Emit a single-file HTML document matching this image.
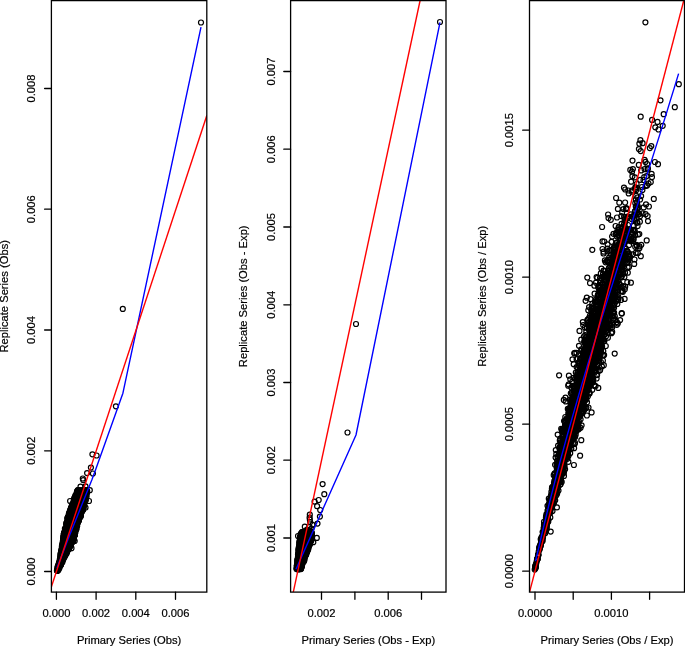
<!DOCTYPE html>
<html><head><meta charset="utf-8"><title>Replicate vs Primary Series</title>
<style>html,body{margin:0;padding:0;background:#fff}svg{display:block;will-change:transform;font-family:"Liberation Sans",Arial,Helvetica,sans-serif}</style></head><body>
<svg width="685" height="646" viewBox="0 0 685 646">
<rect width="685" height="646" fill="#fff"/>
<clipPath id="c51"><rect x="51.4" y="0" width="155.4" height="592.1"/></clipPath>
<g clip-path="url(#c51)">
<g fill="none" stroke="#000" stroke-width="1.2">
<circle cx="62.9" cy="551.7" r="2.5"/>
<circle cx="57.9" cy="566.6" r="2.5"/>
<circle cx="76.2" cy="507.3" r="2.5"/>
<circle cx="63.9" cy="533.6" r="2.5"/>
<circle cx="77.8" cy="492.9" r="2.5"/>
<circle cx="78.3" cy="494" r="2.5"/>
<circle cx="69.3" cy="517.3" r="2.5"/>
<circle cx="70.6" cy="538" r="2.5"/>
<circle cx="79.1" cy="502.4" r="2.5"/>
<circle cx="66.2" cy="548.8" r="2.5"/>
<circle cx="77.2" cy="501.1" r="2.5"/>
<circle cx="73.4" cy="534.3" r="2.5"/>
<circle cx="67.6" cy="517.7" r="2.5"/>
<circle cx="76.2" cy="515.7" r="2.5"/>
<circle cx="80.8" cy="496.2" r="2.5"/>
<circle cx="73.4" cy="506.3" r="2.5"/>
<circle cx="62.6" cy="549.4" r="2.5"/>
<circle cx="70.9" cy="536" r="2.5"/>
<circle cx="68.6" cy="545.9" r="2.5"/>
<circle cx="84.6" cy="491.6" r="2.5"/>
<circle cx="82" cy="490.3" r="2.5"/>
<circle cx="57.7" cy="569.2" r="2.5"/>
<circle cx="78.4" cy="511" r="2.5"/>
<circle cx="66.9" cy="535.6" r="2.5"/>
<circle cx="72.4" cy="504" r="2.5"/>
<circle cx="83" cy="509.2" r="2.5"/>
<circle cx="74.6" cy="511.2" r="2.5"/>
<circle cx="78.3" cy="492.7" r="2.5"/>
<circle cx="68.9" cy="527.7" r="2.5"/>
<circle cx="68.9" cy="530" r="2.5"/>
<circle cx="67" cy="527.8" r="2.5"/>
<circle cx="75.3" cy="523.1" r="2.5"/>
<circle cx="73.4" cy="531.1" r="2.5"/>
<circle cx="75.4" cy="519.1" r="2.5"/>
<circle cx="71.9" cy="510.6" r="2.5"/>
<circle cx="62.1" cy="549.4" r="2.5"/>
<circle cx="83.3" cy="504.3" r="2.5"/>
<circle cx="72.9" cy="512.4" r="2.5"/>
<circle cx="78.8" cy="491.7" r="2.5"/>
<circle cx="84.9" cy="490.8" r="2.5"/>
<circle cx="80.6" cy="498.8" r="2.5"/>
<circle cx="79.9" cy="491.3" r="2.5"/>
<circle cx="71.3" cy="511.2" r="2.5"/>
<circle cx="68.1" cy="540.2" r="2.5"/>
<circle cx="81" cy="497" r="2.5"/>
<circle cx="79.4" cy="512.4" r="2.5"/>
<circle cx="59.7" cy="562.5" r="2.5"/>
<circle cx="69.9" cy="535.9" r="2.5"/>
<circle cx="76.5" cy="493.5" r="2.5"/>
<circle cx="78.1" cy="502.6" r="2.5"/>
<circle cx="75.8" cy="518.9" r="2.5"/>
<circle cx="70.7" cy="542.2" r="2.5"/>
<circle cx="71.3" cy="511.2" r="2.5"/>
<circle cx="61.2" cy="555.7" r="2.5"/>
<circle cx="64.2" cy="552" r="2.5"/>
<circle cx="63.2" cy="546.6" r="2.5"/>
<circle cx="73" cy="508.9" r="2.5"/>
<circle cx="67" cy="534.1" r="2.5"/>
<circle cx="66.1" cy="547.1" r="2.5"/>
<circle cx="84.1" cy="499.2" r="2.5"/>
<circle cx="74.2" cy="512.5" r="2.5"/>
<circle cx="71.4" cy="531.9" r="2.5"/>
<circle cx="63" cy="549.5" r="2.5"/>
<circle cx="73.1" cy="536.2" r="2.5"/>
<circle cx="77.9" cy="512" r="2.5"/>
<circle cx="77.4" cy="505.6" r="2.5"/>
<circle cx="78.2" cy="498.4" r="2.5"/>
<circle cx="72.6" cy="512.5" r="2.5"/>
<circle cx="70.1" cy="516.8" r="2.5"/>
<circle cx="79.1" cy="503.7" r="2.5"/>
<circle cx="73.9" cy="518.2" r="2.5"/>
<circle cx="70.5" cy="521.2" r="2.5"/>
<circle cx="64.7" cy="552.4" r="2.5"/>
<circle cx="82.2" cy="499.6" r="2.5"/>
<circle cx="79.4" cy="513.5" r="2.5"/>
<circle cx="71.8" cy="505.9" r="2.5"/>
<circle cx="80.8" cy="515.4" r="2.5"/>
<circle cx="59.1" cy="562.6" r="2.5"/>
<circle cx="64.4" cy="550.3" r="2.5"/>
<circle cx="77.5" cy="513.7" r="2.5"/>
<circle cx="73" cy="511.7" r="2.5"/>
<circle cx="72.5" cy="530" r="2.5"/>
<circle cx="65.5" cy="536.8" r="2.5"/>
<circle cx="74.8" cy="515.7" r="2.5"/>
<circle cx="77.2" cy="492.5" r="2.5"/>
<circle cx="79.5" cy="506.4" r="2.5"/>
<circle cx="79" cy="512.3" r="2.5"/>
<circle cx="79.7" cy="499.2" r="2.5"/>
<circle cx="75.7" cy="520.1" r="2.5"/>
<circle cx="78.1" cy="504.4" r="2.5"/>
<circle cx="80.5" cy="497.6" r="2.5"/>
<circle cx="71.3" cy="532.7" r="2.5"/>
<circle cx="76.2" cy="502.8" r="2.5"/>
<circle cx="67.8" cy="527.5" r="2.5"/>
<circle cx="68" cy="546.3" r="2.5"/>
<circle cx="83.9" cy="495.9" r="2.5"/>
<circle cx="79.4" cy="496.1" r="2.5"/>
<circle cx="72.6" cy="507" r="2.5"/>
<circle cx="81.9" cy="499.6" r="2.5"/>
<circle cx="80.8" cy="502" r="2.5"/>
<circle cx="64.7" cy="555.7" r="2.5"/>
<circle cx="76.3" cy="526.3" r="2.5"/>
<circle cx="75.6" cy="519.3" r="2.5"/>
<circle cx="72.1" cy="523.7" r="2.5"/>
<circle cx="66.5" cy="545.9" r="2.5"/>
<circle cx="83.3" cy="502.6" r="2.5"/>
<circle cx="75.8" cy="521.4" r="2.5"/>
<circle cx="74.9" cy="523.9" r="2.5"/>
<circle cx="76.4" cy="507" r="2.5"/>
<circle cx="76.3" cy="514.2" r="2.5"/>
<circle cx="67.4" cy="548.2" r="2.5"/>
<circle cx="66.2" cy="545.5" r="2.5"/>
<circle cx="80.4" cy="495.1" r="2.5"/>
<circle cx="84.4" cy="503.1" r="2.5"/>
<circle cx="64.6" cy="545.1" r="2.5"/>
<circle cx="63.9" cy="548.8" r="2.5"/>
<circle cx="74.7" cy="531.6" r="2.5"/>
<circle cx="81.8" cy="497.3" r="2.5"/>
<circle cx="69.3" cy="529.4" r="2.5"/>
<circle cx="71.8" cy="510.4" r="2.5"/>
<circle cx="77.3" cy="494.6" r="2.5"/>
<circle cx="69" cy="529" r="2.5"/>
<circle cx="78" cy="498.6" r="2.5"/>
<circle cx="71" cy="528.7" r="2.5"/>
<circle cx="73.6" cy="503" r="2.5"/>
<circle cx="71" cy="529" r="2.5"/>
<circle cx="73" cy="521.2" r="2.5"/>
<circle cx="65.6" cy="533.1" r="2.5"/>
<circle cx="78.4" cy="497.3" r="2.5"/>
<circle cx="65.8" cy="540.4" r="2.5"/>
<circle cx="80.7" cy="505.7" r="2.5"/>
<circle cx="74.1" cy="502.8" r="2.5"/>
<circle cx="78.9" cy="507.2" r="2.5"/>
<circle cx="75.5" cy="502.6" r="2.5"/>
<circle cx="69" cy="518" r="2.5"/>
<circle cx="75.9" cy="507.5" r="2.5"/>
<circle cx="80.7" cy="491" r="2.5"/>
<circle cx="67.8" cy="536.7" r="2.5"/>
<circle cx="84.6" cy="500.6" r="2.5"/>
<circle cx="69.9" cy="537.8" r="2.5"/>
<circle cx="71.1" cy="522.6" r="2.5"/>
<circle cx="64.6" cy="532" r="2.5"/>
<circle cx="81.3" cy="497.7" r="2.5"/>
<circle cx="76.1" cy="515.9" r="2.5"/>
<circle cx="63.8" cy="534.4" r="2.5"/>
<circle cx="72.2" cy="527.2" r="2.5"/>
<circle cx="78.3" cy="508.3" r="2.5"/>
<circle cx="69.5" cy="537.3" r="2.5"/>
<circle cx="77.2" cy="492.5" r="2.5"/>
<circle cx="76.2" cy="501" r="2.5"/>
<circle cx="73.5" cy="539.4" r="2.5"/>
<circle cx="73.6" cy="533.7" r="2.5"/>
<circle cx="68.8" cy="528.4" r="2.5"/>
<circle cx="70.6" cy="530.2" r="2.5"/>
<circle cx="78.5" cy="491.3" r="2.5"/>
<circle cx="75.3" cy="515.4" r="2.5"/>
<circle cx="71" cy="530.1" r="2.5"/>
<circle cx="78.4" cy="514.9" r="2.5"/>
<circle cx="58.9" cy="567" r="2.5"/>
<circle cx="66.8" cy="551.3" r="2.5"/>
<circle cx="70" cy="534.3" r="2.5"/>
<circle cx="77.4" cy="497.1" r="2.5"/>
<circle cx="73.6" cy="535.6" r="2.5"/>
<circle cx="71" cy="509.9" r="2.5"/>
<circle cx="81.1" cy="513.1" r="2.5"/>
<circle cx="80.4" cy="497.4" r="2.5"/>
<circle cx="61.9" cy="546.2" r="2.5"/>
<circle cx="75.9" cy="502.2" r="2.5"/>
<circle cx="70.4" cy="540.7" r="2.5"/>
<circle cx="68.1" cy="518.3" r="2.5"/>
<circle cx="75.3" cy="495.6" r="2.5"/>
<circle cx="73.5" cy="539.6" r="2.5"/>
<circle cx="72.8" cy="535.1" r="2.5"/>
<circle cx="78.3" cy="492.8" r="2.5"/>
<circle cx="74.2" cy="529.2" r="2.5"/>
<circle cx="57.5" cy="569" r="2.5"/>
<circle cx="76.3" cy="494.8" r="2.5"/>
<circle cx="64.1" cy="556.3" r="2.5"/>
<circle cx="66.3" cy="546.7" r="2.5"/>
<circle cx="75.5" cy="506.8" r="2.5"/>
<circle cx="82.4" cy="500.5" r="2.5"/>
<circle cx="84.8" cy="498.5" r="2.5"/>
<circle cx="61.7" cy="552.5" r="2.5"/>
<circle cx="75.2" cy="502.8" r="2.5"/>
<circle cx="59.7" cy="566.1" r="2.5"/>
<circle cx="79.5" cy="501.4" r="2.5"/>
<circle cx="77.9" cy="504.1" r="2.5"/>
<circle cx="68.8" cy="540.8" r="2.5"/>
<circle cx="68.4" cy="536.8" r="2.5"/>
<circle cx="84.8" cy="498.3" r="2.5"/>
<circle cx="73.4" cy="503.6" r="2.5"/>
<circle cx="70.6" cy="530.1" r="2.5"/>
<circle cx="78.5" cy="519.2" r="2.5"/>
<circle cx="83" cy="509.8" r="2.5"/>
<circle cx="80" cy="507.5" r="2.5"/>
<circle cx="74.3" cy="529.4" r="2.5"/>
<circle cx="70.3" cy="535.3" r="2.5"/>
<circle cx="79.2" cy="506.5" r="2.5"/>
<circle cx="70.7" cy="537.3" r="2.5"/>
<circle cx="73.9" cy="531" r="2.5"/>
<circle cx="84.4" cy="491.4" r="2.5"/>
<circle cx="66.5" cy="545.9" r="2.5"/>
<circle cx="80.8" cy="492.4" r="2.5"/>
<circle cx="71.5" cy="514.9" r="2.5"/>
<circle cx="60.9" cy="565.1" r="2.5"/>
<circle cx="80.2" cy="493.3" r="2.5"/>
<circle cx="66.7" cy="546.1" r="2.5"/>
<circle cx="72.6" cy="536.9" r="2.5"/>
<circle cx="66.2" cy="544.2" r="2.5"/>
<circle cx="76.9" cy="521.6" r="2.5"/>
<circle cx="72.4" cy="531.3" r="2.5"/>
<circle cx="75" cy="525.6" r="2.5"/>
<circle cx="81" cy="503.8" r="2.5"/>
<circle cx="62.4" cy="549.8" r="2.5"/>
<circle cx="78.9" cy="508.6" r="2.5"/>
<circle cx="57.5" cy="568.1" r="2.5"/>
<circle cx="86.9" cy="491.5" r="2.5"/>
<circle cx="71" cy="526.6" r="2.5"/>
<circle cx="70.6" cy="522.9" r="2.5"/>
<circle cx="70.9" cy="529.5" r="2.5"/>
<circle cx="78.5" cy="501.5" r="2.5"/>
<circle cx="66.7" cy="529.1" r="2.5"/>
<circle cx="70.4" cy="524.8" r="2.5"/>
<circle cx="67.7" cy="536.1" r="2.5"/>
<circle cx="74" cy="502.8" r="2.5"/>
<circle cx="66.1" cy="539.4" r="2.5"/>
<circle cx="71.1" cy="507.8" r="2.5"/>
<circle cx="69.8" cy="544.5" r="2.5"/>
<circle cx="81.5" cy="503.1" r="2.5"/>
<circle cx="78.9" cy="511" r="2.5"/>
<circle cx="63.7" cy="551.1" r="2.5"/>
<circle cx="79" cy="498.1" r="2.5"/>
<circle cx="66.2" cy="530.1" r="2.5"/>
<circle cx="70.9" cy="517.5" r="2.5"/>
<circle cx="81.2" cy="512.9" r="2.5"/>
<circle cx="70.8" cy="521.4" r="2.5"/>
<circle cx="74.7" cy="512.5" r="2.5"/>
<circle cx="61.6" cy="556.2" r="2.5"/>
<circle cx="82.7" cy="510.1" r="2.5"/>
<circle cx="77.4" cy="495.1" r="2.5"/>
<circle cx="61.7" cy="552" r="2.5"/>
<circle cx="74.7" cy="498.2" r="2.5"/>
<circle cx="78.6" cy="490.6" r="2.5"/>
<circle cx="69.4" cy="521.3" r="2.5"/>
<circle cx="82.7" cy="494.6" r="2.5"/>
<circle cx="74.2" cy="521.2" r="2.5"/>
<circle cx="82.3" cy="500" r="2.5"/>
<circle cx="63.3" cy="553.7" r="2.5"/>
<circle cx="76.2" cy="516.3" r="2.5"/>
<circle cx="68" cy="530.8" r="2.5"/>
<circle cx="75.2" cy="520.6" r="2.5"/>
<circle cx="65.9" cy="543.8" r="2.5"/>
<circle cx="72.2" cy="510.7" r="2.5"/>
<circle cx="64.2" cy="552.3" r="2.5"/>
<circle cx="62.9" cy="544.5" r="2.5"/>
<circle cx="70.8" cy="535.9" r="2.5"/>
<circle cx="74.3" cy="510.2" r="2.5"/>
<circle cx="62.2" cy="546.3" r="2.5"/>
<circle cx="67.7" cy="518.1" r="2.5"/>
<circle cx="80.1" cy="495.6" r="2.5"/>
<circle cx="81.1" cy="507" r="2.5"/>
<circle cx="70.7" cy="517.2" r="2.5"/>
<circle cx="84.2" cy="491" r="2.5"/>
<circle cx="65.6" cy="533.4" r="2.5"/>
<circle cx="67.6" cy="524.1" r="2.5"/>
<circle cx="68.3" cy="542.5" r="2.5"/>
<circle cx="76.3" cy="497.8" r="2.5"/>
<circle cx="74.3" cy="508.6" r="2.5"/>
<circle cx="74" cy="527.9" r="2.5"/>
<circle cx="71.2" cy="519.4" r="2.5"/>
<circle cx="79.3" cy="501.1" r="2.5"/>
<circle cx="70.6" cy="522.7" r="2.5"/>
<circle cx="83.4" cy="508.6" r="2.5"/>
<circle cx="75.3" cy="515.8" r="2.5"/>
<circle cx="61.4" cy="561.2" r="2.5"/>
<circle cx="80.2" cy="497.9" r="2.5"/>
<circle cx="71.5" cy="535.7" r="2.5"/>
<circle cx="77" cy="518.1" r="2.5"/>
<circle cx="67.9" cy="546.3" r="2.5"/>
<circle cx="74.9" cy="514.7" r="2.5"/>
<circle cx="76.2" cy="518.1" r="2.5"/>
<circle cx="68.2" cy="544.5" r="2.5"/>
<circle cx="74.2" cy="527.3" r="2.5"/>
<circle cx="71.3" cy="529" r="2.5"/>
<circle cx="66.5" cy="527" r="2.5"/>
<circle cx="68.4" cy="545.4" r="2.5"/>
<circle cx="81.7" cy="509.4" r="2.5"/>
<circle cx="66.6" cy="552.1" r="2.5"/>
<circle cx="72.8" cy="518" r="2.5"/>
<circle cx="70.8" cy="525.8" r="2.5"/>
<circle cx="84.6" cy="496.3" r="2.5"/>
<circle cx="58.7" cy="566.1" r="2.5"/>
<circle cx="78.3" cy="501.1" r="2.5"/>
<circle cx="78.9" cy="518.3" r="2.5"/>
<circle cx="67" cy="523.6" r="2.5"/>
<circle cx="67.1" cy="527.6" r="2.5"/>
<circle cx="70.8" cy="541.7" r="2.5"/>
<circle cx="71.2" cy="515.5" r="2.5"/>
<circle cx="63.5" cy="536.9" r="2.5"/>
<circle cx="75.7" cy="501.5" r="2.5"/>
<circle cx="70.6" cy="545.1" r="2.5"/>
<circle cx="68.8" cy="549.4" r="2.5"/>
<circle cx="85" cy="494" r="2.5"/>
<circle cx="76.3" cy="505.4" r="2.5"/>
<circle cx="68.3" cy="517" r="2.5"/>
<circle cx="81.7" cy="510.8" r="2.5"/>
<circle cx="74.3" cy="509.4" r="2.5"/>
<circle cx="77.2" cy="506" r="2.5"/>
<circle cx="79.6" cy="508.9" r="2.5"/>
<circle cx="69.1" cy="543.7" r="2.5"/>
<circle cx="63.1" cy="548.3" r="2.5"/>
<circle cx="72.1" cy="529.6" r="2.5"/>
<circle cx="69.7" cy="525.7" r="2.5"/>
<circle cx="70.5" cy="518.8" r="2.5"/>
<circle cx="70.9" cy="534.6" r="2.5"/>
<circle cx="64.1" cy="546.5" r="2.5"/>
<circle cx="68.4" cy="532.4" r="2.5"/>
<circle cx="79.6" cy="514.7" r="2.5"/>
<circle cx="72.7" cy="523.5" r="2.5"/>
<circle cx="59.9" cy="566" r="2.5"/>
<circle cx="63.7" cy="547.4" r="2.5"/>
<circle cx="72.9" cy="536.2" r="2.5"/>
<circle cx="67.3" cy="531.4" r="2.5"/>
<circle cx="83.3" cy="499" r="2.5"/>
<circle cx="66.5" cy="539.2" r="2.5"/>
<circle cx="59.6" cy="567.7" r="2.5"/>
<circle cx="74.9" cy="506.1" r="2.5"/>
<circle cx="71.2" cy="513" r="2.5"/>
<circle cx="76.8" cy="520.2" r="2.5"/>
<circle cx="79.8" cy="501.8" r="2.5"/>
<circle cx="75.8" cy="528.7" r="2.5"/>
<circle cx="61.1" cy="551.9" r="2.5"/>
<circle cx="71.3" cy="511.2" r="2.5"/>
<circle cx="80.5" cy="506.8" r="2.5"/>
<circle cx="77.4" cy="496" r="2.5"/>
<circle cx="85.1" cy="491.1" r="2.5"/>
<circle cx="70.4" cy="525.9" r="2.5"/>
<circle cx="73.9" cy="535.8" r="2.5"/>
<circle cx="70.5" cy="509.7" r="2.5"/>
<circle cx="65.5" cy="532.3" r="2.5"/>
<circle cx="73.9" cy="525.6" r="2.5"/>
<circle cx="82.1" cy="497.6" r="2.5"/>
<circle cx="70.4" cy="521.5" r="2.5"/>
<circle cx="58.5" cy="569.7" r="2.5"/>
<circle cx="67.1" cy="524" r="2.5"/>
<circle cx="74.5" cy="509.9" r="2.5"/>
<circle cx="86" cy="495.2" r="2.5"/>
<circle cx="72.8" cy="539.8" r="2.5"/>
<circle cx="80.5" cy="514.1" r="2.5"/>
<circle cx="79" cy="505.7" r="2.5"/>
<circle cx="72.9" cy="535.1" r="2.5"/>
<circle cx="64.7" cy="554.9" r="2.5"/>
<circle cx="66" cy="551.8" r="2.5"/>
<circle cx="77.3" cy="505.5" r="2.5"/>
<circle cx="63.4" cy="551.2" r="2.5"/>
<circle cx="78.4" cy="491.7" r="2.5"/>
<circle cx="70.2" cy="511.7" r="2.5"/>
<circle cx="60.6" cy="560.8" r="2.5"/>
<circle cx="82.5" cy="510.7" r="2.5"/>
<circle cx="67.7" cy="526.5" r="2.5"/>
<circle cx="74.2" cy="530.6" r="2.5"/>
<circle cx="74.1" cy="506.8" r="2.5"/>
<circle cx="73.3" cy="530.5" r="2.5"/>
<circle cx="83.3" cy="504.9" r="2.5"/>
<circle cx="78.4" cy="510.2" r="2.5"/>
<circle cx="67.8" cy="520.4" r="2.5"/>
<circle cx="67.3" cy="523.8" r="2.5"/>
<circle cx="80.9" cy="497.8" r="2.5"/>
<circle cx="68.5" cy="533" r="2.5"/>
<circle cx="65.8" cy="533.8" r="2.5"/>
<circle cx="61.8" cy="553.9" r="2.5"/>
<circle cx="64.9" cy="546.4" r="2.5"/>
<circle cx="71.2" cy="520.5" r="2.5"/>
<circle cx="70.8" cy="529.1" r="2.5"/>
<circle cx="72.5" cy="523.8" r="2.5"/>
<circle cx="64.9" cy="543.2" r="2.5"/>
<circle cx="74.2" cy="505.7" r="2.5"/>
<circle cx="70.3" cy="546.2" r="2.5"/>
<circle cx="79" cy="519.5" r="2.5"/>
<circle cx="72" cy="508.7" r="2.5"/>
<circle cx="68.9" cy="545.2" r="2.5"/>
<circle cx="60.2" cy="560" r="2.5"/>
<circle cx="76.8" cy="504.3" r="2.5"/>
<circle cx="83" cy="498.8" r="2.5"/>
<circle cx="77.8" cy="519.2" r="2.5"/>
<circle cx="71" cy="534.9" r="2.5"/>
<circle cx="66.6" cy="538.9" r="2.5"/>
<circle cx="71.1" cy="524.7" r="2.5"/>
<circle cx="77" cy="518.6" r="2.5"/>
<circle cx="61.1" cy="557.2" r="2.5"/>
<circle cx="73.3" cy="517.5" r="2.5"/>
<circle cx="67.1" cy="534.2" r="2.5"/>
<circle cx="64" cy="533.5" r="2.5"/>
<circle cx="80.7" cy="508.5" r="2.5"/>
<circle cx="76.2" cy="515.8" r="2.5"/>
<circle cx="66.7" cy="525.5" r="2.5"/>
<circle cx="83.7" cy="507.3" r="2.5"/>
<circle cx="81.3" cy="496.9" r="2.5"/>
<circle cx="67.2" cy="549.7" r="2.5"/>
<circle cx="62" cy="546.4" r="2.5"/>
<circle cx="74.4" cy="510.5" r="2.5"/>
<circle cx="70.1" cy="536.8" r="2.5"/>
<circle cx="78.2" cy="512.8" r="2.5"/>
<circle cx="63.8" cy="550.8" r="2.5"/>
<circle cx="79.2" cy="496.5" r="2.5"/>
<circle cx="84.4" cy="495.2" r="2.5"/>
<circle cx="68.3" cy="519.8" r="2.5"/>
<circle cx="80.4" cy="496.1" r="2.5"/>
<circle cx="70.8" cy="541.2" r="2.5"/>
<circle cx="63" cy="548.1" r="2.5"/>
<circle cx="65.3" cy="540.6" r="2.5"/>
<circle cx="69.7" cy="522.5" r="2.5"/>
<circle cx="86.6" cy="496.5" r="2.5"/>
<circle cx="63.3" cy="557.7" r="2.5"/>
<circle cx="79.1" cy="512.3" r="2.5"/>
<circle cx="77.7" cy="490.7" r="2.5"/>
<circle cx="85" cy="495.5" r="2.5"/>
<circle cx="68.8" cy="534.5" r="2.5"/>
<circle cx="74.3" cy="535.8" r="2.5"/>
<circle cx="65.9" cy="529.9" r="2.5"/>
<circle cx="77.7" cy="492.5" r="2.5"/>
<circle cx="70.1" cy="546.3" r="2.5"/>
<circle cx="79.7" cy="508.9" r="2.5"/>
<circle cx="75.8" cy="524.2" r="2.5"/>
<circle cx="69.8" cy="521.6" r="2.5"/>
<circle cx="69.2" cy="512.7" r="2.5"/>
<circle cx="66.9" cy="546.3" r="2.5"/>
<circle cx="69.8" cy="517.1" r="2.5"/>
<circle cx="68.5" cy="525.8" r="2.5"/>
<circle cx="67.5" cy="532.6" r="2.5"/>
<circle cx="68.9" cy="538.9" r="2.5"/>
<circle cx="70" cy="539.4" r="2.5"/>
<circle cx="60.6" cy="565.3" r="2.5"/>
<circle cx="68.8" cy="514.1" r="2.5"/>
<circle cx="76.8" cy="507.3" r="2.5"/>
<circle cx="65.8" cy="537.4" r="2.5"/>
<circle cx="63.5" cy="546.4" r="2.5"/>
<circle cx="77.4" cy="491.9" r="2.5"/>
<circle cx="75.4" cy="523.7" r="2.5"/>
<circle cx="60.6" cy="554.2" r="2.5"/>
<circle cx="67.5" cy="519.4" r="2.5"/>
<circle cx="70.2" cy="545.4" r="2.5"/>
<circle cx="70.8" cy="512.3" r="2.5"/>
<circle cx="78.2" cy="509.7" r="2.5"/>
<circle cx="75.9" cy="525.9" r="2.5"/>
<circle cx="68" cy="528.7" r="2.5"/>
<circle cx="64.3" cy="554.3" r="2.5"/>
<circle cx="62" cy="548.8" r="2.5"/>
<circle cx="68.7" cy="526.4" r="2.5"/>
<circle cx="72.6" cy="504" r="2.5"/>
<circle cx="80.8" cy="493.6" r="2.5"/>
<circle cx="72.8" cy="537.1" r="2.5"/>
<circle cx="62.4" cy="545.1" r="2.5"/>
<circle cx="70.6" cy="542.1" r="2.5"/>
<circle cx="72.9" cy="533.7" r="2.5"/>
<circle cx="63.9" cy="557.8" r="2.5"/>
<circle cx="72.1" cy="531" r="2.5"/>
<circle cx="64.9" cy="547.4" r="2.5"/>
<circle cx="79.5" cy="504.8" r="2.5"/>
<circle cx="75.2" cy="497.1" r="2.5"/>
<circle cx="66.5" cy="522.8" r="2.5"/>
<circle cx="74.2" cy="503.8" r="2.5"/>
<circle cx="83.2" cy="497" r="2.5"/>
<circle cx="68.3" cy="535.9" r="2.5"/>
<circle cx="69.4" cy="528.3" r="2.5"/>
<circle cx="65.2" cy="550.1" r="2.5"/>
<circle cx="71.2" cy="508.4" r="2.5"/>
<circle cx="71.1" cy="532" r="2.5"/>
<circle cx="71.2" cy="532.3" r="2.5"/>
<circle cx="64.5" cy="537.4" r="2.5"/>
<circle cx="73.6" cy="536.3" r="2.5"/>
<circle cx="64.9" cy="555.7" r="2.5"/>
<circle cx="72.8" cy="505" r="2.5"/>
<circle cx="68.9" cy="541.2" r="2.5"/>
<circle cx="71.8" cy="519" r="2.5"/>
<circle cx="66.7" cy="552.5" r="2.5"/>
<circle cx="80.2" cy="514.9" r="2.5"/>
<circle cx="70" cy="531.4" r="2.5"/>
<circle cx="75.4" cy="521.8" r="2.5"/>
<circle cx="62.3" cy="545.9" r="2.5"/>
<circle cx="73" cy="533" r="2.5"/>
<circle cx="64.3" cy="535.6" r="2.5"/>
<circle cx="76" cy="526.2" r="2.5"/>
<circle cx="63" cy="540.6" r="2.5"/>
<circle cx="71.9" cy="534.3" r="2.5"/>
<circle cx="72.5" cy="513.5" r="2.5"/>
<circle cx="82.8" cy="502.4" r="2.5"/>
<circle cx="78.1" cy="490.1" r="2.5"/>
<circle cx="79.5" cy="504.9" r="2.5"/>
<circle cx="78.9" cy="520.8" r="2.5"/>
<circle cx="82.9" cy="497" r="2.5"/>
<circle cx="77" cy="491.5" r="2.5"/>
<circle cx="68.4" cy="542.1" r="2.5"/>
<circle cx="75.3" cy="499.5" r="2.5"/>
<circle cx="74.8" cy="529.9" r="2.5"/>
<circle cx="73.4" cy="537.3" r="2.5"/>
<circle cx="80.4" cy="506.7" r="2.5"/>
<circle cx="66.6" cy="547.6" r="2.5"/>
<circle cx="74.2" cy="519.5" r="2.5"/>
<circle cx="75.3" cy="512.9" r="2.5"/>
<circle cx="75.1" cy="509.4" r="2.5"/>
<circle cx="84.7" cy="491.8" r="2.5"/>
<circle cx="85.8" cy="498.9" r="2.5"/>
<circle cx="81.3" cy="509.5" r="2.5"/>
<circle cx="64.7" cy="548.7" r="2.5"/>
<circle cx="84.9" cy="496.1" r="2.5"/>
<circle cx="69.7" cy="542.4" r="2.5"/>
<circle cx="76.6" cy="505.7" r="2.5"/>
<circle cx="65.7" cy="538.8" r="2.5"/>
<circle cx="60.5" cy="563.8" r="2.5"/>
<circle cx="65.3" cy="530" r="2.5"/>
<circle cx="60.1" cy="563.5" r="2.5"/>
<circle cx="72.2" cy="536.5" r="2.5"/>
<circle cx="62.9" cy="559.3" r="2.5"/>
<circle cx="64.5" cy="555.5" r="2.5"/>
<circle cx="62.7" cy="558.4" r="2.5"/>
<circle cx="66" cy="545.7" r="2.5"/>
<circle cx="80.6" cy="497.4" r="2.5"/>
<circle cx="82.4" cy="506" r="2.5"/>
<circle cx="62.1" cy="558.2" r="2.5"/>
<circle cx="73.1" cy="529.8" r="2.5"/>
<circle cx="73.7" cy="517.9" r="2.5"/>
<circle cx="84" cy="500.3" r="2.5"/>
<circle cx="72.7" cy="505.3" r="2.5"/>
<circle cx="83.3" cy="492.2" r="2.5"/>
<circle cx="66.1" cy="547.4" r="2.5"/>
<circle cx="83.7" cy="497.3" r="2.5"/>
<circle cx="68.7" cy="526.9" r="2.5"/>
<circle cx="76" cy="501.7" r="2.5"/>
<circle cx="65.6" cy="538" r="2.5"/>
<circle cx="73" cy="523.6" r="2.5"/>
<circle cx="73.3" cy="527.1" r="2.5"/>
<circle cx="81.3" cy="492.1" r="2.5"/>
<circle cx="78.7" cy="509.2" r="2.5"/>
<circle cx="65.5" cy="551" r="2.5"/>
<circle cx="64.6" cy="538.9" r="2.5"/>
<circle cx="73.7" cy="520.6" r="2.5"/>
<circle cx="63.8" cy="539.6" r="2.5"/>
<circle cx="80.4" cy="496.9" r="2.5"/>
<circle cx="69.3" cy="513.4" r="2.5"/>
<circle cx="59.7" cy="562.1" r="2.5"/>
<circle cx="71.4" cy="531.6" r="2.5"/>
<circle cx="60.2" cy="561.5" r="2.5"/>
<circle cx="67.7" cy="529.2" r="2.5"/>
<circle cx="66.9" cy="552.1" r="2.5"/>
<circle cx="68.5" cy="538.3" r="2.5"/>
<circle cx="75.9" cy="505.4" r="2.5"/>
<circle cx="76" cy="497.1" r="2.5"/>
<circle cx="78.1" cy="497.4" r="2.5"/>
<circle cx="79.5" cy="515.2" r="2.5"/>
<circle cx="63.7" cy="538.6" r="2.5"/>
<circle cx="81.4" cy="494.6" r="2.5"/>
<circle cx="66.6" cy="522.7" r="2.5"/>
<circle cx="70.9" cy="511.9" r="2.5"/>
<circle cx="77.3" cy="499.3" r="2.5"/>
<circle cx="69.5" cy="538.9" r="2.5"/>
<circle cx="62.5" cy="558.9" r="2.5"/>
<circle cx="80.7" cy="505.1" r="2.5"/>
<circle cx="85" cy="497.1" r="2.5"/>
<circle cx="66.9" cy="524" r="2.5"/>
<circle cx="68.7" cy="518.4" r="2.5"/>
<circle cx="73.2" cy="514.9" r="2.5"/>
<circle cx="67.1" cy="536.8" r="2.5"/>
<circle cx="64.5" cy="546.6" r="2.5"/>
<circle cx="70.3" cy="522.7" r="2.5"/>
<circle cx="75.6" cy="515.4" r="2.5"/>
<circle cx="68.4" cy="518.3" r="2.5"/>
<circle cx="63.6" cy="548.5" r="2.5"/>
<circle cx="74.7" cy="518.7" r="2.5"/>
<circle cx="76.5" cy="497.4" r="2.5"/>
<circle cx="77.2" cy="494.2" r="2.5"/>
<circle cx="71" cy="528.2" r="2.5"/>
<circle cx="78.9" cy="495.4" r="2.5"/>
<circle cx="70" cy="529.2" r="2.5"/>
<circle cx="63.2" cy="546.6" r="2.5"/>
<circle cx="66.6" cy="529.8" r="2.5"/>
<circle cx="84.7" cy="498.3" r="2.5"/>
<circle cx="69.8" cy="544.2" r="2.5"/>
<circle cx="71.6" cy="516.4" r="2.5"/>
<circle cx="79.4" cy="511.5" r="2.5"/>
<circle cx="65.3" cy="536.6" r="2.5"/>
<circle cx="69.5" cy="544.5" r="2.5"/>
<circle cx="79.3" cy="503.6" r="2.5"/>
<circle cx="62.8" cy="556.5" r="2.5"/>
<circle cx="67.4" cy="521.8" r="2.5"/>
<circle cx="82.6" cy="503.2" r="2.5"/>
<circle cx="64.3" cy="555.1" r="2.5"/>
<circle cx="69.6" cy="528.2" r="2.5"/>
<circle cx="65.6" cy="536.3" r="2.5"/>
<circle cx="62.2" cy="556.9" r="2.5"/>
<circle cx="61.1" cy="561.4" r="2.5"/>
<circle cx="68.7" cy="542.6" r="2.5"/>
<circle cx="62.7" cy="553.4" r="2.5"/>
<circle cx="60.3" cy="560.7" r="2.5"/>
<circle cx="76" cy="517.6" r="2.5"/>
<circle cx="73.9" cy="535.6" r="2.5"/>
<circle cx="69.5" cy="537.7" r="2.5"/>
<circle cx="79.8" cy="493.9" r="2.5"/>
<circle cx="76.3" cy="499.1" r="2.5"/>
<circle cx="80.1" cy="510.5" r="2.5"/>
<circle cx="65.7" cy="541.2" r="2.5"/>
<circle cx="57.9" cy="566.6" r="2.5"/>
<circle cx="80.1" cy="494.8" r="2.5"/>
<circle cx="73.6" cy="525" r="2.5"/>
<circle cx="68.3" cy="538.3" r="2.5"/>
<circle cx="84.4" cy="498.5" r="2.5"/>
<circle cx="60.8" cy="559" r="2.5"/>
<circle cx="63.9" cy="551.5" r="2.5"/>
<circle cx="64.9" cy="541.9" r="2.5"/>
<circle cx="77.9" cy="492" r="2.5"/>
<circle cx="71.9" cy="512.2" r="2.5"/>
<circle cx="67.8" cy="519.8" r="2.5"/>
<circle cx="68.2" cy="524.7" r="2.5"/>
<circle cx="71.3" cy="518.8" r="2.5"/>
<circle cx="69.6" cy="530.8" r="2.5"/>
<circle cx="84.5" cy="500.1" r="2.5"/>
<circle cx="81.9" cy="497.4" r="2.5"/>
<circle cx="84.8" cy="496" r="2.5"/>
<circle cx="77.3" cy="513.4" r="2.5"/>
<circle cx="60.1" cy="563.3" r="2.5"/>
<circle cx="71" cy="535" r="2.5"/>
<circle cx="72.7" cy="533.9" r="2.5"/>
<circle cx="81.3" cy="496" r="2.5"/>
<circle cx="76" cy="509" r="2.5"/>
<circle cx="58.1" cy="568.5" r="2.5"/>
<circle cx="60.2" cy="559.8" r="2.5"/>
<circle cx="78.5" cy="494.1" r="2.5"/>
<circle cx="79.5" cy="512.8" r="2.5"/>
<circle cx="62.8" cy="559.5" r="2.5"/>
<circle cx="79.4" cy="511.6" r="2.5"/>
<circle cx="69" cy="521.5" r="2.5"/>
<circle cx="76.1" cy="524.9" r="2.5"/>
<circle cx="75.2" cy="525.1" r="2.5"/>
<circle cx="78.7" cy="496.9" r="2.5"/>
<circle cx="67.6" cy="540" r="2.5"/>
<circle cx="61.1" cy="564.3" r="2.5"/>
<circle cx="67.5" cy="539.7" r="2.5"/>
<circle cx="75.1" cy="513.9" r="2.5"/>
<circle cx="76.3" cy="499.5" r="2.5"/>
<circle cx="83.1" cy="498" r="2.5"/>
<circle cx="81.5" cy="512.4" r="2.5"/>
<circle cx="68.7" cy="522.5" r="2.5"/>
<circle cx="79.5" cy="504.6" r="2.5"/>
<circle cx="81.6" cy="510.9" r="2.5"/>
<circle cx="67.5" cy="532.7" r="2.5"/>
<circle cx="73.3" cy="538.8" r="2.5"/>
<circle cx="78.6" cy="521" r="2.5"/>
<circle cx="76" cy="501.1" r="2.5"/>
<circle cx="80.9" cy="511.6" r="2.5"/>
<circle cx="74.1" cy="502.6" r="2.5"/>
<circle cx="65.4" cy="546.7" r="2.5"/>
<circle cx="73.1" cy="513.4" r="2.5"/>
<circle cx="72.9" cy="520.7" r="2.5"/>
<circle cx="70.7" cy="537.9" r="2.5"/>
<circle cx="73.5" cy="526.3" r="2.5"/>
<circle cx="82.8" cy="501.8" r="2.5"/>
<circle cx="76.3" cy="505.5" r="2.5"/>
<circle cx="79" cy="503.8" r="2.5"/>
<circle cx="70.3" cy="510.1" r="2.5"/>
<circle cx="79.6" cy="508.3" r="2.5"/>
<circle cx="70.5" cy="537.8" r="2.5"/>
<circle cx="68.3" cy="535.2" r="2.5"/>
<circle cx="75" cy="512.3" r="2.5"/>
<circle cx="66.4" cy="543" r="2.5"/>
<circle cx="69.4" cy="537.8" r="2.5"/>
<circle cx="65.3" cy="545.4" r="2.5"/>
<circle cx="69.5" cy="539.8" r="2.5"/>
<circle cx="66.2" cy="549.7" r="2.5"/>
<circle cx="79.8" cy="508.5" r="2.5"/>
<circle cx="71.1" cy="520.2" r="2.5"/>
<circle cx="81.9" cy="495.9" r="2.5"/>
<circle cx="73.9" cy="512.9" r="2.5"/>
<circle cx="75.5" cy="505.6" r="2.5"/>
<circle cx="73.6" cy="508.9" r="2.5"/>
<circle cx="69.9" cy="524.1" r="2.5"/>
<circle cx="69.1" cy="525.6" r="2.5"/>
<circle cx="78.5" cy="500.5" r="2.5"/>
<circle cx="62.8" cy="554.2" r="2.5"/>
<circle cx="64" cy="555.2" r="2.5"/>
<circle cx="65.5" cy="551.3" r="2.5"/>
<circle cx="79.3" cy="504" r="2.5"/>
<circle cx="62.4" cy="556.9" r="2.5"/>
<circle cx="75.1" cy="501" r="2.5"/>
<circle cx="75.8" cy="495.6" r="2.5"/>
<circle cx="72.2" cy="509.4" r="2.5"/>
<circle cx="81.6" cy="504" r="2.5"/>
<circle cx="62.9" cy="554.4" r="2.5"/>
<circle cx="74.9" cy="523.2" r="2.5"/>
<circle cx="80.1" cy="491.4" r="2.5"/>
<circle cx="63.4" cy="548.5" r="2.5"/>
<circle cx="58.4" cy="569.7" r="2.5"/>
<circle cx="79.7" cy="495" r="2.5"/>
<circle cx="82" cy="502.6" r="2.5"/>
<circle cx="74.8" cy="521.5" r="2.5"/>
<circle cx="81.7" cy="507.8" r="2.5"/>
<circle cx="62.6" cy="553.7" r="2.5"/>
<circle cx="77.2" cy="504.5" r="2.5"/>
<circle cx="64.4" cy="536" r="2.5"/>
<circle cx="76" cy="507.1" r="2.5"/>
<circle cx="71.9" cy="540" r="2.5"/>
<circle cx="81.6" cy="509.9" r="2.5"/>
<circle cx="74.9" cy="498.2" r="2.5"/>
<circle cx="81.5" cy="493.3" r="2.5"/>
<circle cx="70.3" cy="543.9" r="2.5"/>
<circle cx="69.2" cy="536.8" r="2.5"/>
<circle cx="71.6" cy="535.8" r="2.5"/>
<circle cx="61.7" cy="553.8" r="2.5"/>
<circle cx="74" cy="502.8" r="2.5"/>
<circle cx="66.2" cy="546.8" r="2.5"/>
<circle cx="82.9" cy="509.4" r="2.5"/>
<circle cx="70.2" cy="523.5" r="2.5"/>
<circle cx="60.7" cy="557.5" r="2.5"/>
<circle cx="67.7" cy="529.2" r="2.5"/>
<circle cx="75.5" cy="500" r="2.5"/>
<circle cx="73.4" cy="540.6" r="2.5"/>
<circle cx="64.7" cy="531.7" r="2.5"/>
<circle cx="76.5" cy="511" r="2.5"/>
<circle cx="68.7" cy="546.7" r="2.5"/>
<circle cx="84.5" cy="499" r="2.5"/>
<circle cx="63.8" cy="541.9" r="2.5"/>
<circle cx="57.1" cy="570.5" r="2.5"/>
<circle cx="70.5" cy="524.3" r="2.5"/>
<circle cx="62.2" cy="562.3" r="2.5"/>
<circle cx="78.3" cy="511" r="2.5"/>
<circle cx="79.6" cy="495.5" r="2.5"/>
<circle cx="77.4" cy="511.8" r="2.5"/>
<circle cx="78.3" cy="507.3" r="2.5"/>
<circle cx="75" cy="527.8" r="2.5"/>
<circle cx="78.5" cy="519.5" r="2.5"/>
<circle cx="72.8" cy="532.3" r="2.5"/>
<circle cx="63.1" cy="543.2" r="2.5"/>
<circle cx="63.1" cy="540.9" r="2.5"/>
<circle cx="73.8" cy="525.9" r="2.5"/>
<circle cx="74.7" cy="510.1" r="2.5"/>
<circle cx="78.1" cy="505.9" r="2.5"/>
<circle cx="65" cy="552.8" r="2.5"/>
<circle cx="62.1" cy="547.3" r="2.5"/>
<circle cx="66.4" cy="551.8" r="2.5"/>
<circle cx="78.3" cy="495.5" r="2.5"/>
<circle cx="74.8" cy="534.3" r="2.5"/>
<circle cx="73.5" cy="504.4" r="2.5"/>
<circle cx="70.9" cy="513.4" r="2.5"/>
<circle cx="80" cy="491.6" r="2.5"/>
<circle cx="76.4" cy="515.5" r="2.5"/>
<circle cx="78.1" cy="513.6" r="2.5"/>
<circle cx="72.1" cy="538.5" r="2.5"/>
<circle cx="73.5" cy="522.2" r="2.5"/>
<circle cx="76.3" cy="519.1" r="2.5"/>
<circle cx="62.4" cy="559" r="2.5"/>
<circle cx="70.7" cy="545.6" r="2.5"/>
<circle cx="66.3" cy="532" r="2.5"/>
<circle cx="75.7" cy="520.4" r="2.5"/>
<circle cx="71.5" cy="517.4" r="2.5"/>
<circle cx="72.9" cy="536.7" r="2.5"/>
<circle cx="77" cy="507.6" r="2.5"/>
<circle cx="65.8" cy="534.6" r="2.5"/>
<circle cx="66.1" cy="553.7" r="2.5"/>
<circle cx="61.7" cy="553" r="2.5"/>
<circle cx="63.7" cy="552.4" r="2.5"/>
<circle cx="60.8" cy="556.8" r="2.5"/>
<circle cx="80.9" cy="515.2" r="2.5"/>
<circle cx="83.6" cy="496.4" r="2.5"/>
<circle cx="73.3" cy="533.6" r="2.5"/>
<circle cx="63.3" cy="558.8" r="2.5"/>
<circle cx="68.3" cy="517.7" r="2.5"/>
<circle cx="67.2" cy="545.2" r="2.5"/>
<circle cx="68.1" cy="539.3" r="2.5"/>
<circle cx="68.4" cy="546.3" r="2.5"/>
<circle cx="74.1" cy="513.3" r="2.5"/>
<circle cx="79.8" cy="509.1" r="2.5"/>
<circle cx="81.7" cy="493.7" r="2.5"/>
<circle cx="63.2" cy="555.5" r="2.5"/>
<circle cx="67.3" cy="549.1" r="2.5"/>
<circle cx="75.1" cy="529.4" r="2.5"/>
<circle cx="76.5" cy="528.9" r="2.5"/>
<circle cx="66.9" cy="542.6" r="2.5"/>
<circle cx="86.1" cy="492.5" r="2.5"/>
<circle cx="60.4" cy="562" r="2.5"/>
<circle cx="71.8" cy="524.3" r="2.5"/>
<circle cx="68.2" cy="521.6" r="2.5"/>
<circle cx="78.4" cy="499.3" r="2.5"/>
<circle cx="68.4" cy="520.7" r="2.5"/>
<circle cx="70.1" cy="540.5" r="2.5"/>
<circle cx="83.4" cy="490.4" r="2.5"/>
<circle cx="70.4" cy="539.1" r="2.5"/>
<circle cx="70.5" cy="514" r="2.5"/>
<circle cx="74.2" cy="523.8" r="2.5"/>
<circle cx="65.1" cy="547.1" r="2.5"/>
<circle cx="64.9" cy="528.7" r="2.5"/>
<circle cx="63.1" cy="540" r="2.5"/>
<circle cx="70.3" cy="513" r="2.5"/>
<circle cx="69.3" cy="543.5" r="2.5"/>
<circle cx="74" cy="501.2" r="2.5"/>
<circle cx="72" cy="508.4" r="2.5"/>
<circle cx="81.4" cy="490.9" r="2.5"/>
<circle cx="65.1" cy="551.7" r="2.5"/>
<circle cx="71.1" cy="508.4" r="2.5"/>
<circle cx="81" cy="508.3" r="2.5"/>
<circle cx="79.3" cy="518.8" r="2.5"/>
<circle cx="80.4" cy="494.7" r="2.5"/>
<circle cx="67.2" cy="549.3" r="2.5"/>
<circle cx="63.8" cy="537.1" r="2.5"/>
<circle cx="69.4" cy="514.2" r="2.5"/>
<circle cx="73" cy="518.8" r="2.5"/>
<circle cx="63.9" cy="536.1" r="2.5"/>
<circle cx="68.6" cy="533.8" r="2.5"/>
<circle cx="70.2" cy="528.7" r="2.5"/>
<circle cx="70.1" cy="541.5" r="2.5"/>
<circle cx="58" cy="567.7" r="2.5"/>
<circle cx="72.4" cy="537.4" r="2.5"/>
<circle cx="76.8" cy="500.1" r="2.5"/>
<circle cx="74" cy="518.9" r="2.5"/>
<circle cx="62.6" cy="551.5" r="2.5"/>
<circle cx="73.2" cy="510.5" r="2.5"/>
<circle cx="82.4" cy="505.8" r="2.5"/>
<circle cx="78.8" cy="515.6" r="2.5"/>
<circle cx="71.8" cy="524.5" r="2.5"/>
<circle cx="64.6" cy="532" r="2.5"/>
<circle cx="72.1" cy="512.6" r="2.5"/>
<circle cx="78.2" cy="509.8" r="2.5"/>
<circle cx="71.1" cy="535.9" r="2.5"/>
<circle cx="72.6" cy="516.8" r="2.5"/>
<circle cx="83.2" cy="502.4" r="2.5"/>
<circle cx="60.8" cy="562.4" r="2.5"/>
<circle cx="82.1" cy="490.9" r="2.5"/>
<circle cx="64.3" cy="540" r="2.5"/>
<circle cx="76.2" cy="529.3" r="2.5"/>
<circle cx="70.9" cy="522.3" r="2.5"/>
<circle cx="77.9" cy="492.5" r="2.5"/>
<circle cx="76.8" cy="506" r="2.5"/>
<circle cx="81.7" cy="506.1" r="2.5"/>
<circle cx="84.9" cy="496.8" r="2.5"/>
<circle cx="65.3" cy="548.1" r="2.5"/>
<circle cx="74.8" cy="510.2" r="2.5"/>
<circle cx="74.7" cy="535.6" r="2.5"/>
<circle cx="62.9" cy="550.4" r="2.5"/>
<circle cx="81.5" cy="509.6" r="2.5"/>
<circle cx="65.4" cy="554.7" r="2.5"/>
<circle cx="68.5" cy="539.8" r="2.5"/>
<circle cx="73.1" cy="536.5" r="2.5"/>
<circle cx="65.9" cy="528.1" r="2.5"/>
<circle cx="77.8" cy="520.2" r="2.5"/>
<circle cx="79.1" cy="510" r="2.5"/>
<circle cx="70.5" cy="522.5" r="2.5"/>
<circle cx="66.4" cy="542.5" r="2.5"/>
<circle cx="70.7" cy="538.3" r="2.5"/>
<circle cx="65" cy="537" r="2.5"/>
<circle cx="68.6" cy="525.1" r="2.5"/>
<circle cx="67.5" cy="547.2" r="2.5"/>
<circle cx="70.4" cy="537.8" r="2.5"/>
<circle cx="66.5" cy="545" r="2.5"/>
<circle cx="74.5" cy="514.4" r="2.5"/>
<circle cx="78.9" cy="498.5" r="2.5"/>
<circle cx="73.5" cy="522.9" r="2.5"/>
<circle cx="74.8" cy="508.5" r="2.5"/>
<circle cx="82.4" cy="492.1" r="2.5"/>
<circle cx="65.1" cy="535.6" r="2.5"/>
<circle cx="62.9" cy="541.3" r="2.5"/>
<circle cx="79" cy="497.1" r="2.5"/>
<circle cx="71.7" cy="540.8" r="2.5"/>
<circle cx="75.4" cy="507" r="2.5"/>
<circle cx="86.3" cy="491.9" r="2.5"/>
<circle cx="62.3" cy="543.7" r="2.5"/>
<circle cx="68.3" cy="541.1" r="2.5"/>
<circle cx="75.4" cy="523.2" r="2.5"/>
<circle cx="81.9" cy="507.2" r="2.5"/>
<circle cx="68.3" cy="521.7" r="2.5"/>
<circle cx="63.4" cy="549.8" r="2.5"/>
<circle cx="76.8" cy="512.7" r="2.5"/>
<circle cx="69" cy="522.5" r="2.5"/>
<circle cx="80" cy="511.8" r="2.5"/>
<circle cx="67" cy="526.6" r="2.5"/>
<circle cx="65.5" cy="531.9" r="2.5"/>
<circle cx="69.7" cy="520.8" r="2.5"/>
<circle cx="58.5" cy="564.4" r="2.5"/>
<circle cx="68.9" cy="525.7" r="2.5"/>
<circle cx="70.9" cy="510.2" r="2.5"/>
<circle cx="81.9" cy="492.9" r="2.5"/>
<circle cx="61.1" cy="562.6" r="2.5"/>
<circle cx="85.8" cy="492.7" r="2.5"/>
<circle cx="62.6" cy="556.1" r="2.5"/>
<circle cx="77.2" cy="520.8" r="2.5"/>
<circle cx="71.1" cy="517.5" r="2.5"/>
<circle cx="79.5" cy="512.8" r="2.5"/>
<circle cx="64.6" cy="534.3" r="2.5"/>
<circle cx="75.9" cy="530.1" r="2.5"/>
<circle cx="80.6" cy="501.4" r="2.5"/>
<circle cx="79.9" cy="496.3" r="2.5"/>
<circle cx="82" cy="496" r="2.5"/>
<circle cx="78.9" cy="503.8" r="2.5"/>
<circle cx="68" cy="535.5" r="2.5"/>
<circle cx="79.5" cy="506" r="2.5"/>
<circle cx="76.1" cy="528.1" r="2.5"/>
<circle cx="82.4" cy="493" r="2.5"/>
<circle cx="72" cy="531.9" r="2.5"/>
<circle cx="66.1" cy="544.3" r="2.5"/>
<circle cx="74" cy="527" r="2.5"/>
<circle cx="71.2" cy="508.7" r="2.5"/>
<circle cx="77.4" cy="494" r="2.5"/>
<circle cx="69.9" cy="543.5" r="2.5"/>
<circle cx="69.7" cy="537.7" r="2.5"/>
<circle cx="75.9" cy="504.6" r="2.5"/>
<circle cx="69.9" cy="522.3" r="2.5"/>
<circle cx="65.2" cy="538.9" r="2.5"/>
<circle cx="71.3" cy="524.5" r="2.5"/>
<circle cx="71.8" cy="535.3" r="2.5"/>
<circle cx="66.5" cy="539.7" r="2.5"/>
<circle cx="63" cy="558.1" r="2.5"/>
<circle cx="71" cy="517.5" r="2.5"/>
<circle cx="79.1" cy="514.6" r="2.5"/>
<circle cx="66.2" cy="545.9" r="2.5"/>
<circle cx="82.8" cy="503.6" r="2.5"/>
<circle cx="64.6" cy="540.6" r="2.5"/>
<circle cx="76.1" cy="520.1" r="2.5"/>
<circle cx="72.3" cy="512.7" r="2.5"/>
<circle cx="77" cy="504.4" r="2.5"/>
<circle cx="69.4" cy="522" r="2.5"/>
<circle cx="83.9" cy="505.4" r="2.5"/>
<circle cx="84.7" cy="493.9" r="2.5"/>
<circle cx="74.9" cy="535" r="2.5"/>
<circle cx="64.6" cy="541.5" r="2.5"/>
<circle cx="67.6" cy="528.3" r="2.5"/>
<circle cx="80.4" cy="517" r="2.5"/>
<circle cx="73" cy="539.5" r="2.5"/>
<circle cx="66.2" cy="528.8" r="2.5"/>
<circle cx="82.1" cy="505.1" r="2.5"/>
<circle cx="80.7" cy="498.8" r="2.5"/>
<circle cx="74.3" cy="498.9" r="2.5"/>
<circle cx="69.8" cy="532.4" r="2.5"/>
<circle cx="65.7" cy="539.9" r="2.5"/>
<circle cx="62.3" cy="557.1" r="2.5"/>
<circle cx="83.3" cy="506.8" r="2.5"/>
<circle cx="67.4" cy="544" r="2.5"/>
<circle cx="61.5" cy="549" r="2.5"/>
<circle cx="76.4" cy="516.7" r="2.5"/>
<circle cx="73.7" cy="519.2" r="2.5"/>
<circle cx="73" cy="535.1" r="2.5"/>
<circle cx="71.2" cy="529.8" r="2.5"/>
<circle cx="73.1" cy="533" r="2.5"/>
<circle cx="62.7" cy="546.5" r="2.5"/>
<circle cx="74.3" cy="499.7" r="2.5"/>
<circle cx="68.3" cy="532.1" r="2.5"/>
<circle cx="76.3" cy="522" r="2.5"/>
<circle cx="83.1" cy="498.4" r="2.5"/>
<circle cx="73" cy="504.4" r="2.5"/>
<circle cx="78.4" cy="500.8" r="2.5"/>
<circle cx="62.5" cy="559.1" r="2.5"/>
<circle cx="74.2" cy="520.4" r="2.5"/>
<circle cx="71.3" cy="534.5" r="2.5"/>
<circle cx="74.2" cy="518.8" r="2.5"/>
<circle cx="71.3" cy="539.4" r="2.5"/>
<circle cx="84" cy="493.2" r="2.5"/>
<circle cx="76.6" cy="498.8" r="2.5"/>
<circle cx="77.1" cy="492.9" r="2.5"/>
<circle cx="75.1" cy="515.1" r="2.5"/>
<circle cx="63.3" cy="536.5" r="2.5"/>
<circle cx="76.7" cy="503.6" r="2.5"/>
<circle cx="70.1" cy="513.7" r="2.5"/>
<circle cx="85.4" cy="493" r="2.5"/>
<circle cx="67.2" cy="532.9" r="2.5"/>
<circle cx="59.8" cy="565.1" r="2.5"/>
<circle cx="66.9" cy="549.5" r="2.5"/>
<circle cx="71.5" cy="534.5" r="2.5"/>
<circle cx="71.1" cy="509.7" r="2.5"/>
<circle cx="65.7" cy="549.5" r="2.5"/>
<circle cx="59.7" cy="559.9" r="2.5"/>
<circle cx="65.1" cy="554.8" r="2.5"/>
<circle cx="57.9" cy="570.6" r="2.5"/>
<circle cx="66.8" cy="529.1" r="2.5"/>
<circle cx="80.1" cy="501" r="2.5"/>
<circle cx="73.7" cy="535.4" r="2.5"/>
<circle cx="77.1" cy="503.2" r="2.5"/>
<circle cx="65.3" cy="555" r="2.5"/>
<circle cx="60.8" cy="557.8" r="2.5"/>
<circle cx="65.5" cy="533" r="2.5"/>
<circle cx="80.4" cy="500.7" r="2.5"/>
<circle cx="81.7" cy="508.4" r="2.5"/>
<circle cx="68.2" cy="526.2" r="2.5"/>
<circle cx="74.7" cy="516.8" r="2.5"/>
<circle cx="70.8" cy="524.9" r="2.5"/>
<circle cx="77.8" cy="522.8" r="2.5"/>
<circle cx="76.6" cy="520.5" r="2.5"/>
<circle cx="76.4" cy="508.9" r="2.5"/>
<circle cx="84.3" cy="491.1" r="2.5"/>
<circle cx="69.5" cy="546.8" r="2.5"/>
<circle cx="72.7" cy="525" r="2.5"/>
<circle cx="82.8" cy="504.6" r="2.5"/>
<circle cx="68.5" cy="531.8" r="2.5"/>
<circle cx="71.7" cy="519.3" r="2.5"/>
<circle cx="60.5" cy="560.1" r="2.5"/>
<circle cx="65.7" cy="550.6" r="2.5"/>
<circle cx="67.1" cy="534.5" r="2.5"/>
<circle cx="63.3" cy="559.4" r="2.5"/>
<circle cx="67.8" cy="534" r="2.5"/>
<circle cx="72.7" cy="530.9" r="2.5"/>
<circle cx="75" cy="528.4" r="2.5"/>
<circle cx="85.6" cy="490.6" r="2.5"/>
<circle cx="58.9" cy="564" r="2.5"/>
<circle cx="80.4" cy="511.5" r="2.5"/>
<circle cx="82.2" cy="509.3" r="2.5"/>
<circle cx="82.4" cy="496.7" r="2.5"/>
<circle cx="77.1" cy="520.8" r="2.5"/>
<circle cx="69.4" cy="530.8" r="2.5"/>
<circle cx="74.7" cy="503.2" r="2.5"/>
<circle cx="70.8" cy="541.7" r="2.5"/>
<circle cx="83.5" cy="490.3" r="2.5"/>
<circle cx="80.7" cy="500.3" r="2.5"/>
<circle cx="69.4" cy="546.2" r="2.5"/>
<circle cx="79.3" cy="497.7" r="2.5"/>
<circle cx="74.5" cy="504.7" r="2.5"/>
<circle cx="73.7" cy="513.9" r="2.5"/>
<circle cx="76.7" cy="499.8" r="2.5"/>
<circle cx="80.8" cy="512.2" r="2.5"/>
<circle cx="64.8" cy="541.4" r="2.5"/>
<circle cx="80.2" cy="508.4" r="2.5"/>
<circle cx="69.2" cy="546.9" r="2.5"/>
<circle cx="63.4" cy="552.3" r="2.5"/>
<circle cx="68.2" cy="540" r="2.5"/>
<circle cx="71.6" cy="507.1" r="2.5"/>
<circle cx="64.6" cy="542.8" r="2.5"/>
<circle cx="82.9" cy="491.4" r="2.5"/>
<circle cx="73.3" cy="521.1" r="2.5"/>
<circle cx="74.9" cy="533.4" r="2.5"/>
<circle cx="74" cy="506.5" r="2.5"/>
<circle cx="77.4" cy="501.7" r="2.5"/>
<circle cx="70.7" cy="531.3" r="2.5"/>
<circle cx="77.1" cy="516.9" r="2.5"/>
<circle cx="81.3" cy="500.3" r="2.5"/>
<circle cx="63.6" cy="541.9" r="2.5"/>
<circle cx="75.9" cy="508.6" r="2.5"/>
<circle cx="75.4" cy="503.2" r="2.5"/>
<circle cx="66.5" cy="553.8" r="2.5"/>
<circle cx="75.9" cy="499.8" r="2.5"/>
<circle cx="70.5" cy="541.8" r="2.5"/>
<circle cx="57.7" cy="566.9" r="2.5"/>
<circle cx="71.5" cy="517" r="2.5"/>
<circle cx="82.2" cy="501.4" r="2.5"/>
<circle cx="83.3" cy="498" r="2.5"/>
<circle cx="63" cy="548.6" r="2.5"/>
<circle cx="64.2" cy="533.2" r="2.5"/>
<circle cx="75.8" cy="524.3" r="2.5"/>
<circle cx="67.7" cy="538.5" r="2.5"/>
<circle cx="66.7" cy="545.9" r="2.5"/>
<circle cx="67.6" cy="518.1" r="2.5"/>
<circle cx="78.9" cy="494.7" r="2.5"/>
<circle cx="78.1" cy="500.2" r="2.5"/>
<circle cx="63.3" cy="543.8" r="2.5"/>
<circle cx="62.1" cy="559.9" r="2.5"/>
<circle cx="77.6" cy="522.5" r="2.5"/>
<circle cx="66.1" cy="524.3" r="2.5"/>
<circle cx="69.1" cy="540.8" r="2.5"/>
<circle cx="74.4" cy="500" r="2.5"/>
<circle cx="69.2" cy="521.5" r="2.5"/>
<circle cx="85.9" cy="493" r="2.5"/>
<circle cx="73.2" cy="533.2" r="2.5"/>
<circle cx="76.1" cy="500.6" r="2.5"/>
<circle cx="60.5" cy="555" r="2.5"/>
<circle cx="85.8" cy="500.3" r="2.5"/>
<circle cx="69.7" cy="544.9" r="2.5"/>
<circle cx="60.4" cy="560.4" r="2.5"/>
<circle cx="60.7" cy="553.3" r="2.5"/>
<circle cx="68.6" cy="549.1" r="2.5"/>
<circle cx="84.7" cy="496.7" r="2.5"/>
<circle cx="77.9" cy="506.2" r="2.5"/>
<circle cx="67.5" cy="541.2" r="2.5"/>
<circle cx="67.1" cy="545.8" r="2.5"/>
<circle cx="65" cy="550" r="2.5"/>
<circle cx="64.1" cy="551.6" r="2.5"/>
<circle cx="67.6" cy="547" r="2.5"/>
<circle cx="70.7" cy="523.8" r="2.5"/>
<circle cx="67.9" cy="528.6" r="2.5"/>
<circle cx="70.4" cy="520.7" r="2.5"/>
<circle cx="83" cy="491.8" r="2.5"/>
<circle cx="82.9" cy="508.2" r="2.5"/>
<circle cx="81.9" cy="499.4" r="2.5"/>
<circle cx="79" cy="494.4" r="2.5"/>
<circle cx="72.2" cy="513.1" r="2.5"/>
<circle cx="67.2" cy="549.9" r="2.5"/>
<circle cx="69.4" cy="524" r="2.5"/>
<circle cx="77.1" cy="504.1" r="2.5"/>
<circle cx="65.2" cy="537.1" r="2.5"/>
<circle cx="77.3" cy="504" r="2.5"/>
<circle cx="86.1" cy="494.7" r="2.5"/>
<circle cx="70.8" cy="539.6" r="2.5"/>
<circle cx="68" cy="528.8" r="2.5"/>
<circle cx="61.1" cy="550.9" r="2.5"/>
<circle cx="63.7" cy="546.5" r="2.5"/>
<circle cx="73.8" cy="515.2" r="2.5"/>
<circle cx="63.1" cy="556.7" r="2.5"/>
<circle cx="72.8" cy="520.3" r="2.5"/>
<circle cx="75.9" cy="519.2" r="2.5"/>
<circle cx="76.1" cy="495" r="2.5"/>
<circle cx="84.5" cy="497.8" r="2.5"/>
<circle cx="78.8" cy="495.8" r="2.5"/>
<circle cx="63.8" cy="541" r="2.5"/>
<circle cx="76.4" cy="510" r="2.5"/>
<circle cx="68.4" cy="523.4" r="2.5"/>
<circle cx="58.6" cy="568.5" r="2.5"/>
<circle cx="62.6" cy="557.9" r="2.5"/>
<circle cx="77.2" cy="499.6" r="2.5"/>
<circle cx="63.9" cy="539.1" r="2.5"/>
<circle cx="73.9" cy="526.2" r="2.5"/>
<circle cx="81.8" cy="509.2" r="2.5"/>
<circle cx="80.7" cy="508.4" r="2.5"/>
<circle cx="86.4" cy="490.1" r="2.5"/>
<circle cx="68.3" cy="532.1" r="2.5"/>
<circle cx="71.9" cy="525.3" r="2.5"/>
<circle cx="72.9" cy="524.1" r="2.5"/>
<circle cx="58.1" cy="565.9" r="2.5"/>
<circle cx="82.1" cy="502.8" r="2.5"/>
<circle cx="68.2" cy="516.7" r="2.5"/>
<circle cx="79.8" cy="507.3" r="2.5"/>
<circle cx="79.9" cy="508.6" r="2.5"/>
<circle cx="79" cy="496" r="2.5"/>
<circle cx="76.6" cy="499.6" r="2.5"/>
<circle cx="64" cy="550.9" r="2.5"/>
<circle cx="73.9" cy="538.7" r="2.5"/>
<circle cx="73.2" cy="512.9" r="2.5"/>
<circle cx="75.2" cy="511.7" r="2.5"/>
<circle cx="83.3" cy="491.2" r="2.5"/>
<circle cx="78.9" cy="502.6" r="2.5"/>
<circle cx="78.2" cy="516" r="2.5"/>
<circle cx="77" cy="491.8" r="2.5"/>
<circle cx="66.5" cy="529.4" r="2.5"/>
<circle cx="64.2" cy="543.9" r="2.5"/>
<circle cx="63.7" cy="557" r="2.5"/>
<circle cx="63.8" cy="548.9" r="2.5"/>
<circle cx="60.4" cy="556.6" r="2.5"/>
<circle cx="80.4" cy="500.8" r="2.5"/>
<circle cx="61" cy="561.1" r="2.5"/>
<circle cx="74.7" cy="510" r="2.5"/>
<circle cx="70.7" cy="542.5" r="2.5"/>
<circle cx="72.2" cy="522.7" r="2.5"/>
<circle cx="76.3" cy="527.1" r="2.5"/>
<circle cx="73.4" cy="531.4" r="2.5"/>
<circle cx="71.5" cy="517.9" r="2.5"/>
<circle cx="63.4" cy="549.5" r="2.5"/>
<circle cx="74.7" cy="523.8" r="2.5"/>
<circle cx="76.9" cy="500.5" r="2.5"/>
<circle cx="80.2" cy="509.7" r="2.5"/>
<circle cx="66.5" cy="546.7" r="2.5"/>
<circle cx="82.4" cy="507.4" r="2.5"/>
<circle cx="87" cy="493.2" r="2.5"/>
<circle cx="72.3" cy="526.6" r="2.5"/>
<circle cx="62.6" cy="551.1" r="2.5"/>
<circle cx="78.2" cy="510.4" r="2.5"/>
<circle cx="73.9" cy="514.3" r="2.5"/>
<circle cx="78.3" cy="504.2" r="2.5"/>
<circle cx="75" cy="524.9" r="2.5"/>
<circle cx="78.7" cy="495.8" r="2.5"/>
<circle cx="68.1" cy="546.9" r="2.5"/>
<circle cx="68.9" cy="522.9" r="2.5"/>
<circle cx="84.1" cy="496.3" r="2.5"/>
<circle cx="80" cy="514.3" r="2.5"/>
<circle cx="59.1" cy="562.5" r="2.5"/>
<circle cx="74.6" cy="518.5" r="2.5"/>
<circle cx="63.5" cy="555.2" r="2.5"/>
<circle cx="83.1" cy="504.1" r="2.5"/>
<circle cx="73.9" cy="525" r="2.5"/>
<circle cx="68" cy="521.9" r="2.5"/>
<circle cx="68.7" cy="540.9" r="2.5"/>
<circle cx="70.7" cy="517.1" r="2.5"/>
<circle cx="80.7" cy="505.6" r="2.5"/>
<circle cx="66.8" cy="533" r="2.5"/>
<circle cx="70.5" cy="531.6" r="2.5"/>
<circle cx="78" cy="494" r="2.5"/>
<circle cx="79.3" cy="491.5" r="2.5"/>
<circle cx="82.3" cy="502.2" r="2.5"/>
<circle cx="59.1" cy="566.1" r="2.5"/>
<circle cx="61.3" cy="563" r="2.5"/>
<circle cx="77.7" cy="490.3" r="2.5"/>
<circle cx="68" cy="518.1" r="2.5"/>
<circle cx="75" cy="506.3" r="2.5"/>
<circle cx="84.4" cy="503.7" r="2.5"/>
<circle cx="84.3" cy="493" r="2.5"/>
<circle cx="73.6" cy="509.4" r="2.5"/>
<circle cx="70.1" cy="544.9" r="2.5"/>
<circle cx="60.9" cy="557.2" r="2.5"/>
<circle cx="72.5" cy="542.1" r="2.5"/>
<circle cx="68.4" cy="541.2" r="2.5"/>
<circle cx="78.5" cy="497.4" r="2.5"/>
<circle cx="78.9" cy="500.1" r="2.5"/>
<circle cx="65.4" cy="533.2" r="2.5"/>
<circle cx="67.8" cy="533" r="2.5"/>
<circle cx="60.8" cy="556.1" r="2.5"/>
<circle cx="84" cy="501.1" r="2.5"/>
<circle cx="77.5" cy="515.5" r="2.5"/>
<circle cx="77.7" cy="517.6" r="2.5"/>
<circle cx="84.4" cy="490" r="2.5"/>
<circle cx="77.8" cy="522.8" r="2.5"/>
<circle cx="79.6" cy="500.8" r="2.5"/>
<circle cx="69.1" cy="540.9" r="2.5"/>
<circle cx="71.6" cy="539.9" r="2.5"/>
<circle cx="63.8" cy="539.2" r="2.5"/>
<circle cx="76.2" cy="526.5" r="2.5"/>
<circle cx="65.7" cy="528.4" r="2.5"/>
<circle cx="73" cy="530.1" r="2.5"/>
<circle cx="66.2" cy="535.6" r="2.5"/>
<circle cx="64.5" cy="552.9" r="2.5"/>
<circle cx="64.3" cy="543.5" r="2.5"/>
<circle cx="67.2" cy="535.5" r="2.5"/>
<circle cx="63.9" cy="534.2" r="2.5"/>
<circle cx="80.5" cy="501.2" r="2.5"/>
<circle cx="63.9" cy="547.8" r="2.5"/>
<circle cx="69.1" cy="524.7" r="2.5"/>
<circle cx="76.3" cy="500.9" r="2.5"/>
<circle cx="72.5" cy="539.5" r="2.5"/>
<circle cx="63.7" cy="547.1" r="2.5"/>
<circle cx="68.3" cy="543.8" r="2.5"/>
<circle cx="83.6" cy="501.6" r="2.5"/>
<circle cx="63.6" cy="539" r="2.5"/>
<circle cx="76" cy="517.7" r="2.5"/>
<circle cx="67.4" cy="528.4" r="2.5"/>
<circle cx="71.4" cy="534" r="2.5"/>
<circle cx="79.4" cy="501.7" r="2.5"/>
<circle cx="84" cy="495.3" r="2.5"/>
<circle cx="73.9" cy="502.1" r="2.5"/>
<circle cx="72.8" cy="541.7" r="2.5"/>
<circle cx="66.8" cy="528.2" r="2.5"/>
<circle cx="74" cy="536.7" r="2.5"/>
<circle cx="69" cy="519" r="2.5"/>
<circle cx="71.9" cy="523.1" r="2.5"/>
<circle cx="60.3" cy="559.1" r="2.5"/>
<circle cx="81.7" cy="495.7" r="2.5"/>
<circle cx="77.8" cy="512" r="2.5"/>
<circle cx="75.5" cy="498.8" r="2.5"/>
<circle cx="74.9" cy="534.8" r="2.5"/>
<circle cx="80.2" cy="503.3" r="2.5"/>
<circle cx="63.1" cy="546.1" r="2.5"/>
<circle cx="60.7" cy="561.2" r="2.5"/>
<circle cx="61.1" cy="555" r="2.5"/>
<circle cx="77.9" cy="502" r="2.5"/>
<circle cx="79.9" cy="498.4" r="2.5"/>
<circle cx="80.1" cy="508.9" r="2.5"/>
<circle cx="61.7" cy="551.8" r="2.5"/>
<circle cx="68.8" cy="532.9" r="2.5"/>
<circle cx="82.2" cy="509.4" r="2.5"/>
<circle cx="71.7" cy="535" r="2.5"/>
<circle cx="68.7" cy="544.7" r="2.5"/>
<circle cx="85.2" cy="491.6" r="2.5"/>
<circle cx="65.4" cy="536.9" r="2.5"/>
<circle cx="67.9" cy="518.4" r="2.5"/>
<circle cx="72.6" cy="511.4" r="2.5"/>
<circle cx="64.6" cy="546.8" r="2.5"/>
<circle cx="62.1" cy="558.1" r="2.5"/>
<circle cx="82.7" cy="494.8" r="2.5"/>
<circle cx="71.7" cy="507.1" r="2.5"/>
<circle cx="71" cy="514.3" r="2.5"/>
<circle cx="66" cy="551.5" r="2.5"/>
<circle cx="83.1" cy="502.1" r="2.5"/>
<circle cx="62.1" cy="560.7" r="2.5"/>
<circle cx="70.7" cy="525.6" r="2.5"/>
<circle cx="58.9" cy="564.2" r="2.5"/>
<circle cx="79" cy="494.2" r="2.5"/>
<circle cx="85" cy="498" r="2.5"/>
<circle cx="74.1" cy="505" r="2.5"/>
<circle cx="76" cy="512.7" r="2.5"/>
<circle cx="67" cy="544.2" r="2.5"/>
<circle cx="70.6" cy="530" r="2.5"/>
<circle cx="67" cy="533.6" r="2.5"/>
<circle cx="78.5" cy="519.3" r="2.5"/>
<circle cx="62.9" cy="550.9" r="2.5"/>
<circle cx="66.8" cy="547" r="2.5"/>
<circle cx="73.2" cy="514.1" r="2.5"/>
<circle cx="81.5" cy="509.8" r="2.5"/>
<circle cx="75.4" cy="532.5" r="2.5"/>
<circle cx="65.1" cy="530.1" r="2.5"/>
<circle cx="78.4" cy="506" r="2.5"/>
<circle cx="72.4" cy="535.2" r="2.5"/>
<circle cx="72.8" cy="535.4" r="2.5"/>
<circle cx="83.3" cy="501.7" r="2.5"/>
<circle cx="83.4" cy="498.6" r="2.5"/>
<circle cx="67.8" cy="522" r="2.5"/>
<circle cx="63.5" cy="545" r="2.5"/>
<circle cx="74.4" cy="497.8" r="2.5"/>
<circle cx="72.2" cy="520.5" r="2.5"/>
<circle cx="63.1" cy="539.4" r="2.5"/>
<circle cx="69.7" cy="536.8" r="2.5"/>
<circle cx="70.2" cy="516.2" r="2.5"/>
<circle cx="76.4" cy="507" r="2.5"/>
<circle cx="71.3" cy="526.5" r="2.5"/>
<circle cx="72.8" cy="513.1" r="2.5"/>
<circle cx="70.4" cy="524.8" r="2.5"/>
<circle cx="79.4" cy="512.4" r="2.5"/>
<circle cx="80.7" cy="516.3" r="2.5"/>
<circle cx="83.2" cy="505.8" r="2.5"/>
<circle cx="69.2" cy="545.8" r="2.5"/>
<circle cx="81.6" cy="495.5" r="2.5"/>
<circle cx="75.4" cy="504.5" r="2.5"/>
<circle cx="83.4" cy="498.2" r="2.5"/>
<circle cx="74" cy="509.4" r="2.5"/>
<circle cx="77.6" cy="497.5" r="2.5"/>
<circle cx="74" cy="503.3" r="2.5"/>
<circle cx="60.3" cy="558.2" r="2.5"/>
<circle cx="73.6" cy="500.9" r="2.5"/>
<circle cx="76.7" cy="505.8" r="2.5"/>
<circle cx="72.3" cy="530.5" r="2.5"/>
<circle cx="76.2" cy="500.6" r="2.5"/>
<circle cx="67.5" cy="545.8" r="2.5"/>
<circle cx="75.8" cy="505.4" r="2.5"/>
<circle cx="66.8" cy="539.6" r="2.5"/>
<circle cx="70.7" cy="509.1" r="2.5"/>
<circle cx="71.7" cy="530.3" r="2.5"/>
<circle cx="69.3" cy="535.8" r="2.5"/>
<circle cx="57.3" cy="570.9" r="2.5"/>
<circle cx="70.2" cy="527.1" r="2.5"/>
<circle cx="67.4" cy="533.6" r="2.5"/>
<circle cx="57.9" cy="568.7" r="2.5"/>
<circle cx="56.9" cy="570.5" r="2.5"/>
<circle cx="67.7" cy="542.2" r="2.5"/>
<circle cx="68.5" cy="545.5" r="2.5"/>
<circle cx="83.3" cy="504.4" r="2.5"/>
<circle cx="68.2" cy="543" r="2.5"/>
<circle cx="67.9" cy="542.2" r="2.5"/>
<circle cx="69.9" cy="538.9" r="2.5"/>
<circle cx="78.9" cy="509.6" r="2.5"/>
<circle cx="68.4" cy="525.8" r="2.5"/>
<circle cx="69.7" cy="532.7" r="2.5"/>
<circle cx="76.1" cy="501" r="2.5"/>
<circle cx="70.7" cy="532.4" r="2.5"/>
<circle cx="66.2" cy="539.9" r="2.5"/>
<circle cx="82" cy="498.6" r="2.5"/>
<circle cx="74.7" cy="515.5" r="2.5"/>
<circle cx="67.7" cy="535.7" r="2.5"/>
<circle cx="75.8" cy="522.9" r="2.5"/>
<circle cx="78.6" cy="499.9" r="2.5"/>
<circle cx="75.1" cy="503.3" r="2.5"/>
<circle cx="73.8" cy="537.7" r="2.5"/>
<circle cx="68.8" cy="522.5" r="2.5"/>
<circle cx="73.1" cy="541" r="2.5"/>
<circle cx="77.5" cy="514.5" r="2.5"/>
<circle cx="81.5" cy="498.1" r="2.5"/>
<circle cx="64.2" cy="537.2" r="2.5"/>
<circle cx="81.6" cy="502.6" r="2.5"/>
<circle cx="77.6" cy="494.1" r="2.5"/>
<circle cx="68.9" cy="516.4" r="2.5"/>
<circle cx="70.1" cy="538.6" r="2.5"/>
<circle cx="81" cy="499.1" r="2.5"/>
<circle cx="73.1" cy="534.3" r="2.5"/>
<circle cx="73.1" cy="518.6" r="2.5"/>
<circle cx="79.1" cy="508.7" r="2.5"/>
<circle cx="83" cy="492" r="2.5"/>
<circle cx="67.1" cy="526.6" r="2.5"/>
<circle cx="70.1" cy="525.5" r="2.5"/>
<circle cx="60.3" cy="560.1" r="2.5"/>
<circle cx="75.4" cy="506.1" r="2.5"/>
<circle cx="82.8" cy="499.4" r="2.5"/>
<circle cx="72.3" cy="530" r="2.5"/>
<circle cx="70" cy="511.4" r="2.5"/>
<circle cx="76.2" cy="507.6" r="2.5"/>
<circle cx="71" cy="509" r="2.5"/>
<circle cx="68.1" cy="535.5" r="2.5"/>
<circle cx="75.5" cy="504.1" r="2.5"/>
<circle cx="73.4" cy="531" r="2.5"/>
<circle cx="81.4" cy="504.1" r="2.5"/>
<circle cx="73.9" cy="514.3" r="2.5"/>
<circle cx="64.1" cy="543.2" r="2.5"/>
<circle cx="64" cy="548.9" r="2.5"/>
<circle cx="81.6" cy="501.9" r="2.5"/>
<circle cx="62.8" cy="555" r="2.5"/>
<circle cx="69.3" cy="547.2" r="2.5"/>
<circle cx="72.5" cy="541.3" r="2.5"/>
<circle cx="74.2" cy="526.1" r="2.5"/>
<circle cx="66.5" cy="547.1" r="2.5"/>
<circle cx="72.6" cy="518" r="2.5"/>
<circle cx="75.6" cy="512.2" r="2.5"/>
<circle cx="83" cy="501.4" r="2.5"/>
<circle cx="74.8" cy="500.9" r="2.5"/>
<circle cx="81.7" cy="510.6" r="2.5"/>
<circle cx="70" cy="541.8" r="2.5"/>
<circle cx="62.4" cy="561.9" r="2.5"/>
<circle cx="74.4" cy="525.6" r="2.5"/>
<circle cx="63.9" cy="550" r="2.5"/>
<circle cx="77.3" cy="503" r="2.5"/>
<circle cx="73.3" cy="523.2" r="2.5"/>
<circle cx="65.7" cy="549.8" r="2.5"/>
<circle cx="78.3" cy="497.8" r="2.5"/>
<circle cx="87.2" cy="491.1" r="2.5"/>
<circle cx="81.2" cy="499" r="2.5"/>
<circle cx="78.4" cy="519.9" r="2.5"/>
<circle cx="69.6" cy="532.3" r="2.5"/>
<circle cx="79.5" cy="508.8" r="2.5"/>
<circle cx="77.2" cy="526.1" r="2.5"/>
<circle cx="81.4" cy="507.9" r="2.5"/>
<circle cx="60.8" cy="564.5" r="2.5"/>
<circle cx="70.9" cy="535.8" r="2.5"/>
<circle cx="80" cy="490.2" r="2.5"/>
<circle cx="61.6" cy="551.4" r="2.5"/>
<circle cx="81.8" cy="503.6" r="2.5"/>
<circle cx="64.6" cy="557" r="2.5"/>
<circle cx="71.1" cy="536.5" r="2.5"/>
<circle cx="68.8" cy="515.5" r="2.5"/>
<circle cx="76.4" cy="506.2" r="2.5"/>
<circle cx="68.4" cy="549" r="2.5"/>
<circle cx="81" cy="508.9" r="2.5"/>
<circle cx="79.9" cy="491.1" r="2.5"/>
<circle cx="83.7" cy="504.7" r="2.5"/>
<circle cx="67.8" cy="539" r="2.5"/>
<circle cx="79.3" cy="497.3" r="2.5"/>
<circle cx="63" cy="552.5" r="2.5"/>
<circle cx="201" cy="22.5" r="2.5"/>
<circle cx="122.8" cy="308.9" r="2.5"/>
<circle cx="115.9" cy="406.3" r="2.5"/>
<circle cx="92.4" cy="454.3" r="2.5"/>
<circle cx="96.6" cy="455.5" r="2.5"/>
<circle cx="90.9" cy="467.6" r="2.5"/>
<circle cx="87.1" cy="473.1" r="2.5"/>
<circle cx="92.9" cy="473.5" r="2.5"/>
<circle cx="82.8" cy="478.5" r="2.5"/>
<circle cx="83.2" cy="480.1" r="2.5"/>
<circle cx="80.5" cy="486.7" r="2.5"/>
<circle cx="85.5" cy="486.3" r="2.5"/>
<circle cx="89.8" cy="490.2" r="2.5"/>
<circle cx="70.1" cy="501" r="2.5"/>
<circle cx="89" cy="501" r="2.5"/>
<circle cx="85.5" cy="507.6" r="2.5"/>
<circle cx="74.7" cy="541" r="2.5"/>
<circle cx="71.5" cy="548.2" r="2.5"/>
</g>
<polyline fill="none" stroke="#00f" stroke-width="1.4" stroke-linejoin="round" points="57,568 68.5,538 91.8,480 95.5,469.9 122.9,393.2 201,27.2"/>
<line stroke="#f00" stroke-width="1.4" x1="51.4" y1="586.7" x2="206.9" y2="115.2"/>
</g>
<g fill="none" stroke="#000" stroke-width="1.3" stroke-linecap="round">
<rect x="51.4" y="0.6" width="155.4" height="591.5"/>
<line x1="56.4" y1="592.1" x2="56.4" y2="599.3"/>
<line x1="96.1" y1="592.1" x2="96.1" y2="599.3"/>
<line x1="135.8" y1="592.1" x2="135.8" y2="599.3"/>
<line x1="175.5" y1="592.1" x2="175.5" y2="599.3"/>
<line x1="44.6" y1="571.5" x2="51.4" y2="571.5"/>
<line x1="44.6" y1="450.8" x2="51.4" y2="450.8"/>
<line x1="44.6" y1="330" x2="51.4" y2="330"/>
<line x1="44.6" y1="209.2" x2="51.4" y2="209.2"/>
<line x1="44.6" y1="88.5" x2="51.4" y2="88.5"/>
</g>
<g font-size="11.2" text-anchor="middle" fill="#000" stroke="#000" stroke-width="0.2">
<text x="56.4" y="617.1">0.000</text>
<text x="96.1" y="617.1">0.002</text>
<text x="135.8" y="617.1">0.004</text>
<text x="175.5" y="617.1">0.006</text>
<text transform="translate(35.4,571.5) rotate(-90)">0.000</text>
<text transform="translate(35.4,450.8) rotate(-90)">0.002</text>
<text transform="translate(35.4,330) rotate(-90)">0.004</text>
<text transform="translate(35.4,209.2) rotate(-90)">0.006</text>
<text transform="translate(35.4,88.5) rotate(-90)">0.008</text>
<text x="129.1" y="643.6">Primary Series (Obs)</text>
<text transform="translate(8.4,296.3) rotate(-90)">Replicate Series (Obs)</text>
</g>
<clipPath id="c290"><rect x="290.6" y="0" width="155.4" height="592.1"/></clipPath>
<g clip-path="url(#c290)">
<g fill="none" stroke="#000" stroke-width="1.2">
<circle cx="301.7" cy="550.7" r="2.5"/>
<circle cx="308.1" cy="548.5" r="2.5"/>
<circle cx="298.6" cy="567.3" r="2.5"/>
<circle cx="306.2" cy="554.2" r="2.5"/>
<circle cx="302.4" cy="548.7" r="2.5"/>
<circle cx="297.3" cy="564.7" r="2.5"/>
<circle cx="298.7" cy="569" r="2.5"/>
<circle cx="301.3" cy="568" r="2.5"/>
<circle cx="299.5" cy="551.2" r="2.5"/>
<circle cx="303.4" cy="531.5" r="2.5"/>
<circle cx="303.1" cy="547.9" r="2.5"/>
<circle cx="306.6" cy="552.7" r="2.5"/>
<circle cx="304.7" cy="557.8" r="2.5"/>
<circle cx="311.2" cy="534.2" r="2.5"/>
<circle cx="301.4" cy="567.2" r="2.5"/>
<circle cx="306.5" cy="536.4" r="2.5"/>
<circle cx="311" cy="534.1" r="2.5"/>
<circle cx="308.8" cy="541.9" r="2.5"/>
<circle cx="299.2" cy="562.7" r="2.5"/>
<circle cx="309.4" cy="540.3" r="2.5"/>
<circle cx="308.8" cy="534.3" r="2.5"/>
<circle cx="302.5" cy="548" r="2.5"/>
<circle cx="305.3" cy="538.2" r="2.5"/>
<circle cx="305" cy="541.3" r="2.5"/>
<circle cx="305" cy="539" r="2.5"/>
<circle cx="305" cy="550.1" r="2.5"/>
<circle cx="306.4" cy="535.2" r="2.5"/>
<circle cx="301" cy="560.6" r="2.5"/>
<circle cx="307.3" cy="538.4" r="2.5"/>
<circle cx="299.2" cy="563" r="2.5"/>
<circle cx="306.3" cy="530.8" r="2.5"/>
<circle cx="310.2" cy="542.1" r="2.5"/>
<circle cx="306.3" cy="545.9" r="2.5"/>
<circle cx="297.6" cy="559.3" r="2.5"/>
<circle cx="308.3" cy="545.8" r="2.5"/>
<circle cx="305.1" cy="546.6" r="2.5"/>
<circle cx="301.2" cy="567.2" r="2.5"/>
<circle cx="305.2" cy="546.3" r="2.5"/>
<circle cx="298.6" cy="552.6" r="2.5"/>
<circle cx="300.5" cy="566.9" r="2.5"/>
<circle cx="302" cy="558.2" r="2.5"/>
<circle cx="301.9" cy="559.2" r="2.5"/>
<circle cx="300.8" cy="541" r="2.5"/>
<circle cx="301.6" cy="547.8" r="2.5"/>
<circle cx="300.2" cy="538" r="2.5"/>
<circle cx="307.1" cy="539.2" r="2.5"/>
<circle cx="306.1" cy="555.1" r="2.5"/>
<circle cx="300.7" cy="567.3" r="2.5"/>
<circle cx="296.8" cy="565.6" r="2.5"/>
<circle cx="298.6" cy="563.3" r="2.5"/>
<circle cx="299.1" cy="546" r="2.5"/>
<circle cx="306.9" cy="543.1" r="2.5"/>
<circle cx="297.1" cy="568.9" r="2.5"/>
<circle cx="308.7" cy="544.1" r="2.5"/>
<circle cx="306.5" cy="533.2" r="2.5"/>
<circle cx="301.9" cy="561.9" r="2.5"/>
<circle cx="303" cy="550.9" r="2.5"/>
<circle cx="308.3" cy="537.1" r="2.5"/>
<circle cx="304.9" cy="539.3" r="2.5"/>
<circle cx="304.6" cy="553.9" r="2.5"/>
<circle cx="301.4" cy="555.3" r="2.5"/>
<circle cx="300.3" cy="554" r="2.5"/>
<circle cx="306.8" cy="534.1" r="2.5"/>
<circle cx="305.4" cy="544.6" r="2.5"/>
<circle cx="305" cy="544.9" r="2.5"/>
<circle cx="298" cy="554.7" r="2.5"/>
<circle cx="300" cy="539.7" r="2.5"/>
<circle cx="308.5" cy="538.4" r="2.5"/>
<circle cx="311.4" cy="537" r="2.5"/>
<circle cx="302.1" cy="554.7" r="2.5"/>
<circle cx="299.6" cy="560.8" r="2.5"/>
<circle cx="302" cy="553" r="2.5"/>
<circle cx="301.3" cy="534.7" r="2.5"/>
<circle cx="300.9" cy="564" r="2.5"/>
<circle cx="304.8" cy="533.1" r="2.5"/>
<circle cx="301.5" cy="540.2" r="2.5"/>
<circle cx="304.9" cy="534.5" r="2.5"/>
<circle cx="310.4" cy="540.1" r="2.5"/>
<circle cx="304.4" cy="536.8" r="2.5"/>
<circle cx="308.2" cy="549.5" r="2.5"/>
<circle cx="301" cy="547.3" r="2.5"/>
<circle cx="311.2" cy="540.1" r="2.5"/>
<circle cx="305.2" cy="532" r="2.5"/>
<circle cx="301.6" cy="555.3" r="2.5"/>
<circle cx="303.8" cy="555.7" r="2.5"/>
<circle cx="300.7" cy="539.2" r="2.5"/>
<circle cx="305.2" cy="545.9" r="2.5"/>
<circle cx="301" cy="556.5" r="2.5"/>
<circle cx="305.5" cy="540" r="2.5"/>
<circle cx="307.4" cy="548.6" r="2.5"/>
<circle cx="297.5" cy="560.5" r="2.5"/>
<circle cx="300.6" cy="550.8" r="2.5"/>
<circle cx="300.9" cy="565.4" r="2.5"/>
<circle cx="310.1" cy="535.1" r="2.5"/>
<circle cx="304.1" cy="535.5" r="2.5"/>
<circle cx="308.9" cy="543.2" r="2.5"/>
<circle cx="300.9" cy="567.3" r="2.5"/>
<circle cx="300.3" cy="543.1" r="2.5"/>
<circle cx="300.9" cy="563.6" r="2.5"/>
<circle cx="305.7" cy="548.6" r="2.5"/>
<circle cx="302.6" cy="533.5" r="2.5"/>
<circle cx="300.6" cy="535.5" r="2.5"/>
<circle cx="298.5" cy="565.7" r="2.5"/>
<circle cx="301.5" cy="536.6" r="2.5"/>
<circle cx="306.6" cy="533" r="2.5"/>
<circle cx="309.2" cy="535.6" r="2.5"/>
<circle cx="305" cy="541.6" r="2.5"/>
<circle cx="296.8" cy="568.5" r="2.5"/>
<circle cx="301.8" cy="538.9" r="2.5"/>
<circle cx="300.5" cy="566.9" r="2.5"/>
<circle cx="302.4" cy="539.4" r="2.5"/>
<circle cx="297.5" cy="566.3" r="2.5"/>
<circle cx="303.3" cy="539.6" r="2.5"/>
<circle cx="304.6" cy="549.2" r="2.5"/>
<circle cx="298.5" cy="553.5" r="2.5"/>
<circle cx="302.6" cy="558.2" r="2.5"/>
<circle cx="308.9" cy="543.2" r="2.5"/>
<circle cx="306.9" cy="531.2" r="2.5"/>
<circle cx="301.1" cy="549" r="2.5"/>
<circle cx="304.8" cy="534.8" r="2.5"/>
<circle cx="306.1" cy="545.2" r="2.5"/>
<circle cx="309.8" cy="544.5" r="2.5"/>
<circle cx="298.8" cy="561.7" r="2.5"/>
<circle cx="310" cy="530.7" r="2.5"/>
<circle cx="301.7" cy="564.9" r="2.5"/>
<circle cx="310.3" cy="538" r="2.5"/>
<circle cx="307.7" cy="540.4" r="2.5"/>
<circle cx="298.6" cy="551.7" r="2.5"/>
<circle cx="299.2" cy="554.1" r="2.5"/>
<circle cx="304.3" cy="545.3" r="2.5"/>
<circle cx="302.4" cy="555.2" r="2.5"/>
<circle cx="306" cy="547.9" r="2.5"/>
<circle cx="308.3" cy="533" r="2.5"/>
<circle cx="302.6" cy="561.5" r="2.5"/>
<circle cx="305.6" cy="542.8" r="2.5"/>
<circle cx="307.9" cy="538.3" r="2.5"/>
<circle cx="309.7" cy="538" r="2.5"/>
<circle cx="302.5" cy="532" r="2.5"/>
<circle cx="306.3" cy="543.7" r="2.5"/>
<circle cx="303.5" cy="551.5" r="2.5"/>
<circle cx="310.4" cy="541.1" r="2.5"/>
<circle cx="306.8" cy="531.3" r="2.5"/>
<circle cx="307.8" cy="533.9" r="2.5"/>
<circle cx="306.6" cy="533.1" r="2.5"/>
<circle cx="298.5" cy="556.8" r="2.5"/>
<circle cx="305.5" cy="548.6" r="2.5"/>
<circle cx="300.6" cy="537.3" r="2.5"/>
<circle cx="300.2" cy="563.1" r="2.5"/>
<circle cx="310.9" cy="539.4" r="2.5"/>
<circle cx="304" cy="534.8" r="2.5"/>
<circle cx="306.5" cy="549.5" r="2.5"/>
<circle cx="301.2" cy="559.7" r="2.5"/>
<circle cx="309.4" cy="532.5" r="2.5"/>
<circle cx="306.1" cy="543.6" r="2.5"/>
<circle cx="309.4" cy="543.4" r="2.5"/>
<circle cx="307.3" cy="547.2" r="2.5"/>
<circle cx="308.3" cy="534.5" r="2.5"/>
<circle cx="300.4" cy="553" r="2.5"/>
<circle cx="299" cy="554.5" r="2.5"/>
<circle cx="303.7" cy="558.5" r="2.5"/>
<circle cx="301" cy="552.3" r="2.5"/>
<circle cx="297.9" cy="569.2" r="2.5"/>
<circle cx="306.3" cy="552.9" r="2.5"/>
<circle cx="304" cy="540.6" r="2.5"/>
<circle cx="307.7" cy="545.3" r="2.5"/>
<circle cx="307.2" cy="550.1" r="2.5"/>
<circle cx="302.5" cy="559" r="2.5"/>
<circle cx="303" cy="541.6" r="2.5"/>
<circle cx="303.5" cy="547.1" r="2.5"/>
<circle cx="303.4" cy="544.2" r="2.5"/>
<circle cx="301.4" cy="557.3" r="2.5"/>
<circle cx="302.7" cy="532.9" r="2.5"/>
<circle cx="303.6" cy="539.4" r="2.5"/>
<circle cx="305.2" cy="554.7" r="2.5"/>
<circle cx="303.9" cy="539.8" r="2.5"/>
<circle cx="301.3" cy="537.9" r="2.5"/>
<circle cx="298.1" cy="557.4" r="2.5"/>
<circle cx="298.7" cy="567.2" r="2.5"/>
<circle cx="301.6" cy="537.8" r="2.5"/>
<circle cx="301.8" cy="566.4" r="2.5"/>
<circle cx="298.1" cy="561.5" r="2.5"/>
<circle cx="307" cy="542.9" r="2.5"/>
<circle cx="307.8" cy="535" r="2.5"/>
<circle cx="305.8" cy="550.1" r="2.5"/>
<circle cx="308.5" cy="544.8" r="2.5"/>
<circle cx="303.6" cy="561.6" r="2.5"/>
<circle cx="303.4" cy="554.6" r="2.5"/>
<circle cx="298.6" cy="568.6" r="2.5"/>
<circle cx="306.6" cy="542.4" r="2.5"/>
<circle cx="299.5" cy="546" r="2.5"/>
<circle cx="303" cy="560.5" r="2.5"/>
<circle cx="304.5" cy="557" r="2.5"/>
<circle cx="306" cy="537.6" r="2.5"/>
<circle cx="304.4" cy="537" r="2.5"/>
<circle cx="304.9" cy="533.1" r="2.5"/>
<circle cx="305.3" cy="549" r="2.5"/>
<circle cx="304.7" cy="544.8" r="2.5"/>
<circle cx="297.5" cy="561.6" r="2.5"/>
<circle cx="305.1" cy="538.5" r="2.5"/>
<circle cx="301.6" cy="559.5" r="2.5"/>
<circle cx="299.5" cy="545" r="2.5"/>
<circle cx="301.8" cy="555.9" r="2.5"/>
<circle cx="305.7" cy="537.4" r="2.5"/>
<circle cx="306.4" cy="549" r="2.5"/>
<circle cx="306" cy="551.7" r="2.5"/>
<circle cx="300.6" cy="554.6" r="2.5"/>
<circle cx="306.1" cy="542.3" r="2.5"/>
<circle cx="305.7" cy="533.4" r="2.5"/>
<circle cx="311" cy="537.9" r="2.5"/>
<circle cx="303.5" cy="555.9" r="2.5"/>
<circle cx="300.7" cy="536.5" r="2.5"/>
<circle cx="304.6" cy="557.5" r="2.5"/>
<circle cx="297.2" cy="564.9" r="2.5"/>
<circle cx="297.7" cy="560.1" r="2.5"/>
<circle cx="303.2" cy="532.9" r="2.5"/>
<circle cx="304.7" cy="532.6" r="2.5"/>
<circle cx="306.7" cy="549.4" r="2.5"/>
<circle cx="308.5" cy="540.7" r="2.5"/>
<circle cx="310" cy="538.7" r="2.5"/>
<circle cx="304.1" cy="532.5" r="2.5"/>
<circle cx="300.1" cy="561.9" r="2.5"/>
<circle cx="298.6" cy="562.2" r="2.5"/>
<circle cx="302.2" cy="540.5" r="2.5"/>
<circle cx="309.5" cy="531.7" r="2.5"/>
<circle cx="307.1" cy="540.7" r="2.5"/>
<circle cx="302.2" cy="535.5" r="2.5"/>
<circle cx="306.8" cy="532.4" r="2.5"/>
<circle cx="299.4" cy="560.8" r="2.5"/>
<circle cx="303.2" cy="542.8" r="2.5"/>
<circle cx="298.5" cy="557.6" r="2.5"/>
<circle cx="305.2" cy="546.9" r="2.5"/>
<circle cx="307.5" cy="532.8" r="2.5"/>
<circle cx="301.4" cy="541.1" r="2.5"/>
<circle cx="308.5" cy="544.9" r="2.5"/>
<circle cx="298.6" cy="548.8" r="2.5"/>
<circle cx="302" cy="562.2" r="2.5"/>
<circle cx="302.9" cy="538.1" r="2.5"/>
<circle cx="310" cy="539.5" r="2.5"/>
<circle cx="302" cy="549.5" r="2.5"/>
<circle cx="303.8" cy="541.5" r="2.5"/>
<circle cx="306.7" cy="546.4" r="2.5"/>
<circle cx="308.4" cy="534.4" r="2.5"/>
<circle cx="303.1" cy="549.3" r="2.5"/>
<circle cx="302.7" cy="540.6" r="2.5"/>
<circle cx="311.3" cy="535.7" r="2.5"/>
<circle cx="304" cy="541.1" r="2.5"/>
<circle cx="300.8" cy="537.3" r="2.5"/>
<circle cx="307.1" cy="535.7" r="2.5"/>
<circle cx="301.7" cy="537.9" r="2.5"/>
<circle cx="309.9" cy="537.7" r="2.5"/>
<circle cx="307.5" cy="547" r="2.5"/>
<circle cx="297.7" cy="561.7" r="2.5"/>
<circle cx="304.4" cy="549.7" r="2.5"/>
<circle cx="301.5" cy="540.9" r="2.5"/>
<circle cx="306.8" cy="537.3" r="2.5"/>
<circle cx="302" cy="555.9" r="2.5"/>
<circle cx="300.3" cy="560.5" r="2.5"/>
<circle cx="310.4" cy="536.6" r="2.5"/>
<circle cx="302.1" cy="554.1" r="2.5"/>
<circle cx="303.6" cy="536.1" r="2.5"/>
<circle cx="310.8" cy="535.8" r="2.5"/>
<circle cx="300.6" cy="558.5" r="2.5"/>
<circle cx="300.2" cy="537.7" r="2.5"/>
<circle cx="300.7" cy="553.1" r="2.5"/>
<circle cx="301.7" cy="544" r="2.5"/>
<circle cx="306.2" cy="542.7" r="2.5"/>
<circle cx="300.6" cy="540.3" r="2.5"/>
<circle cx="306.4" cy="545.6" r="2.5"/>
<circle cx="303.9" cy="532.4" r="2.5"/>
<circle cx="306.8" cy="550.8" r="2.5"/>
<circle cx="305.8" cy="536.3" r="2.5"/>
<circle cx="308.2" cy="548.8" r="2.5"/>
<circle cx="306.1" cy="540.7" r="2.5"/>
<circle cx="298.3" cy="556.7" r="2.5"/>
<circle cx="298.5" cy="560" r="2.5"/>
<circle cx="300.7" cy="561.8" r="2.5"/>
<circle cx="302.3" cy="555.8" r="2.5"/>
<circle cx="297.2" cy="562.6" r="2.5"/>
<circle cx="302" cy="561.2" r="2.5"/>
<circle cx="309.7" cy="537.7" r="2.5"/>
<circle cx="303.5" cy="542.3" r="2.5"/>
<circle cx="303.5" cy="537.9" r="2.5"/>
<circle cx="298" cy="556.7" r="2.5"/>
<circle cx="308.5" cy="540.9" r="2.5"/>
<circle cx="302.9" cy="560.3" r="2.5"/>
<circle cx="311.6" cy="534.8" r="2.5"/>
<circle cx="300.7" cy="565.2" r="2.5"/>
<circle cx="309.1" cy="539.4" r="2.5"/>
<circle cx="302.9" cy="537.1" r="2.5"/>
<circle cx="298.8" cy="550.6" r="2.5"/>
<circle cx="304.5" cy="553.7" r="2.5"/>
<circle cx="301" cy="567.7" r="2.5"/>
<circle cx="300.7" cy="549.1" r="2.5"/>
<circle cx="305.6" cy="533.5" r="2.5"/>
<circle cx="304.5" cy="559.9" r="2.5"/>
<circle cx="300" cy="557.1" r="2.5"/>
<circle cx="307.6" cy="541.8" r="2.5"/>
<circle cx="311.1" cy="541.1" r="2.5"/>
<circle cx="300.9" cy="539.1" r="2.5"/>
<circle cx="301.5" cy="563.5" r="2.5"/>
<circle cx="301.9" cy="564.8" r="2.5"/>
<circle cx="304" cy="533.4" r="2.5"/>
<circle cx="299.6" cy="558.4" r="2.5"/>
<circle cx="300.6" cy="562.4" r="2.5"/>
<circle cx="302" cy="534.1" r="2.5"/>
<circle cx="298.8" cy="555.2" r="2.5"/>
<circle cx="305.7" cy="542.4" r="2.5"/>
<circle cx="299.8" cy="551.1" r="2.5"/>
<circle cx="301.7" cy="541.1" r="2.5"/>
<circle cx="307.5" cy="542.5" r="2.5"/>
<circle cx="309.3" cy="535.7" r="2.5"/>
<circle cx="297.4" cy="567" r="2.5"/>
<circle cx="303.1" cy="558.9" r="2.5"/>
<circle cx="298.8" cy="555.6" r="2.5"/>
<circle cx="304.2" cy="536.7" r="2.5"/>
<circle cx="302.8" cy="541.5" r="2.5"/>
<circle cx="302" cy="563.4" r="2.5"/>
<circle cx="303.8" cy="555" r="2.5"/>
<circle cx="307.7" cy="548.4" r="2.5"/>
<circle cx="305.6" cy="544.1" r="2.5"/>
<circle cx="301.1" cy="538.5" r="2.5"/>
<circle cx="305.1" cy="555.7" r="2.5"/>
<circle cx="304.5" cy="552" r="2.5"/>
<circle cx="304.4" cy="544.9" r="2.5"/>
<circle cx="299.2" cy="553.2" r="2.5"/>
<circle cx="302.9" cy="549.6" r="2.5"/>
<circle cx="305.7" cy="539.7" r="2.5"/>
<circle cx="300.5" cy="558.8" r="2.5"/>
<circle cx="302.2" cy="538" r="2.5"/>
<circle cx="310" cy="536.8" r="2.5"/>
<circle cx="307.3" cy="550.6" r="2.5"/>
<circle cx="303.8" cy="558.5" r="2.5"/>
<circle cx="303.4" cy="551.5" r="2.5"/>
<circle cx="304.3" cy="555.5" r="2.5"/>
<circle cx="300.5" cy="552.9" r="2.5"/>
<circle cx="302.2" cy="546.3" r="2.5"/>
<circle cx="299" cy="553.2" r="2.5"/>
<circle cx="307.8" cy="538.9" r="2.5"/>
<circle cx="298.4" cy="556.3" r="2.5"/>
<circle cx="306.2" cy="548.8" r="2.5"/>
<circle cx="301.1" cy="552.3" r="2.5"/>
<circle cx="308.1" cy="531.4" r="2.5"/>
<circle cx="305.5" cy="541.8" r="2.5"/>
<circle cx="311.7" cy="539.5" r="2.5"/>
<circle cx="299.9" cy="537.7" r="2.5"/>
<circle cx="303" cy="560.2" r="2.5"/>
<circle cx="308.3" cy="535.6" r="2.5"/>
<circle cx="301.6" cy="536.9" r="2.5"/>
<circle cx="300.3" cy="565.7" r="2.5"/>
<circle cx="300.6" cy="538.8" r="2.5"/>
<circle cx="296.7" cy="566.6" r="2.5"/>
<circle cx="299.7" cy="550.9" r="2.5"/>
<circle cx="304.2" cy="547.3" r="2.5"/>
<circle cx="306" cy="531.4" r="2.5"/>
<circle cx="306.4" cy="544.3" r="2.5"/>
<circle cx="311.1" cy="537.2" r="2.5"/>
<circle cx="308.7" cy="530.7" r="2.5"/>
<circle cx="304.2" cy="540.6" r="2.5"/>
<circle cx="300.8" cy="533.7" r="2.5"/>
<circle cx="305.6" cy="544" r="2.5"/>
<circle cx="298.1" cy="560.7" r="2.5"/>
<circle cx="302.1" cy="562.1" r="2.5"/>
<circle cx="303.4" cy="533.1" r="2.5"/>
<circle cx="310.8" cy="538.9" r="2.5"/>
<circle cx="302.2" cy="541.9" r="2.5"/>
<circle cx="301.1" cy="552.1" r="2.5"/>
<circle cx="302.1" cy="553.8" r="2.5"/>
<circle cx="304.8" cy="539.7" r="2.5"/>
<circle cx="309.3" cy="538.1" r="2.5"/>
<circle cx="308.7" cy="547" r="2.5"/>
<circle cx="309.1" cy="539" r="2.5"/>
<circle cx="307.2" cy="538.2" r="2.5"/>
<circle cx="308" cy="536.3" r="2.5"/>
<circle cx="303.4" cy="533.3" r="2.5"/>
<circle cx="306.7" cy="543" r="2.5"/>
<circle cx="306.5" cy="545.8" r="2.5"/>
<circle cx="303.2" cy="560.2" r="2.5"/>
<circle cx="302.4" cy="540.7" r="2.5"/>
<circle cx="302.6" cy="544.6" r="2.5"/>
<circle cx="302.8" cy="539.6" r="2.5"/>
<circle cx="307" cy="545.9" r="2.5"/>
<circle cx="301.1" cy="563.8" r="2.5"/>
<circle cx="299.3" cy="564.1" r="2.5"/>
<circle cx="298.2" cy="567.9" r="2.5"/>
<circle cx="311.5" cy="537.6" r="2.5"/>
<circle cx="308.3" cy="546.6" r="2.5"/>
<circle cx="299.6" cy="561.8" r="2.5"/>
<circle cx="306.1" cy="553.6" r="2.5"/>
<circle cx="308.4" cy="540.2" r="2.5"/>
<circle cx="304.2" cy="534.4" r="2.5"/>
<circle cx="299.3" cy="564.6" r="2.5"/>
<circle cx="299.2" cy="554.1" r="2.5"/>
<circle cx="301.7" cy="555.6" r="2.5"/>
<circle cx="301" cy="549" r="2.5"/>
<circle cx="305" cy="547.3" r="2.5"/>
<circle cx="299.5" cy="546.5" r="2.5"/>
<circle cx="310.1" cy="541.9" r="2.5"/>
<circle cx="307.8" cy="547.1" r="2.5"/>
<circle cx="308.9" cy="533.3" r="2.5"/>
<circle cx="306.5" cy="540.6" r="2.5"/>
<circle cx="300.9" cy="547.8" r="2.5"/>
<circle cx="298.5" cy="549.5" r="2.5"/>
<circle cx="304.4" cy="551.2" r="2.5"/>
<circle cx="299.7" cy="542.4" r="2.5"/>
<circle cx="306.5" cy="535" r="2.5"/>
<circle cx="301.8" cy="542.8" r="2.5"/>
<circle cx="311" cy="532.5" r="2.5"/>
<circle cx="305.6" cy="553.7" r="2.5"/>
<circle cx="299.2" cy="556.2" r="2.5"/>
<circle cx="308.8" cy="535.3" r="2.5"/>
<circle cx="303.3" cy="539.2" r="2.5"/>
<circle cx="302.2" cy="547.5" r="2.5"/>
<circle cx="309.1" cy="543.8" r="2.5"/>
<circle cx="302.1" cy="561.2" r="2.5"/>
<circle cx="300.6" cy="562.9" r="2.5"/>
<circle cx="309.1" cy="543.7" r="2.5"/>
<circle cx="308.3" cy="535" r="2.5"/>
<circle cx="308.4" cy="535.3" r="2.5"/>
<circle cx="308.5" cy="540" r="2.5"/>
<circle cx="302.5" cy="555.4" r="2.5"/>
<circle cx="308.9" cy="533.6" r="2.5"/>
<circle cx="307.3" cy="551.7" r="2.5"/>
<circle cx="302.1" cy="547.2" r="2.5"/>
<circle cx="300" cy="563.6" r="2.5"/>
<circle cx="301.3" cy="543.3" r="2.5"/>
<circle cx="300.7" cy="546.2" r="2.5"/>
<circle cx="297.6" cy="559.2" r="2.5"/>
<circle cx="303.8" cy="550.1" r="2.5"/>
<circle cx="305.7" cy="535.7" r="2.5"/>
<circle cx="300.9" cy="558.9" r="2.5"/>
<circle cx="301.1" cy="561" r="2.5"/>
<circle cx="304.3" cy="537.6" r="2.5"/>
<circle cx="308.8" cy="533.9" r="2.5"/>
<circle cx="312.1" cy="537.9" r="2.5"/>
<circle cx="304.3" cy="549.2" r="2.5"/>
<circle cx="302.8" cy="557.6" r="2.5"/>
<circle cx="296.7" cy="568.5" r="2.5"/>
<circle cx="300.7" cy="544.6" r="2.5"/>
<circle cx="302.4" cy="539.3" r="2.5"/>
<circle cx="301.8" cy="559.8" r="2.5"/>
<circle cx="306.4" cy="548.1" r="2.5"/>
<circle cx="298.4" cy="557.6" r="2.5"/>
<circle cx="303.5" cy="557.4" r="2.5"/>
<circle cx="302.1" cy="532.8" r="2.5"/>
<circle cx="311.3" cy="539.2" r="2.5"/>
<circle cx="309.3" cy="543.9" r="2.5"/>
<circle cx="300.8" cy="538" r="2.5"/>
<circle cx="299.2" cy="566.9" r="2.5"/>
<circle cx="309.8" cy="536.8" r="2.5"/>
<circle cx="299.3" cy="541.7" r="2.5"/>
<circle cx="301.2" cy="556.4" r="2.5"/>
<circle cx="300.7" cy="540" r="2.5"/>
<circle cx="301.4" cy="555.4" r="2.5"/>
<circle cx="302.3" cy="549.9" r="2.5"/>
<circle cx="306.6" cy="541.5" r="2.5"/>
<circle cx="302.9" cy="552.8" r="2.5"/>
<circle cx="299.5" cy="556.4" r="2.5"/>
<circle cx="301.8" cy="557.8" r="2.5"/>
<circle cx="299.4" cy="550" r="2.5"/>
<circle cx="304.4" cy="550.4" r="2.5"/>
<circle cx="312" cy="532.9" r="2.5"/>
<circle cx="308.6" cy="538" r="2.5"/>
<circle cx="306.8" cy="541" r="2.5"/>
<circle cx="311.1" cy="538.3" r="2.5"/>
<circle cx="303.9" cy="554" r="2.5"/>
<circle cx="302.3" cy="548.2" r="2.5"/>
<circle cx="305.7" cy="543.3" r="2.5"/>
<circle cx="303.7" cy="560.6" r="2.5"/>
<circle cx="300.9" cy="559.4" r="2.5"/>
<circle cx="307.7" cy="532.4" r="2.5"/>
<circle cx="305" cy="535.1" r="2.5"/>
<circle cx="298.4" cy="567.5" r="2.5"/>
<circle cx="301.4" cy="565.9" r="2.5"/>
<circle cx="309.1" cy="532.1" r="2.5"/>
<circle cx="301.6" cy="535.3" r="2.5"/>
<circle cx="303.2" cy="544.7" r="2.5"/>
<circle cx="308.6" cy="544.8" r="2.5"/>
<circle cx="297" cy="567" r="2.5"/>
<circle cx="305.3" cy="552.6" r="2.5"/>
<circle cx="303.3" cy="556.8" r="2.5"/>
<circle cx="309.3" cy="530.7" r="2.5"/>
<circle cx="299.4" cy="561.7" r="2.5"/>
<circle cx="308.6" cy="532.7" r="2.5"/>
<circle cx="308.4" cy="537.5" r="2.5"/>
<circle cx="311.5" cy="535.4" r="2.5"/>
<circle cx="304.2" cy="533.8" r="2.5"/>
<circle cx="303.2" cy="550.6" r="2.5"/>
<circle cx="305.1" cy="548.2" r="2.5"/>
<circle cx="297.5" cy="568.7" r="2.5"/>
<circle cx="303.2" cy="538.9" r="2.5"/>
<circle cx="304.6" cy="555.2" r="2.5"/>
<circle cx="306.6" cy="535.6" r="2.5"/>
<circle cx="299.1" cy="560.9" r="2.5"/>
<circle cx="302.7" cy="539.4" r="2.5"/>
<circle cx="305.2" cy="551.6" r="2.5"/>
<circle cx="298.7" cy="567.4" r="2.5"/>
<circle cx="302.7" cy="535.2" r="2.5"/>
<circle cx="309.2" cy="544.6" r="2.5"/>
<circle cx="300.5" cy="552.1" r="2.5"/>
<circle cx="301.8" cy="562.4" r="2.5"/>
<circle cx="303.3" cy="551.3" r="2.5"/>
<circle cx="301.3" cy="550.2" r="2.5"/>
<circle cx="304" cy="557.5" r="2.5"/>
<circle cx="300.5" cy="565.7" r="2.5"/>
<circle cx="298.3" cy="560.4" r="2.5"/>
<circle cx="299" cy="560.7" r="2.5"/>
<circle cx="302.8" cy="541" r="2.5"/>
<circle cx="301.7" cy="538" r="2.5"/>
<circle cx="303.3" cy="560.7" r="2.5"/>
<circle cx="303.7" cy="556" r="2.5"/>
<circle cx="307" cy="532.5" r="2.5"/>
<circle cx="297.1" cy="568.3" r="2.5"/>
<circle cx="307.5" cy="546.4" r="2.5"/>
<circle cx="302.5" cy="560.9" r="2.5"/>
<circle cx="304.6" cy="555.4" r="2.5"/>
<circle cx="306.4" cy="542" r="2.5"/>
<circle cx="311.7" cy="536.6" r="2.5"/>
<circle cx="300.5" cy="554.3" r="2.5"/>
<circle cx="305.5" cy="544.5" r="2.5"/>
<circle cx="306.1" cy="546.7" r="2.5"/>
<circle cx="298.8" cy="562.5" r="2.5"/>
<circle cx="304.8" cy="534.1" r="2.5"/>
<circle cx="298.5" cy="563.2" r="2.5"/>
<circle cx="306.8" cy="543.3" r="2.5"/>
<circle cx="303.1" cy="541.8" r="2.5"/>
<circle cx="311.8" cy="536.9" r="2.5"/>
<circle cx="308.6" cy="534.5" r="2.5"/>
<circle cx="307.1" cy="533.2" r="2.5"/>
<circle cx="299.2" cy="569.1" r="2.5"/>
<circle cx="302" cy="558.7" r="2.5"/>
<circle cx="300.8" cy="558.9" r="2.5"/>
<circle cx="305.3" cy="555.3" r="2.5"/>
<circle cx="298.3" cy="568" r="2.5"/>
<circle cx="300.5" cy="566.5" r="2.5"/>
<circle cx="302" cy="532.2" r="2.5"/>
<circle cx="302.1" cy="555.2" r="2.5"/>
<circle cx="301" cy="568.5" r="2.5"/>
<circle cx="301.4" cy="562.8" r="2.5"/>
<circle cx="301.3" cy="545.4" r="2.5"/>
<circle cx="306.4" cy="540.7" r="2.5"/>
<circle cx="299.7" cy="566.2" r="2.5"/>
<circle cx="309.7" cy="540.5" r="2.5"/>
<circle cx="300.3" cy="559.7" r="2.5"/>
<circle cx="302.5" cy="532.3" r="2.5"/>
<circle cx="298.5" cy="569.2" r="2.5"/>
<circle cx="301.3" cy="537.8" r="2.5"/>
<circle cx="302" cy="542" r="2.5"/>
<circle cx="307.9" cy="549.4" r="2.5"/>
<circle cx="306.6" cy="536.9" r="2.5"/>
<circle cx="300.8" cy="560.4" r="2.5"/>
<circle cx="300" cy="549.5" r="2.5"/>
<circle cx="303.4" cy="549.7" r="2.5"/>
<circle cx="307.8" cy="534.6" r="2.5"/>
<circle cx="309.5" cy="532.4" r="2.5"/>
<circle cx="300.1" cy="557.3" r="2.5"/>
<circle cx="301.1" cy="544.7" r="2.5"/>
<circle cx="300.6" cy="556.8" r="2.5"/>
<circle cx="300.8" cy="568.5" r="2.5"/>
<circle cx="303.9" cy="556.9" r="2.5"/>
<circle cx="305" cy="545.7" r="2.5"/>
<circle cx="305.8" cy="536.6" r="2.5"/>
<circle cx="302.8" cy="549" r="2.5"/>
<circle cx="310.1" cy="538.3" r="2.5"/>
<circle cx="301" cy="559" r="2.5"/>
<circle cx="307" cy="542.7" r="2.5"/>
<circle cx="304.7" cy="553.5" r="2.5"/>
<circle cx="298.7" cy="559.6" r="2.5"/>
<circle cx="304.6" cy="555.2" r="2.5"/>
<circle cx="307.6" cy="531.3" r="2.5"/>
<circle cx="301.6" cy="545" r="2.5"/>
<circle cx="302" cy="557.2" r="2.5"/>
<circle cx="301.7" cy="536.8" r="2.5"/>
<circle cx="309.7" cy="537.7" r="2.5"/>
<circle cx="307.3" cy="538.4" r="2.5"/>
<circle cx="299.2" cy="549.1" r="2.5"/>
<circle cx="301.3" cy="538.9" r="2.5"/>
<circle cx="306.8" cy="542.4" r="2.5"/>
<circle cx="298.1" cy="562.6" r="2.5"/>
<circle cx="303.9" cy="534.5" r="2.5"/>
<circle cx="302.8" cy="544.2" r="2.5"/>
<circle cx="305.1" cy="549.6" r="2.5"/>
<circle cx="304.4" cy="540.6" r="2.5"/>
<circle cx="301.1" cy="566.4" r="2.5"/>
<circle cx="310.2" cy="538.5" r="2.5"/>
<circle cx="302.8" cy="533" r="2.5"/>
<circle cx="297.9" cy="563.4" r="2.5"/>
<circle cx="303.5" cy="533" r="2.5"/>
<circle cx="306.3" cy="543.7" r="2.5"/>
<circle cx="306.4" cy="535.7" r="2.5"/>
<circle cx="304.2" cy="554.9" r="2.5"/>
<circle cx="309" cy="534.8" r="2.5"/>
<circle cx="302.9" cy="562" r="2.5"/>
<circle cx="298.2" cy="567.1" r="2.5"/>
<circle cx="298.6" cy="550.6" r="2.5"/>
<circle cx="304.5" cy="552.1" r="2.5"/>
<circle cx="301.7" cy="553.6" r="2.5"/>
<circle cx="301.4" cy="553.5" r="2.5"/>
<circle cx="303.6" cy="560.8" r="2.5"/>
<circle cx="307.9" cy="535.2" r="2.5"/>
<circle cx="310.9" cy="536.7" r="2.5"/>
<circle cx="302" cy="540" r="2.5"/>
<circle cx="303" cy="554.1" r="2.5"/>
<circle cx="306.3" cy="532.6" r="2.5"/>
<circle cx="305.3" cy="533.6" r="2.5"/>
<circle cx="309.2" cy="535" r="2.5"/>
<circle cx="303" cy="540" r="2.5"/>
<circle cx="303.7" cy="561.8" r="2.5"/>
<circle cx="306.6" cy="543.9" r="2.5"/>
<circle cx="304.2" cy="540.8" r="2.5"/>
<circle cx="305.7" cy="548.1" r="2.5"/>
<circle cx="303.1" cy="536.5" r="2.5"/>
<circle cx="300.9" cy="565.7" r="2.5"/>
<circle cx="300" cy="558.6" r="2.5"/>
<circle cx="304.2" cy="543.8" r="2.5"/>
<circle cx="303.9" cy="558.9" r="2.5"/>
<circle cx="310.2" cy="541.6" r="2.5"/>
<circle cx="309.5" cy="531.8" r="2.5"/>
<circle cx="305.8" cy="533.4" r="2.5"/>
<circle cx="309.4" cy="545.3" r="2.5"/>
<circle cx="302.5" cy="562.1" r="2.5"/>
<circle cx="310.6" cy="532" r="2.5"/>
<circle cx="303.8" cy="549.7" r="2.5"/>
<circle cx="300.5" cy="542.6" r="2.5"/>
<circle cx="302.2" cy="535.7" r="2.5"/>
<circle cx="309.8" cy="543.1" r="2.5"/>
<circle cx="303.2" cy="541.2" r="2.5"/>
<circle cx="309.1" cy="532.3" r="2.5"/>
<circle cx="297.9" cy="564.1" r="2.5"/>
<circle cx="307" cy="530.8" r="2.5"/>
<circle cx="299.6" cy="553.6" r="2.5"/>
<circle cx="309.9" cy="542.1" r="2.5"/>
<circle cx="300.1" cy="546.7" r="2.5"/>
<circle cx="301.3" cy="537.2" r="2.5"/>
<circle cx="310" cy="535.4" r="2.5"/>
<circle cx="298.5" cy="563.3" r="2.5"/>
<circle cx="307.2" cy="541" r="2.5"/>
<circle cx="308.3" cy="540.1" r="2.5"/>
<circle cx="306.6" cy="531.1" r="2.5"/>
<circle cx="298.3" cy="553.8" r="2.5"/>
<circle cx="307.8" cy="537.6" r="2.5"/>
<circle cx="299.4" cy="547.7" r="2.5"/>
<circle cx="303" cy="555.5" r="2.5"/>
<circle cx="304.9" cy="538.6" r="2.5"/>
<circle cx="307.2" cy="545.3" r="2.5"/>
<circle cx="302.2" cy="558" r="2.5"/>
<circle cx="298.8" cy="561.9" r="2.5"/>
<circle cx="300.2" cy="552.4" r="2.5"/>
<circle cx="305.6" cy="549.6" r="2.5"/>
<circle cx="299.5" cy="543.7" r="2.5"/>
<circle cx="300.2" cy="567.6" r="2.5"/>
<circle cx="299.5" cy="543.5" r="2.5"/>
<circle cx="299.7" cy="565.2" r="2.5"/>
<circle cx="302.9" cy="560.7" r="2.5"/>
<circle cx="301" cy="556.4" r="2.5"/>
<circle cx="300.4" cy="540.5" r="2.5"/>
<circle cx="309.8" cy="537.1" r="2.5"/>
<circle cx="301.9" cy="535.2" r="2.5"/>
<circle cx="306.2" cy="543.3" r="2.5"/>
<circle cx="308.1" cy="532.8" r="2.5"/>
<circle cx="302.9" cy="540.7" r="2.5"/>
<circle cx="303.8" cy="552.6" r="2.5"/>
<circle cx="306.5" cy="534.3" r="2.5"/>
<circle cx="305.5" cy="552.1" r="2.5"/>
<circle cx="299.7" cy="550.7" r="2.5"/>
<circle cx="297.1" cy="565.3" r="2.5"/>
<circle cx="297.2" cy="567.5" r="2.5"/>
<circle cx="301" cy="560.2" r="2.5"/>
<circle cx="299.1" cy="551.4" r="2.5"/>
<circle cx="308.3" cy="543.1" r="2.5"/>
<circle cx="311" cy="533.9" r="2.5"/>
<circle cx="301.8" cy="545" r="2.5"/>
<circle cx="308.8" cy="538.9" r="2.5"/>
<circle cx="299.8" cy="558.6" r="2.5"/>
<circle cx="298.8" cy="547.3" r="2.5"/>
<circle cx="308.7" cy="534.8" r="2.5"/>
<circle cx="300.1" cy="559.6" r="2.5"/>
<circle cx="309.4" cy="541.2" r="2.5"/>
<circle cx="304.5" cy="531.8" r="2.5"/>
<circle cx="303" cy="542.8" r="2.5"/>
<circle cx="301" cy="565.9" r="2.5"/>
<circle cx="304" cy="559.7" r="2.5"/>
<circle cx="297.6" cy="568" r="2.5"/>
<circle cx="300" cy="551.2" r="2.5"/>
<circle cx="305.7" cy="539.4" r="2.5"/>
<circle cx="299.4" cy="565.1" r="2.5"/>
<circle cx="300.6" cy="538.7" r="2.5"/>
<circle cx="302.1" cy="565.3" r="2.5"/>
<circle cx="298.1" cy="558.9" r="2.5"/>
<circle cx="308.7" cy="534.5" r="2.5"/>
<circle cx="300.3" cy="537.8" r="2.5"/>
<circle cx="299.6" cy="557.4" r="2.5"/>
<circle cx="300.1" cy="560.7" r="2.5"/>
<circle cx="306.7" cy="546.8" r="2.5"/>
<circle cx="301.3" cy="534.1" r="2.5"/>
<circle cx="303.3" cy="534.4" r="2.5"/>
<circle cx="310" cy="534.9" r="2.5"/>
<circle cx="301.8" cy="558.3" r="2.5"/>
<circle cx="300.4" cy="554" r="2.5"/>
<circle cx="306.5" cy="536" r="2.5"/>
<circle cx="300.3" cy="536.7" r="2.5"/>
<circle cx="300.2" cy="544.2" r="2.5"/>
<circle cx="298.6" cy="568" r="2.5"/>
<circle cx="300.1" cy="536.8" r="2.5"/>
<circle cx="298.1" cy="567.9" r="2.5"/>
<circle cx="307" cy="534.1" r="2.5"/>
<circle cx="301" cy="540.8" r="2.5"/>
<circle cx="303.7" cy="537" r="2.5"/>
<circle cx="309.9" cy="530.8" r="2.5"/>
<circle cx="300.2" cy="563.2" r="2.5"/>
<circle cx="301.8" cy="543.8" r="2.5"/>
<circle cx="300.9" cy="551" r="2.5"/>
<circle cx="309.5" cy="534.6" r="2.5"/>
<circle cx="302.1" cy="550.3" r="2.5"/>
<circle cx="300.1" cy="542.8" r="2.5"/>
<circle cx="302.3" cy="533.2" r="2.5"/>
<circle cx="307.1" cy="550.5" r="2.5"/>
<circle cx="301.2" cy="558.9" r="2.5"/>
<circle cx="303" cy="548.7" r="2.5"/>
<circle cx="310.2" cy="543.2" r="2.5"/>
<circle cx="305.5" cy="551.7" r="2.5"/>
<circle cx="308.5" cy="536.2" r="2.5"/>
<circle cx="304" cy="539" r="2.5"/>
<circle cx="299.9" cy="557.2" r="2.5"/>
<circle cx="308.5" cy="543.8" r="2.5"/>
<circle cx="308.5" cy="546.3" r="2.5"/>
<circle cx="303.8" cy="557.3" r="2.5"/>
<circle cx="309.3" cy="533.1" r="2.5"/>
<circle cx="304.7" cy="544.2" r="2.5"/>
<circle cx="299.6" cy="558.3" r="2.5"/>
<circle cx="307.4" cy="541.7" r="2.5"/>
<circle cx="300.7" cy="563.9" r="2.5"/>
<circle cx="303.2" cy="547.7" r="2.5"/>
<circle cx="304.8" cy="549.3" r="2.5"/>
<circle cx="299.3" cy="548" r="2.5"/>
<circle cx="304.4" cy="555.3" r="2.5"/>
<circle cx="301.8" cy="564.4" r="2.5"/>
<circle cx="308.4" cy="531.9" r="2.5"/>
<circle cx="303.5" cy="536.1" r="2.5"/>
<circle cx="299.7" cy="563.9" r="2.5"/>
<circle cx="308.1" cy="535.2" r="2.5"/>
<circle cx="306.8" cy="547.5" r="2.5"/>
<circle cx="307.5" cy="540.8" r="2.5"/>
<circle cx="301.1" cy="545.7" r="2.5"/>
<circle cx="302.4" cy="563.4" r="2.5"/>
<circle cx="301.8" cy="558.1" r="2.5"/>
<circle cx="304" cy="533.6" r="2.5"/>
<circle cx="301.5" cy="534.8" r="2.5"/>
<circle cx="300.5" cy="541.5" r="2.5"/>
<circle cx="304.4" cy="534" r="2.5"/>
<circle cx="308.3" cy="532.4" r="2.5"/>
<circle cx="296.5" cy="569.1" r="2.5"/>
<circle cx="297.4" cy="569.1" r="2.5"/>
<circle cx="298.3" cy="569.1" r="2.5"/>
<circle cx="299.2" cy="569.1" r="2.5"/>
<circle cx="300.1" cy="569.1" r="2.5"/>
<circle cx="301" cy="569.1" r="2.5"/>
<circle cx="309.8" cy="514.7" r="2.5"/>
<circle cx="309.6" cy="517.5" r="2.5"/>
<circle cx="309.8" cy="519.5" r="2.5"/>
<circle cx="310.2" cy="522" r="2.5"/>
<circle cx="312.5" cy="524.8" r="2.5"/>
<circle cx="304.8" cy="526.7" r="2.5"/>
<circle cx="309.4" cy="527" r="2.5"/>
<circle cx="307" cy="529.5" r="2.5"/>
<circle cx="311.5" cy="528.5" r="2.5"/>
<circle cx="440" cy="22" r="2.5"/>
<circle cx="356" cy="324" r="2.5"/>
<circle cx="347.5" cy="432.5" r="2.5"/>
<circle cx="322.6" cy="484.1" r="2.5"/>
<circle cx="324.3" cy="494.2" r="2.5"/>
<circle cx="318.7" cy="500" r="2.5"/>
<circle cx="314.6" cy="501.6" r="2.5"/>
<circle cx="317.1" cy="506.2" r="2.5"/>
<circle cx="320.2" cy="510" r="2.5"/>
<circle cx="319.9" cy="516.6" r="2.5"/>
<circle cx="317.5" cy="523.6" r="2.5"/>
<circle cx="298" cy="536" r="2.5"/>
<circle cx="316.8" cy="537.9" r="2.5"/>
<circle cx="313.3" cy="542.2" r="2.5"/>
</g>
<polyline fill="none" stroke="#00f" stroke-width="1.4" stroke-linejoin="round" points="296,569.3 356,435 440,22.4"/>
<line stroke="#f00" stroke-width="1.4" x1="293.3" y1="592.1" x2="420.2" y2="0"/>
</g>
<g fill="none" stroke="#000" stroke-width="1.3" stroke-linecap="round">
<rect x="290.6" y="0.6" width="155.4" height="591.5"/>
<line x1="321.5" y1="592.1" x2="321.5" y2="599.3"/>
<line x1="354.9" y1="592.1" x2="354.9" y2="599.3"/>
<line x1="388.2" y1="592.1" x2="388.2" y2="599.3"/>
<line x1="421.5" y1="592.1" x2="421.5" y2="599.3"/>
<line x1="283.8" y1="538" x2="290.6" y2="538"/>
<line x1="283.8" y1="460.2" x2="290.6" y2="460.2"/>
<line x1="283.8" y1="382.5" x2="290.6" y2="382.5"/>
<line x1="283.8" y1="304.8" x2="290.6" y2="304.8"/>
<line x1="283.8" y1="227" x2="290.6" y2="227"/>
<line x1="283.8" y1="149.2" x2="290.6" y2="149.2"/>
<line x1="283.8" y1="71.5" x2="290.6" y2="71.5"/>
</g>
<g font-size="11.2" text-anchor="middle" fill="#000" stroke="#000" stroke-width="0.2">
<text x="321.5" y="617.1">0.002</text>
<text x="388.2" y="617.1">0.006</text>
<text transform="translate(274.8,538) rotate(-90)">0.001</text>
<text transform="translate(274.8,460.2) rotate(-90)">0.002</text>
<text transform="translate(274.8,382.5) rotate(-90)">0.003</text>
<text transform="translate(274.8,304.8) rotate(-90)">0.004</text>
<text transform="translate(274.8,227) rotate(-90)">0.005</text>
<text transform="translate(274.8,149.2) rotate(-90)">0.006</text>
<text transform="translate(274.8,71.5) rotate(-90)">0.007</text>
<text x="368.3" y="643.6">Primary Series (Obs - Exp)</text>
<text transform="translate(246.9,296.3) rotate(-90)">Replicate Series (Obs - Exp)</text>
</g>
<clipPath id="c529"><rect x="529.5" y="0" width="155" height="592.1"/></clipPath>
<g clip-path="url(#c529)">
<g fill="none" stroke="#000" stroke-width="1.2">
<circle cx="625.2" cy="222.1" r="2.5"/>
<circle cx="578.1" cy="395.7" r="2.5"/>
<circle cx="575.9" cy="412.6" r="2.5"/>
<circle cx="577.6" cy="372" r="2.5"/>
<circle cx="585.7" cy="398.5" r="2.5"/>
<circle cx="570.8" cy="417" r="2.5"/>
<circle cx="591.2" cy="344.4" r="2.5"/>
<circle cx="591.5" cy="335.4" r="2.5"/>
<circle cx="560.8" cy="462.1" r="2.5"/>
<circle cx="569.5" cy="446.8" r="2.5"/>
<circle cx="574.8" cy="411.8" r="2.5"/>
<circle cx="606.1" cy="312.5" r="2.5"/>
<circle cx="617.8" cy="323.4" r="2.5"/>
<circle cx="559" cy="482.6" r="2.5"/>
<circle cx="562.1" cy="466.7" r="2.5"/>
<circle cx="594.3" cy="308.5" r="2.5"/>
<circle cx="631.3" cy="237" r="2.5"/>
<circle cx="590.9" cy="373.9" r="2.5"/>
<circle cx="570.4" cy="429.6" r="2.5"/>
<circle cx="600.1" cy="277.9" r="2.5"/>
<circle cx="578" cy="397.7" r="2.5"/>
<circle cx="597.6" cy="309.4" r="2.5"/>
<circle cx="633.7" cy="239.2" r="2.5"/>
<circle cx="604.3" cy="317.6" r="2.5"/>
<circle cx="589.7" cy="365" r="2.5"/>
<circle cx="598" cy="308.8" r="2.5"/>
<circle cx="568.7" cy="426.1" r="2.5"/>
<circle cx="586.2" cy="386.5" r="2.5"/>
<circle cx="576.4" cy="420.2" r="2.5"/>
<circle cx="588.7" cy="388.7" r="2.5"/>
<circle cx="576.2" cy="412.8" r="2.5"/>
<circle cx="582" cy="387.1" r="2.5"/>
<circle cx="580.3" cy="403.7" r="2.5"/>
<circle cx="583.1" cy="363.7" r="2.5"/>
<circle cx="586.7" cy="365.9" r="2.5"/>
<circle cx="589.9" cy="346" r="2.5"/>
<circle cx="627.5" cy="251.7" r="2.5"/>
<circle cx="549.2" cy="503.2" r="2.5"/>
<circle cx="612.1" cy="260.8" r="2.5"/>
<circle cx="580.5" cy="391.5" r="2.5"/>
<circle cx="559.1" cy="476.3" r="2.5"/>
<circle cx="581.5" cy="386" r="2.5"/>
<circle cx="590.2" cy="363.4" r="2.5"/>
<circle cx="609.5" cy="280.3" r="2.5"/>
<circle cx="558.7" cy="461.8" r="2.5"/>
<circle cx="591.7" cy="352.7" r="2.5"/>
<circle cx="596.4" cy="361.2" r="2.5"/>
<circle cx="548.1" cy="514.9" r="2.5"/>
<circle cx="559" cy="472.4" r="2.5"/>
<circle cx="602.1" cy="320.1" r="2.5"/>
<circle cx="605.9" cy="312" r="2.5"/>
<circle cx="612.8" cy="278.5" r="2.5"/>
<circle cx="588.9" cy="325.8" r="2.5"/>
<circle cx="601.9" cy="337.6" r="2.5"/>
<circle cx="599.2" cy="360.8" r="2.5"/>
<circle cx="608.8" cy="268.2" r="2.5"/>
<circle cx="564.9" cy="443.2" r="2.5"/>
<circle cx="584.7" cy="383.4" r="2.5"/>
<circle cx="593.5" cy="338.4" r="2.5"/>
<circle cx="547.5" cy="505.8" r="2.5"/>
<circle cx="634.5" cy="259.5" r="2.5"/>
<circle cx="564.9" cy="438.9" r="2.5"/>
<circle cx="591.9" cy="377.4" r="2.5"/>
<circle cx="635.3" cy="187.4" r="2.5"/>
<circle cx="565.5" cy="442" r="2.5"/>
<circle cx="568.7" cy="416.4" r="2.5"/>
<circle cx="623.3" cy="238.1" r="2.5"/>
<circle cx="562.1" cy="463.4" r="2.5"/>
<circle cx="582.4" cy="408.1" r="2.5"/>
<circle cx="599.2" cy="327.3" r="2.5"/>
<circle cx="596.5" cy="332.5" r="2.5"/>
<circle cx="601.1" cy="320.7" r="2.5"/>
<circle cx="590.4" cy="339.7" r="2.5"/>
<circle cx="624.6" cy="256.6" r="2.5"/>
<circle cx="619.7" cy="284.7" r="2.5"/>
<circle cx="601" cy="320.5" r="2.5"/>
<circle cx="572.1" cy="429.5" r="2.5"/>
<circle cx="570.4" cy="432.1" r="2.5"/>
<circle cx="543.1" cy="534" r="2.5"/>
<circle cx="614.1" cy="312.7" r="2.5"/>
<circle cx="544.4" cy="526.7" r="2.5"/>
<circle cx="613.3" cy="296.3" r="2.5"/>
<circle cx="639.1" cy="213.9" r="2.5"/>
<circle cx="559.2" cy="461.8" r="2.5"/>
<circle cx="573.5" cy="429.6" r="2.5"/>
<circle cx="568.8" cy="411.9" r="2.5"/>
<circle cx="613" cy="300.5" r="2.5"/>
<circle cx="561.3" cy="444.9" r="2.5"/>
<circle cx="589.7" cy="382.4" r="2.5"/>
<circle cx="575" cy="415.9" r="2.5"/>
<circle cx="571.8" cy="392.7" r="2.5"/>
<circle cx="606.9" cy="261.2" r="2.5"/>
<circle cx="561.5" cy="453.5" r="2.5"/>
<circle cx="584.2" cy="365.2" r="2.5"/>
<circle cx="588.6" cy="348.1" r="2.5"/>
<circle cx="603.2" cy="298.1" r="2.5"/>
<circle cx="557.4" cy="479.1" r="2.5"/>
<circle cx="603.8" cy="276.2" r="2.5"/>
<circle cx="594.3" cy="334.2" r="2.5"/>
<circle cx="606.6" cy="296.7" r="2.5"/>
<circle cx="603.8" cy="365.2" r="2.5"/>
<circle cx="549.5" cy="511" r="2.5"/>
<circle cx="567.8" cy="426.5" r="2.5"/>
<circle cx="607.8" cy="301.6" r="2.5"/>
<circle cx="595.1" cy="368.1" r="2.5"/>
<circle cx="590.3" cy="375.4" r="2.5"/>
<circle cx="626.8" cy="218.5" r="2.5"/>
<circle cx="648.5" cy="183.5" r="2.5"/>
<circle cx="577.1" cy="374.4" r="2.5"/>
<circle cx="635.8" cy="206.5" r="2.5"/>
<circle cx="542.1" cy="541.3" r="2.5"/>
<circle cx="540.2" cy="546" r="2.5"/>
<circle cx="618.5" cy="297.4" r="2.5"/>
<circle cx="579.8" cy="393.6" r="2.5"/>
<circle cx="600.7" cy="321.9" r="2.5"/>
<circle cx="591.7" cy="327.2" r="2.5"/>
<circle cx="584.2" cy="378.9" r="2.5"/>
<circle cx="604" cy="313.1" r="2.5"/>
<circle cx="592" cy="358.4" r="2.5"/>
<circle cx="550.1" cy="501.9" r="2.5"/>
<circle cx="591.3" cy="352.6" r="2.5"/>
<circle cx="590.1" cy="355.5" r="2.5"/>
<circle cx="635.2" cy="215" r="2.5"/>
<circle cx="559.6" cy="467.5" r="2.5"/>
<circle cx="584.4" cy="369.8" r="2.5"/>
<circle cx="588.5" cy="407.5" r="2.5"/>
<circle cx="591.6" cy="382.6" r="2.5"/>
<circle cx="617.6" cy="229.8" r="2.5"/>
<circle cx="603" cy="339" r="2.5"/>
<circle cx="572.1" cy="410.9" r="2.5"/>
<circle cx="590.8" cy="358.2" r="2.5"/>
<circle cx="605.1" cy="306" r="2.5"/>
<circle cx="563.1" cy="456" r="2.5"/>
<circle cx="579.8" cy="393.8" r="2.5"/>
<circle cx="620.9" cy="239.8" r="2.5"/>
<circle cx="611" cy="298.3" r="2.5"/>
<circle cx="592" cy="375.1" r="2.5"/>
<circle cx="582" cy="412" r="2.5"/>
<circle cx="568.8" cy="384.4" r="2.5"/>
<circle cx="553.7" cy="503.5" r="2.5"/>
<circle cx="606.1" cy="290.9" r="2.5"/>
<circle cx="584.2" cy="342.2" r="2.5"/>
<circle cx="588.9" cy="359.5" r="2.5"/>
<circle cx="561.7" cy="481.9" r="2.5"/>
<circle cx="575.4" cy="432.2" r="2.5"/>
<circle cx="608" cy="327.4" r="2.5"/>
<circle cx="588.2" cy="349.3" r="2.5"/>
<circle cx="582.2" cy="413.6" r="2.5"/>
<circle cx="610.5" cy="328.2" r="2.5"/>
<circle cx="622" cy="291.2" r="2.5"/>
<circle cx="575.2" cy="428.8" r="2.5"/>
<circle cx="573" cy="416.5" r="2.5"/>
<circle cx="564" cy="445.4" r="2.5"/>
<circle cx="558.1" cy="469.8" r="2.5"/>
<circle cx="605.9" cy="303.4" r="2.5"/>
<circle cx="599.1" cy="327.8" r="2.5"/>
<circle cx="593.2" cy="342.4" r="2.5"/>
<circle cx="558" cy="471.2" r="2.5"/>
<circle cx="557.2" cy="460.5" r="2.5"/>
<circle cx="582.5" cy="377" r="2.5"/>
<circle cx="573.1" cy="406.5" r="2.5"/>
<circle cx="592.9" cy="361" r="2.5"/>
<circle cx="574.8" cy="430.9" r="2.5"/>
<circle cx="605" cy="315.5" r="2.5"/>
<circle cx="636.7" cy="217.9" r="2.5"/>
<circle cx="627" cy="239.4" r="2.5"/>
<circle cx="625.3" cy="234" r="2.5"/>
<circle cx="582.5" cy="365.2" r="2.5"/>
<circle cx="602.5" cy="292.7" r="2.5"/>
<circle cx="577.5" cy="403.4" r="2.5"/>
<circle cx="598.8" cy="292.8" r="2.5"/>
<circle cx="581.8" cy="403.5" r="2.5"/>
<circle cx="574.3" cy="413" r="2.5"/>
<circle cx="571.9" cy="426.2" r="2.5"/>
<circle cx="601.1" cy="311.7" r="2.5"/>
<circle cx="588.1" cy="347.8" r="2.5"/>
<circle cx="588.3" cy="355.4" r="2.5"/>
<circle cx="561.8" cy="468.5" r="2.5"/>
<circle cx="593.4" cy="359.2" r="2.5"/>
<circle cx="553.2" cy="494.1" r="2.5"/>
<circle cx="618.4" cy="245.4" r="2.5"/>
<circle cx="583.8" cy="382.5" r="2.5"/>
<circle cx="584.1" cy="354.7" r="2.5"/>
<circle cx="582.5" cy="380.2" r="2.5"/>
<circle cx="548.5" cy="506.3" r="2.5"/>
<circle cx="553.7" cy="488.2" r="2.5"/>
<circle cx="590.4" cy="373.7" r="2.5"/>
<circle cx="623.9" cy="244" r="2.5"/>
<circle cx="557.7" cy="466.4" r="2.5"/>
<circle cx="567.1" cy="431.4" r="2.5"/>
<circle cx="585.9" cy="375.3" r="2.5"/>
<circle cx="546.6" cy="515.1" r="2.5"/>
<circle cx="547.9" cy="516" r="2.5"/>
<circle cx="583.2" cy="406.4" r="2.5"/>
<circle cx="586.3" cy="375.1" r="2.5"/>
<circle cx="582.2" cy="404.6" r="2.5"/>
<circle cx="623.3" cy="240.5" r="2.5"/>
<circle cx="589.9" cy="385.3" r="2.5"/>
<circle cx="595.3" cy="340.6" r="2.5"/>
<circle cx="624.8" cy="235" r="2.5"/>
<circle cx="637.6" cy="226" r="2.5"/>
<circle cx="549.5" cy="506.8" r="2.5"/>
<circle cx="576" cy="403.4" r="2.5"/>
<circle cx="610.4" cy="272.2" r="2.5"/>
<circle cx="555.1" cy="488.8" r="2.5"/>
<circle cx="564" cy="450.1" r="2.5"/>
<circle cx="560.8" cy="481.9" r="2.5"/>
<circle cx="552.4" cy="487.4" r="2.5"/>
<circle cx="561.7" cy="468" r="2.5"/>
<circle cx="585.4" cy="356.2" r="2.5"/>
<circle cx="617.1" cy="263.1" r="2.5"/>
<circle cx="633" cy="241" r="2.5"/>
<circle cx="583" cy="370.3" r="2.5"/>
<circle cx="540.7" cy="539.3" r="2.5"/>
<circle cx="587.8" cy="376.1" r="2.5"/>
<circle cx="584.3" cy="400.2" r="2.5"/>
<circle cx="594.3" cy="341.2" r="2.5"/>
<circle cx="580" cy="382.2" r="2.5"/>
<circle cx="545.2" cy="524.4" r="2.5"/>
<circle cx="597.8" cy="336" r="2.5"/>
<circle cx="539.8" cy="547.6" r="2.5"/>
<circle cx="563.5" cy="430.1" r="2.5"/>
<circle cx="589.3" cy="344.7" r="2.5"/>
<circle cx="593.8" cy="341.4" r="2.5"/>
<circle cx="623" cy="237.3" r="2.5"/>
<circle cx="595.3" cy="342.3" r="2.5"/>
<circle cx="607.7" cy="312.5" r="2.5"/>
<circle cx="586.4" cy="399.2" r="2.5"/>
<circle cx="592.7" cy="316.9" r="2.5"/>
<circle cx="562.6" cy="465.2" r="2.5"/>
<circle cx="600.4" cy="315.3" r="2.5"/>
<circle cx="598.1" cy="325.4" r="2.5"/>
<circle cx="558.7" cy="455" r="2.5"/>
<circle cx="573.9" cy="428.1" r="2.5"/>
<circle cx="571.3" cy="387.5" r="2.5"/>
<circle cx="569.3" cy="427.2" r="2.5"/>
<circle cx="627.3" cy="282.2" r="2.5"/>
<circle cx="587.8" cy="356.3" r="2.5"/>
<circle cx="624.1" cy="259.2" r="2.5"/>
<circle cx="607.8" cy="271.1" r="2.5"/>
<circle cx="582.6" cy="366.1" r="2.5"/>
<circle cx="584.4" cy="387.7" r="2.5"/>
<circle cx="566.4" cy="452" r="2.5"/>
<circle cx="566" cy="439.9" r="2.5"/>
<circle cx="564.5" cy="439.6" r="2.5"/>
<circle cx="591.3" cy="341.6" r="2.5"/>
<circle cx="565.5" cy="446.6" r="2.5"/>
<circle cx="583" cy="364.6" r="2.5"/>
<circle cx="597.4" cy="354.9" r="2.5"/>
<circle cx="572" cy="413.6" r="2.5"/>
<circle cx="579.7" cy="387.2" r="2.5"/>
<circle cx="614.1" cy="248" r="2.5"/>
<circle cx="613.5" cy="233.8" r="2.5"/>
<circle cx="569.7" cy="438" r="2.5"/>
<circle cx="578.2" cy="387.9" r="2.5"/>
<circle cx="579.2" cy="403" r="2.5"/>
<circle cx="579.6" cy="394.8" r="2.5"/>
<circle cx="646.7" cy="240.4" r="2.5"/>
<circle cx="608.1" cy="312.8" r="2.5"/>
<circle cx="634.2" cy="263.9" r="2.5"/>
<circle cx="610.8" cy="219.8" r="2.5"/>
<circle cx="576.7" cy="408.8" r="2.5"/>
<circle cx="585.5" cy="387.2" r="2.5"/>
<circle cx="581.4" cy="367.8" r="2.5"/>
<circle cx="613.7" cy="283.8" r="2.5"/>
<circle cx="580.8" cy="379" r="2.5"/>
<circle cx="612.5" cy="316.2" r="2.5"/>
<circle cx="612.4" cy="271.7" r="2.5"/>
<circle cx="612.9" cy="272.1" r="2.5"/>
<circle cx="611.5" cy="333.2" r="2.5"/>
<circle cx="567.3" cy="438.5" r="2.5"/>
<circle cx="549.2" cy="503.8" r="2.5"/>
<circle cx="616.4" cy="275.6" r="2.5"/>
<circle cx="591.8" cy="332.4" r="2.5"/>
<circle cx="560.4" cy="451.2" r="2.5"/>
<circle cx="575.8" cy="414.3" r="2.5"/>
<circle cx="578.4" cy="409.5" r="2.5"/>
<circle cx="546.5" cy="514.1" r="2.5"/>
<circle cx="598.2" cy="349.8" r="2.5"/>
<circle cx="562.3" cy="438.4" r="2.5"/>
<circle cx="578.3" cy="396.4" r="2.5"/>
<circle cx="611.8" cy="308.2" r="2.5"/>
<circle cx="586.9" cy="379.4" r="2.5"/>
<circle cx="590.4" cy="325" r="2.5"/>
<circle cx="593.3" cy="335.3" r="2.5"/>
<circle cx="581.5" cy="368.6" r="2.5"/>
<circle cx="576.6" cy="367.1" r="2.5"/>
<circle cx="637.3" cy="212.6" r="2.5"/>
<circle cx="594.2" cy="385.8" r="2.5"/>
<circle cx="616.7" cy="232.5" r="2.5"/>
<circle cx="559.8" cy="449.2" r="2.5"/>
<circle cx="599.3" cy="309.1" r="2.5"/>
<circle cx="592.7" cy="356.7" r="2.5"/>
<circle cx="571.7" cy="433.5" r="2.5"/>
<circle cx="618.8" cy="235.3" r="2.5"/>
<circle cx="562.9" cy="469.8" r="2.5"/>
<circle cx="561.9" cy="453.4" r="2.5"/>
<circle cx="591.2" cy="360.2" r="2.5"/>
<circle cx="601.9" cy="366.4" r="2.5"/>
<circle cx="595.6" cy="347.5" r="2.5"/>
<circle cx="581.4" cy="392.9" r="2.5"/>
<circle cx="553.3" cy="499.1" r="2.5"/>
<circle cx="605.7" cy="297.4" r="2.5"/>
<circle cx="565.7" cy="448.4" r="2.5"/>
<circle cx="586.2" cy="352.2" r="2.5"/>
<circle cx="591.9" cy="322.3" r="2.5"/>
<circle cx="603.6" cy="270.5" r="2.5"/>
<circle cx="584.2" cy="389.9" r="2.5"/>
<circle cx="572.8" cy="397.3" r="2.5"/>
<circle cx="582.7" cy="391.2" r="2.5"/>
<circle cx="546.8" cy="528.9" r="2.5"/>
<circle cx="571.8" cy="435.6" r="2.5"/>
<circle cx="561.5" cy="456.9" r="2.5"/>
<circle cx="560.9" cy="469.3" r="2.5"/>
<circle cx="598.9" cy="357" r="2.5"/>
<circle cx="576" cy="397.8" r="2.5"/>
<circle cx="635.2" cy="235.2" r="2.5"/>
<circle cx="607.6" cy="244.3" r="2.5"/>
<circle cx="543" cy="531.8" r="2.5"/>
<circle cx="595.3" cy="360.8" r="2.5"/>
<circle cx="559.5" cy="456.6" r="2.5"/>
<circle cx="609.5" cy="323.9" r="2.5"/>
<circle cx="587.3" cy="357.8" r="2.5"/>
<circle cx="611.3" cy="291.9" r="2.5"/>
<circle cx="593" cy="344.8" r="2.5"/>
<circle cx="596.9" cy="306.4" r="2.5"/>
<circle cx="583.2" cy="396.7" r="2.5"/>
<circle cx="559" cy="472.3" r="2.5"/>
<circle cx="569.7" cy="444.2" r="2.5"/>
<circle cx="568.6" cy="413.1" r="2.5"/>
<circle cx="555.6" cy="457.6" r="2.5"/>
<circle cx="624.9" cy="232" r="2.5"/>
<circle cx="582" cy="385.6" r="2.5"/>
<circle cx="615.1" cy="260.8" r="2.5"/>
<circle cx="581.1" cy="400.1" r="2.5"/>
<circle cx="628.6" cy="230.2" r="2.5"/>
<circle cx="554.5" cy="473.6" r="2.5"/>
<circle cx="590.6" cy="320.2" r="2.5"/>
<circle cx="554.3" cy="484.7" r="2.5"/>
<circle cx="595.9" cy="333.6" r="2.5"/>
<circle cx="622.1" cy="236" r="2.5"/>
<circle cx="549.6" cy="510.6" r="2.5"/>
<circle cx="558.1" cy="445.6" r="2.5"/>
<circle cx="597.1" cy="350.4" r="2.5"/>
<circle cx="580.8" cy="387.1" r="2.5"/>
<circle cx="555.4" cy="488" r="2.5"/>
<circle cx="625" cy="272.7" r="2.5"/>
<circle cx="590.2" cy="366.8" r="2.5"/>
<circle cx="612" cy="261" r="2.5"/>
<circle cx="591" cy="344.1" r="2.5"/>
<circle cx="563.1" cy="469.6" r="2.5"/>
<circle cx="575.6" cy="412.3" r="2.5"/>
<circle cx="625.5" cy="253.4" r="2.5"/>
<circle cx="554.6" cy="489.4" r="2.5"/>
<circle cx="583.5" cy="411" r="2.5"/>
<circle cx="620.1" cy="320.1" r="2.5"/>
<circle cx="608.3" cy="284.7" r="2.5"/>
<circle cx="605.6" cy="300.7" r="2.5"/>
<circle cx="552.2" cy="497" r="2.5"/>
<circle cx="628.7" cy="193.4" r="2.5"/>
<circle cx="594.3" cy="385.3" r="2.5"/>
<circle cx="596.6" cy="370.2" r="2.5"/>
<circle cx="578.5" cy="371.5" r="2.5"/>
<circle cx="576.7" cy="391.1" r="2.5"/>
<circle cx="567.1" cy="453.7" r="2.5"/>
<circle cx="579.6" cy="399.2" r="2.5"/>
<circle cx="628.5" cy="258.5" r="2.5"/>
<circle cx="554.1" cy="487.4" r="2.5"/>
<circle cx="610.2" cy="325.7" r="2.5"/>
<circle cx="585.2" cy="342.5" r="2.5"/>
<circle cx="607" cy="309.2" r="2.5"/>
<circle cx="624" cy="224" r="2.5"/>
<circle cx="569.7" cy="433.1" r="2.5"/>
<circle cx="595.2" cy="356.2" r="2.5"/>
<circle cx="596" cy="328.4" r="2.5"/>
<circle cx="613.3" cy="266.3" r="2.5"/>
<circle cx="607.1" cy="283.8" r="2.5"/>
<circle cx="572.9" cy="443.2" r="2.5"/>
<circle cx="551.9" cy="488.7" r="2.5"/>
<circle cx="578.8" cy="394.5" r="2.5"/>
<circle cx="551.1" cy="508.8" r="2.5"/>
<circle cx="603.6" cy="276.7" r="2.5"/>
<circle cx="570.6" cy="404.9" r="2.5"/>
<circle cx="579.7" cy="401.6" r="2.5"/>
<circle cx="559.8" cy="447.2" r="2.5"/>
<circle cx="602.5" cy="241.4" r="2.5"/>
<circle cx="593.8" cy="346.7" r="2.5"/>
<circle cx="575.2" cy="406.4" r="2.5"/>
<circle cx="606.7" cy="319.1" r="2.5"/>
<circle cx="579.8" cy="378.6" r="2.5"/>
<circle cx="606.2" cy="320.7" r="2.5"/>
<circle cx="613.6" cy="258.8" r="2.5"/>
<circle cx="574.9" cy="393.9" r="2.5"/>
<circle cx="606.3" cy="327.6" r="2.5"/>
<circle cx="606.1" cy="330.5" r="2.5"/>
<circle cx="606" cy="274.6" r="2.5"/>
<circle cx="597.6" cy="320.6" r="2.5"/>
<circle cx="587.3" cy="368.5" r="2.5"/>
<circle cx="573.3" cy="426.1" r="2.5"/>
<circle cx="592.6" cy="346.2" r="2.5"/>
<circle cx="561" cy="460.5" r="2.5"/>
<circle cx="612.6" cy="315.5" r="2.5"/>
<circle cx="589.7" cy="366.2" r="2.5"/>
<circle cx="589.8" cy="324.5" r="2.5"/>
<circle cx="569.8" cy="415.6" r="2.5"/>
<circle cx="565.6" cy="439.6" r="2.5"/>
<circle cx="568.4" cy="449.2" r="2.5"/>
<circle cx="621.6" cy="276.9" r="2.5"/>
<circle cx="576.6" cy="390" r="2.5"/>
<circle cx="587.5" cy="390.9" r="2.5"/>
<circle cx="546.6" cy="523.9" r="2.5"/>
<circle cx="590.1" cy="376.2" r="2.5"/>
<circle cx="624.5" cy="255.1" r="2.5"/>
<circle cx="576.6" cy="391.9" r="2.5"/>
<circle cx="581.3" cy="369.5" r="2.5"/>
<circle cx="556.4" cy="493.1" r="2.5"/>
<circle cx="559.2" cy="464.7" r="2.5"/>
<circle cx="604.9" cy="319.7" r="2.5"/>
<circle cx="586.3" cy="389.1" r="2.5"/>
<circle cx="595.6" cy="334.7" r="2.5"/>
<circle cx="625.7" cy="262.9" r="2.5"/>
<circle cx="609.6" cy="314.7" r="2.5"/>
<circle cx="545.2" cy="533.2" r="2.5"/>
<circle cx="564.7" cy="455.2" r="2.5"/>
<circle cx="560.4" cy="468.1" r="2.5"/>
<circle cx="565.9" cy="448.9" r="2.5"/>
<circle cx="539.4" cy="548.6" r="2.5"/>
<circle cx="540.6" cy="546.2" r="2.5"/>
<circle cx="566.6" cy="434.7" r="2.5"/>
<circle cx="572.9" cy="422.3" r="2.5"/>
<circle cx="603" cy="327.3" r="2.5"/>
<circle cx="579.8" cy="399" r="2.5"/>
<circle cx="610.4" cy="250.1" r="2.5"/>
<circle cx="546.1" cy="527" r="2.5"/>
<circle cx="555.2" cy="489.9" r="2.5"/>
<circle cx="587.8" cy="350" r="2.5"/>
<circle cx="580.1" cy="394.6" r="2.5"/>
<circle cx="568.5" cy="455.7" r="2.5"/>
<circle cx="603.8" cy="305.8" r="2.5"/>
<circle cx="611.6" cy="278.6" r="2.5"/>
<circle cx="624" cy="259.7" r="2.5"/>
<circle cx="581.3" cy="405.4" r="2.5"/>
<circle cx="585.8" cy="372.1" r="2.5"/>
<circle cx="584.1" cy="352" r="2.5"/>
<circle cx="585.7" cy="366.6" r="2.5"/>
<circle cx="602.8" cy="284.5" r="2.5"/>
<circle cx="581.6" cy="413.3" r="2.5"/>
<circle cx="599.2" cy="339.9" r="2.5"/>
<circle cx="537" cy="559.9" r="2.5"/>
<circle cx="589.1" cy="307.1" r="2.5"/>
<circle cx="620.7" cy="231.7" r="2.5"/>
<circle cx="592.5" cy="373.7" r="2.5"/>
<circle cx="615.1" cy="283" r="2.5"/>
<circle cx="548.3" cy="513.2" r="2.5"/>
<circle cx="563.8" cy="399.9" r="2.5"/>
<circle cx="551.1" cy="502.9" r="2.5"/>
<circle cx="590.2" cy="344.3" r="2.5"/>
<circle cx="605.9" cy="326.9" r="2.5"/>
<circle cx="554.6" cy="488.3" r="2.5"/>
<circle cx="568.1" cy="443.6" r="2.5"/>
<circle cx="577.3" cy="421.3" r="2.5"/>
<circle cx="638.8" cy="164.9" r="2.5"/>
<circle cx="578.2" cy="377.7" r="2.5"/>
<circle cx="584.7" cy="361.2" r="2.5"/>
<circle cx="598.1" cy="340.7" r="2.5"/>
<circle cx="605.8" cy="346" r="2.5"/>
<circle cx="584.8" cy="391.8" r="2.5"/>
<circle cx="554.6" cy="484.9" r="2.5"/>
<circle cx="578.7" cy="429.3" r="2.5"/>
<circle cx="622.7" cy="232.1" r="2.5"/>
<circle cx="595.5" cy="349.6" r="2.5"/>
<circle cx="576.9" cy="403.1" r="2.5"/>
<circle cx="557.6" cy="486.8" r="2.5"/>
<circle cx="581.4" cy="376.2" r="2.5"/>
<circle cx="587.7" cy="368.7" r="2.5"/>
<circle cx="574.9" cy="427.1" r="2.5"/>
<circle cx="607.2" cy="295.4" r="2.5"/>
<circle cx="573.4" cy="421.6" r="2.5"/>
<circle cx="584.1" cy="385.8" r="2.5"/>
<circle cx="595.8" cy="299.5" r="2.5"/>
<circle cx="593.7" cy="352.3" r="2.5"/>
<circle cx="605.2" cy="275.7" r="2.5"/>
<circle cx="578.8" cy="390.9" r="2.5"/>
<circle cx="574" cy="408.3" r="2.5"/>
<circle cx="595.2" cy="331.5" r="2.5"/>
<circle cx="596.2" cy="353.1" r="2.5"/>
<circle cx="610.1" cy="270.3" r="2.5"/>
<circle cx="601" cy="336.7" r="2.5"/>
<circle cx="585.4" cy="373.6" r="2.5"/>
<circle cx="594" cy="333" r="2.5"/>
<circle cx="598.4" cy="315.5" r="2.5"/>
<circle cx="560.9" cy="466.9" r="2.5"/>
<circle cx="584.3" cy="383.5" r="2.5"/>
<circle cx="574.8" cy="399.8" r="2.5"/>
<circle cx="616.9" cy="269" r="2.5"/>
<circle cx="573.7" cy="412.6" r="2.5"/>
<circle cx="611.7" cy="280.6" r="2.5"/>
<circle cx="557" cy="479.1" r="2.5"/>
<circle cx="584.1" cy="376" r="2.5"/>
<circle cx="604.5" cy="280.3" r="2.5"/>
<circle cx="589" cy="393.5" r="2.5"/>
<circle cx="621.5" cy="273" r="2.5"/>
<circle cx="540.6" cy="544.1" r="2.5"/>
<circle cx="584.2" cy="369" r="2.5"/>
<circle cx="587.6" cy="357.5" r="2.5"/>
<circle cx="590.4" cy="382" r="2.5"/>
<circle cx="550.1" cy="499.9" r="2.5"/>
<circle cx="609.1" cy="314.5" r="2.5"/>
<circle cx="605.6" cy="290.4" r="2.5"/>
<circle cx="590.7" cy="346.4" r="2.5"/>
<circle cx="600.5" cy="287.1" r="2.5"/>
<circle cx="583.6" cy="392.9" r="2.5"/>
<circle cx="564.6" cy="466" r="2.5"/>
<circle cx="577.1" cy="415.3" r="2.5"/>
<circle cx="573" cy="410.8" r="2.5"/>
<circle cx="587.4" cy="320.2" r="2.5"/>
<circle cx="577.5" cy="397.8" r="2.5"/>
<circle cx="599.4" cy="335.9" r="2.5"/>
<circle cx="589" cy="329.9" r="2.5"/>
<circle cx="622.7" cy="250" r="2.5"/>
<circle cx="541.3" cy="540.6" r="2.5"/>
<circle cx="571" cy="405.4" r="2.5"/>
<circle cx="593.4" cy="312.2" r="2.5"/>
<circle cx="612.7" cy="312" r="2.5"/>
<circle cx="572.1" cy="418.4" r="2.5"/>
<circle cx="573.2" cy="393.1" r="2.5"/>
<circle cx="581.1" cy="378.4" r="2.5"/>
<circle cx="576.6" cy="359.2" r="2.5"/>
<circle cx="566.8" cy="418.3" r="2.5"/>
<circle cx="565" cy="425" r="2.5"/>
<circle cx="561.9" cy="465.4" r="2.5"/>
<circle cx="582.8" cy="402.4" r="2.5"/>
<circle cx="613.4" cy="251.8" r="2.5"/>
<circle cx="568.6" cy="450.7" r="2.5"/>
<circle cx="602.5" cy="287.7" r="2.5"/>
<circle cx="646" cy="204.4" r="2.5"/>
<circle cx="595.7" cy="352.2" r="2.5"/>
<circle cx="647.9" cy="168.4" r="2.5"/>
<circle cx="581.6" cy="381.2" r="2.5"/>
<circle cx="602.1" cy="227" r="2.5"/>
<circle cx="585.7" cy="372.9" r="2.5"/>
<circle cx="557.6" cy="472.1" r="2.5"/>
<circle cx="595.9" cy="339.1" r="2.5"/>
<circle cx="638.4" cy="207.8" r="2.5"/>
<circle cx="574.5" cy="418.6" r="2.5"/>
<circle cx="596.3" cy="327.4" r="2.5"/>
<circle cx="565.9" cy="453.1" r="2.5"/>
<circle cx="566.4" cy="443.5" r="2.5"/>
<circle cx="592.7" cy="329.2" r="2.5"/>
<circle cx="585.9" cy="383.6" r="2.5"/>
<circle cx="596.9" cy="319.7" r="2.5"/>
<circle cx="611.1" cy="259.3" r="2.5"/>
<circle cx="562.8" cy="468.1" r="2.5"/>
<circle cx="570.1" cy="426.1" r="2.5"/>
<circle cx="588.7" cy="363.6" r="2.5"/>
<circle cx="630.3" cy="169.9" r="2.5"/>
<circle cx="581.3" cy="394.8" r="2.5"/>
<circle cx="585.7" cy="408.2" r="2.5"/>
<circle cx="600.3" cy="329.6" r="2.5"/>
<circle cx="642" cy="187" r="2.5"/>
<circle cx="570.1" cy="416" r="2.5"/>
<circle cx="584.1" cy="392.3" r="2.5"/>
<circle cx="578.9" cy="362.5" r="2.5"/>
<circle cx="596.8" cy="301.5" r="2.5"/>
<circle cx="640.2" cy="179.8" r="2.5"/>
<circle cx="564" cy="471.9" r="2.5"/>
<circle cx="551.1" cy="507.2" r="2.5"/>
<circle cx="587.9" cy="351.9" r="2.5"/>
<circle cx="587.8" cy="319.5" r="2.5"/>
<circle cx="538.3" cy="555.1" r="2.5"/>
<circle cx="565.3" cy="417" r="2.5"/>
<circle cx="596" cy="282.7" r="2.5"/>
<circle cx="574.7" cy="409.3" r="2.5"/>
<circle cx="597.9" cy="323" r="2.5"/>
<circle cx="581.3" cy="349.3" r="2.5"/>
<circle cx="596.3" cy="308.5" r="2.5"/>
<circle cx="598.7" cy="326.9" r="2.5"/>
<circle cx="590.5" cy="341.5" r="2.5"/>
<circle cx="619.1" cy="257.4" r="2.5"/>
<circle cx="577.9" cy="411.3" r="2.5"/>
<circle cx="599.3" cy="352.8" r="2.5"/>
<circle cx="629" cy="266.9" r="2.5"/>
<circle cx="578.4" cy="410.8" r="2.5"/>
<circle cx="579.6" cy="394.5" r="2.5"/>
<circle cx="570" cy="427" r="2.5"/>
<circle cx="575" cy="442.8" r="2.5"/>
<circle cx="636.1" cy="190.2" r="2.5"/>
<circle cx="597.9" cy="322.4" r="2.5"/>
<circle cx="625.1" cy="202.5" r="2.5"/>
<circle cx="618.1" cy="300" r="2.5"/>
<circle cx="593.4" cy="355.8" r="2.5"/>
<circle cx="577.6" cy="386.3" r="2.5"/>
<circle cx="581.2" cy="339.7" r="2.5"/>
<circle cx="582.4" cy="366" r="2.5"/>
<circle cx="607.2" cy="284.5" r="2.5"/>
<circle cx="568.1" cy="436.6" r="2.5"/>
<circle cx="585.1" cy="347.9" r="2.5"/>
<circle cx="596.1" cy="322.8" r="2.5"/>
<circle cx="585.6" cy="381.9" r="2.5"/>
<circle cx="590.2" cy="382.1" r="2.5"/>
<circle cx="606.9" cy="315.4" r="2.5"/>
<circle cx="605.1" cy="314.6" r="2.5"/>
<circle cx="598.6" cy="371.1" r="2.5"/>
<circle cx="588" cy="363.5" r="2.5"/>
<circle cx="579.3" cy="409.8" r="2.5"/>
<circle cx="591.8" cy="315" r="2.5"/>
<circle cx="579.7" cy="372.7" r="2.5"/>
<circle cx="552" cy="496.1" r="2.5"/>
<circle cx="577.2" cy="389.3" r="2.5"/>
<circle cx="591.3" cy="310.6" r="2.5"/>
<circle cx="589.8" cy="339.1" r="2.5"/>
<circle cx="566.9" cy="438.9" r="2.5"/>
<circle cx="595.6" cy="301" r="2.5"/>
<circle cx="608.9" cy="312.2" r="2.5"/>
<circle cx="600.7" cy="312.1" r="2.5"/>
<circle cx="631.5" cy="234.2" r="2.5"/>
<circle cx="579.3" cy="392.6" r="2.5"/>
<circle cx="598.4" cy="313.2" r="2.5"/>
<circle cx="580.9" cy="386.6" r="2.5"/>
<circle cx="610.7" cy="280.9" r="2.5"/>
<circle cx="610.1" cy="266.3" r="2.5"/>
<circle cx="602.2" cy="323.7" r="2.5"/>
<circle cx="603.3" cy="302.1" r="2.5"/>
<circle cx="575.7" cy="434.7" r="2.5"/>
<circle cx="613.1" cy="312.8" r="2.5"/>
<circle cx="558.8" cy="467.3" r="2.5"/>
<circle cx="650.8" cy="182.1" r="2.5"/>
<circle cx="617.5" cy="268.3" r="2.5"/>
<circle cx="552.5" cy="497.1" r="2.5"/>
<circle cx="630" cy="256.7" r="2.5"/>
<circle cx="562.8" cy="440.6" r="2.5"/>
<circle cx="598.4" cy="321.8" r="2.5"/>
<circle cx="557.6" cy="478.9" r="2.5"/>
<circle cx="593.5" cy="362.5" r="2.5"/>
<circle cx="568.9" cy="423.8" r="2.5"/>
<circle cx="601.2" cy="318" r="2.5"/>
<circle cx="580" cy="397.6" r="2.5"/>
<circle cx="616.9" cy="242.7" r="2.5"/>
<circle cx="572.3" cy="434" r="2.5"/>
<circle cx="625.6" cy="260.5" r="2.5"/>
<circle cx="583.1" cy="371" r="2.5"/>
<circle cx="607.2" cy="325.3" r="2.5"/>
<circle cx="549.7" cy="505.5" r="2.5"/>
<circle cx="547.3" cy="519.2" r="2.5"/>
<circle cx="615.7" cy="280.4" r="2.5"/>
<circle cx="558.5" cy="474.7" r="2.5"/>
<circle cx="583.7" cy="399.1" r="2.5"/>
<circle cx="574.3" cy="397.5" r="2.5"/>
<circle cx="565.6" cy="447.1" r="2.5"/>
<circle cx="586.7" cy="353.1" r="2.5"/>
<circle cx="558.5" cy="490.6" r="2.5"/>
<circle cx="563.6" cy="471.8" r="2.5"/>
<circle cx="606.6" cy="291.9" r="2.5"/>
<circle cx="569.5" cy="439.1" r="2.5"/>
<circle cx="610.9" cy="307.4" r="2.5"/>
<circle cx="600" cy="314.2" r="2.5"/>
<circle cx="604.3" cy="241.5" r="2.5"/>
<circle cx="592.3" cy="332" r="2.5"/>
<circle cx="544.9" cy="527" r="2.5"/>
<circle cx="567.8" cy="426.2" r="2.5"/>
<circle cx="574.5" cy="406" r="2.5"/>
<circle cx="614" cy="266.3" r="2.5"/>
<circle cx="591.4" cy="341.6" r="2.5"/>
<circle cx="577.7" cy="412.6" r="2.5"/>
<circle cx="602.2" cy="334" r="2.5"/>
<circle cx="572.4" cy="401.6" r="2.5"/>
<circle cx="590.7" cy="324.4" r="2.5"/>
<circle cx="594.3" cy="358.2" r="2.5"/>
<circle cx="617" cy="276.7" r="2.5"/>
<circle cx="601.1" cy="342.7" r="2.5"/>
<circle cx="605.2" cy="286.4" r="2.5"/>
<circle cx="590.1" cy="372.2" r="2.5"/>
<circle cx="609.8" cy="310.6" r="2.5"/>
<circle cx="583.5" cy="384.2" r="2.5"/>
<circle cx="602.1" cy="316.4" r="2.5"/>
<circle cx="597" cy="352.2" r="2.5"/>
<circle cx="572.2" cy="381.8" r="2.5"/>
<circle cx="578.2" cy="407" r="2.5"/>
<circle cx="581.2" cy="394.6" r="2.5"/>
<circle cx="602.7" cy="330.9" r="2.5"/>
<circle cx="535.5" cy="566.7" r="2.5"/>
<circle cx="615.4" cy="265.5" r="2.5"/>
<circle cx="578.7" cy="387.5" r="2.5"/>
<circle cx="574.7" cy="399.4" r="2.5"/>
<circle cx="610.9" cy="308.2" r="2.5"/>
<circle cx="583.9" cy="351.2" r="2.5"/>
<circle cx="581.1" cy="375" r="2.5"/>
<circle cx="585.1" cy="364.1" r="2.5"/>
<circle cx="613.4" cy="290.6" r="2.5"/>
<circle cx="632" cy="171.7" r="2.5"/>
<circle cx="591.6" cy="339.1" r="2.5"/>
<circle cx="540.2" cy="546.9" r="2.5"/>
<circle cx="578.7" cy="407" r="2.5"/>
<circle cx="594.9" cy="335.5" r="2.5"/>
<circle cx="572.9" cy="436.5" r="2.5"/>
<circle cx="575.8" cy="403" r="2.5"/>
<circle cx="601.7" cy="323.6" r="2.5"/>
<circle cx="598.3" cy="343.7" r="2.5"/>
<circle cx="554.4" cy="484.2" r="2.5"/>
<circle cx="610.9" cy="290.5" r="2.5"/>
<circle cx="555.7" cy="483.5" r="2.5"/>
<circle cx="577.7" cy="394" r="2.5"/>
<circle cx="615.8" cy="258.3" r="2.5"/>
<circle cx="558.3" cy="483.7" r="2.5"/>
<circle cx="571.8" cy="400.6" r="2.5"/>
<circle cx="626.3" cy="228.9" r="2.5"/>
<circle cx="589.6" cy="393.5" r="2.5"/>
<circle cx="557.5" cy="460.7" r="2.5"/>
<circle cx="573.9" cy="420.9" r="2.5"/>
<circle cx="620.9" cy="300" r="2.5"/>
<circle cx="550.9" cy="505.1" r="2.5"/>
<circle cx="581.6" cy="425.3" r="2.5"/>
<circle cx="552.8" cy="495.7" r="2.5"/>
<circle cx="561.4" cy="470.1" r="2.5"/>
<circle cx="615.8" cy="261.5" r="2.5"/>
<circle cx="580.4" cy="378.5" r="2.5"/>
<circle cx="579.7" cy="408.8" r="2.5"/>
<circle cx="599.2" cy="335" r="2.5"/>
<circle cx="564.4" cy="432.3" r="2.5"/>
<circle cx="559.4" cy="474.1" r="2.5"/>
<circle cx="620.1" cy="273.5" r="2.5"/>
<circle cx="614.8" cy="296.4" r="2.5"/>
<circle cx="570.1" cy="443.6" r="2.5"/>
<circle cx="608.4" cy="311.2" r="2.5"/>
<circle cx="635.2" cy="246.8" r="2.5"/>
<circle cx="590.5" cy="329.4" r="2.5"/>
<circle cx="592" cy="328.6" r="2.5"/>
<circle cx="558.4" cy="477.4" r="2.5"/>
<circle cx="587.8" cy="382.8" r="2.5"/>
<circle cx="544.7" cy="531.2" r="2.5"/>
<circle cx="607.3" cy="276.2" r="2.5"/>
<circle cx="583.7" cy="386.2" r="2.5"/>
<circle cx="625.2" cy="258.2" r="2.5"/>
<circle cx="567.5" cy="437.6" r="2.5"/>
<circle cx="609.3" cy="296.5" r="2.5"/>
<circle cx="550.7" cy="507.2" r="2.5"/>
<circle cx="576" cy="406.2" r="2.5"/>
<circle cx="612.4" cy="324.7" r="2.5"/>
<circle cx="594.3" cy="341" r="2.5"/>
<circle cx="581.4" cy="376.5" r="2.5"/>
<circle cx="550.3" cy="512.6" r="2.5"/>
<circle cx="613.2" cy="258" r="2.5"/>
<circle cx="610.6" cy="314.8" r="2.5"/>
<circle cx="608.5" cy="273.7" r="2.5"/>
<circle cx="619.7" cy="274.8" r="2.5"/>
<circle cx="576.9" cy="403.7" r="2.5"/>
<circle cx="593" cy="337.8" r="2.5"/>
<circle cx="560.4" cy="443.4" r="2.5"/>
<circle cx="583.9" cy="336.5" r="2.5"/>
<circle cx="576.8" cy="419.6" r="2.5"/>
<circle cx="648" cy="221.1" r="2.5"/>
<circle cx="582.6" cy="356.5" r="2.5"/>
<circle cx="560.2" cy="460.9" r="2.5"/>
<circle cx="575.4" cy="423.5" r="2.5"/>
<circle cx="553.5" cy="492.6" r="2.5"/>
<circle cx="535.2" cy="567.7" r="2.5"/>
<circle cx="562.9" cy="434.2" r="2.5"/>
<circle cx="561.1" cy="469" r="2.5"/>
<circle cx="584.7" cy="358.7" r="2.5"/>
<circle cx="570.1" cy="442.8" r="2.5"/>
<circle cx="590.3" cy="352.2" r="2.5"/>
<circle cx="634.4" cy="218.8" r="2.5"/>
<circle cx="559.2" cy="473.1" r="2.5"/>
<circle cx="556" cy="476.1" r="2.5"/>
<circle cx="621.6" cy="286.8" r="2.5"/>
<circle cx="644.6" cy="169.2" r="2.5"/>
<circle cx="567.9" cy="447" r="2.5"/>
<circle cx="550.3" cy="517.4" r="2.5"/>
<circle cx="581.4" cy="396.7" r="2.5"/>
<circle cx="571.3" cy="406.6" r="2.5"/>
<circle cx="588.3" cy="310.3" r="2.5"/>
<circle cx="557.5" cy="463.3" r="2.5"/>
<circle cx="582.5" cy="394.3" r="2.5"/>
<circle cx="572.7" cy="398.5" r="2.5"/>
<circle cx="549.2" cy="507.9" r="2.5"/>
<circle cx="549.4" cy="507.3" r="2.5"/>
<circle cx="600.9" cy="333.1" r="2.5"/>
<circle cx="598.9" cy="324.5" r="2.5"/>
<circle cx="567" cy="440.4" r="2.5"/>
<circle cx="617.1" cy="236.5" r="2.5"/>
<circle cx="602.9" cy="290.9" r="2.5"/>
<circle cx="586.3" cy="331.6" r="2.5"/>
<circle cx="596.9" cy="318.9" r="2.5"/>
<circle cx="601" cy="341.4" r="2.5"/>
<circle cx="598.6" cy="309.2" r="2.5"/>
<circle cx="603.1" cy="296.9" r="2.5"/>
<circle cx="579.2" cy="365.7" r="2.5"/>
<circle cx="539.8" cy="549.3" r="2.5"/>
<circle cx="576.7" cy="385.8" r="2.5"/>
<circle cx="567" cy="444" r="2.5"/>
<circle cx="561.4" cy="474.8" r="2.5"/>
<circle cx="593.7" cy="320.1" r="2.5"/>
<circle cx="546.5" cy="526.3" r="2.5"/>
<circle cx="605.6" cy="299.9" r="2.5"/>
<circle cx="566.5" cy="427.4" r="2.5"/>
<circle cx="560.2" cy="478.4" r="2.5"/>
<circle cx="559.5" cy="447.5" r="2.5"/>
<circle cx="647.6" cy="169.4" r="2.5"/>
<circle cx="619.4" cy="244.2" r="2.5"/>
<circle cx="577.6" cy="396.6" r="2.5"/>
<circle cx="611.8" cy="279.4" r="2.5"/>
<circle cx="617" cy="217.5" r="2.5"/>
<circle cx="564.5" cy="447.8" r="2.5"/>
<circle cx="574.5" cy="397" r="2.5"/>
<circle cx="614.8" cy="292.2" r="2.5"/>
<circle cx="601.6" cy="337.2" r="2.5"/>
<circle cx="573.5" cy="404.4" r="2.5"/>
<circle cx="630.8" cy="230.6" r="2.5"/>
<circle cx="590.9" cy="327.8" r="2.5"/>
<circle cx="600.5" cy="303.2" r="2.5"/>
<circle cx="647.2" cy="164" r="2.5"/>
<circle cx="603.9" cy="329.4" r="2.5"/>
<circle cx="589.7" cy="345.3" r="2.5"/>
<circle cx="572.9" cy="385.9" r="2.5"/>
<circle cx="591.5" cy="360.7" r="2.5"/>
<circle cx="606.7" cy="295.9" r="2.5"/>
<circle cx="599.3" cy="314.8" r="2.5"/>
<circle cx="590.4" cy="339.5" r="2.5"/>
<circle cx="551.2" cy="501.3" r="2.5"/>
<circle cx="561.6" cy="466.8" r="2.5"/>
<circle cx="581.1" cy="395.2" r="2.5"/>
<circle cx="600.9" cy="308.6" r="2.5"/>
<circle cx="617.2" cy="246.1" r="2.5"/>
<circle cx="583.5" cy="385.2" r="2.5"/>
<circle cx="571.5" cy="412.3" r="2.5"/>
<circle cx="576.6" cy="381.9" r="2.5"/>
<circle cx="583.4" cy="354.1" r="2.5"/>
<circle cx="563.5" cy="446.9" r="2.5"/>
<circle cx="557.9" cy="487.9" r="2.5"/>
<circle cx="615.8" cy="284.3" r="2.5"/>
<circle cx="598.1" cy="307" r="2.5"/>
<circle cx="578.9" cy="409" r="2.5"/>
<circle cx="589.1" cy="383.2" r="2.5"/>
<circle cx="573.6" cy="433" r="2.5"/>
<circle cx="551.8" cy="495.5" r="2.5"/>
<circle cx="604.6" cy="316.2" r="2.5"/>
<circle cx="562" cy="430.9" r="2.5"/>
<circle cx="558.1" cy="470.4" r="2.5"/>
<circle cx="573.3" cy="425.3" r="2.5"/>
<circle cx="634.5" cy="230" r="2.5"/>
<circle cx="595.6" cy="334.2" r="2.5"/>
<circle cx="587.1" cy="352.3" r="2.5"/>
<circle cx="590.3" cy="364.9" r="2.5"/>
<circle cx="586.8" cy="297.7" r="2.5"/>
<circle cx="595.7" cy="309" r="2.5"/>
<circle cx="555.9" cy="486.6" r="2.5"/>
<circle cx="579.9" cy="393.8" r="2.5"/>
<circle cx="562.2" cy="429.6" r="2.5"/>
<circle cx="586.9" cy="354.4" r="2.5"/>
<circle cx="589.7" cy="378.6" r="2.5"/>
<circle cx="539.3" cy="547.4" r="2.5"/>
<circle cx="608.1" cy="273.1" r="2.5"/>
<circle cx="595" cy="350.6" r="2.5"/>
<circle cx="544" cy="524.6" r="2.5"/>
<circle cx="623.3" cy="274" r="2.5"/>
<circle cx="587.2" cy="363" r="2.5"/>
<circle cx="594.1" cy="332.7" r="2.5"/>
<circle cx="590.4" cy="371.4" r="2.5"/>
<circle cx="594.5" cy="360" r="2.5"/>
<circle cx="575.9" cy="418.3" r="2.5"/>
<circle cx="546.3" cy="519.4" r="2.5"/>
<circle cx="578" cy="428.5" r="2.5"/>
<circle cx="585.8" cy="359.1" r="2.5"/>
<circle cx="586.1" cy="371.6" r="2.5"/>
<circle cx="597.6" cy="318.4" r="2.5"/>
<circle cx="582.8" cy="383.5" r="2.5"/>
<circle cx="601.7" cy="311.8" r="2.5"/>
<circle cx="568.8" cy="446.2" r="2.5"/>
<circle cx="553.2" cy="492.8" r="2.5"/>
<circle cx="581.9" cy="404.1" r="2.5"/>
<circle cx="551.1" cy="495" r="2.5"/>
<circle cx="588.9" cy="345.3" r="2.5"/>
<circle cx="566.3" cy="457.1" r="2.5"/>
<circle cx="626.2" cy="208.2" r="2.5"/>
<circle cx="572.7" cy="398.7" r="2.5"/>
<circle cx="568.2" cy="425.5" r="2.5"/>
<circle cx="567.6" cy="434.1" r="2.5"/>
<circle cx="535.8" cy="565" r="2.5"/>
<circle cx="562.4" cy="453" r="2.5"/>
<circle cx="563.4" cy="443.4" r="2.5"/>
<circle cx="572.6" cy="406.3" r="2.5"/>
<circle cx="580.2" cy="374" r="2.5"/>
<circle cx="622.5" cy="265.6" r="2.5"/>
<circle cx="579.3" cy="414.5" r="2.5"/>
<circle cx="584.5" cy="381.8" r="2.5"/>
<circle cx="599.8" cy="340" r="2.5"/>
<circle cx="565.7" cy="446.4" r="2.5"/>
<circle cx="577.9" cy="414.8" r="2.5"/>
<circle cx="606.9" cy="293.7" r="2.5"/>
<circle cx="585.2" cy="359.8" r="2.5"/>
<circle cx="558.2" cy="482.7" r="2.5"/>
<circle cx="544.3" cy="530.8" r="2.5"/>
<circle cx="652" cy="177.1" r="2.5"/>
<circle cx="590.4" cy="336.7" r="2.5"/>
<circle cx="549.3" cy="512.9" r="2.5"/>
<circle cx="587" cy="361.5" r="2.5"/>
<circle cx="589.9" cy="315.9" r="2.5"/>
<circle cx="573.7" cy="364.2" r="2.5"/>
<circle cx="542.4" cy="537.2" r="2.5"/>
<circle cx="624.1" cy="216.8" r="2.5"/>
<circle cx="596" cy="321.8" r="2.5"/>
<circle cx="581.6" cy="390.7" r="2.5"/>
<circle cx="604.4" cy="314.2" r="2.5"/>
<circle cx="578.7" cy="392.8" r="2.5"/>
<circle cx="584.1" cy="402.2" r="2.5"/>
<circle cx="612.2" cy="295.6" r="2.5"/>
<circle cx="540.9" cy="544.8" r="2.5"/>
<circle cx="594.4" cy="285.7" r="2.5"/>
<circle cx="597.7" cy="337.9" r="2.5"/>
<circle cx="592.7" cy="306.3" r="2.5"/>
<circle cx="602.8" cy="292.8" r="2.5"/>
<circle cx="622.9" cy="236.7" r="2.5"/>
<circle cx="639.5" cy="246.4" r="2.5"/>
<circle cx="609.2" cy="294.6" r="2.5"/>
<circle cx="573.7" cy="404.7" r="2.5"/>
<circle cx="609.6" cy="311" r="2.5"/>
<circle cx="574.3" cy="412.2" r="2.5"/>
<circle cx="567.6" cy="453.4" r="2.5"/>
<circle cx="600" cy="330.6" r="2.5"/>
<circle cx="591.5" cy="338.9" r="2.5"/>
<circle cx="610.5" cy="266.4" r="2.5"/>
<circle cx="538" cy="555.5" r="2.5"/>
<circle cx="604.7" cy="317.6" r="2.5"/>
<circle cx="601.6" cy="311.1" r="2.5"/>
<circle cx="591.8" cy="359.4" r="2.5"/>
<circle cx="624.2" cy="240.4" r="2.5"/>
<circle cx="565.8" cy="444.7" r="2.5"/>
<circle cx="594.8" cy="339.4" r="2.5"/>
<circle cx="574" cy="400.9" r="2.5"/>
<circle cx="586.4" cy="369.7" r="2.5"/>
<circle cx="567.7" cy="452.5" r="2.5"/>
<circle cx="586.2" cy="380.4" r="2.5"/>
<circle cx="607.4" cy="309.9" r="2.5"/>
<circle cx="599.6" cy="357.8" r="2.5"/>
<circle cx="589" cy="338.2" r="2.5"/>
<circle cx="570.2" cy="434.5" r="2.5"/>
<circle cx="627.4" cy="230.4" r="2.5"/>
<circle cx="569.2" cy="428.4" r="2.5"/>
<circle cx="579.3" cy="366.3" r="2.5"/>
<circle cx="594.9" cy="317" r="2.5"/>
<circle cx="581.7" cy="383.7" r="2.5"/>
<circle cx="600.3" cy="302.2" r="2.5"/>
<circle cx="583.7" cy="351.1" r="2.5"/>
<circle cx="634.6" cy="220.2" r="2.5"/>
<circle cx="597.1" cy="320.1" r="2.5"/>
<circle cx="592.2" cy="333.3" r="2.5"/>
<circle cx="573" cy="437.7" r="2.5"/>
<circle cx="597.9" cy="327.7" r="2.5"/>
<circle cx="610.1" cy="280.9" r="2.5"/>
<circle cx="612.2" cy="331.9" r="2.5"/>
<circle cx="567.8" cy="448.4" r="2.5"/>
<circle cx="574.6" cy="415.3" r="2.5"/>
<circle cx="573.9" cy="388.2" r="2.5"/>
<circle cx="585.4" cy="366.5" r="2.5"/>
<circle cx="555.8" cy="488" r="2.5"/>
<circle cx="648.9" cy="206.5" r="2.5"/>
<circle cx="583.8" cy="377.1" r="2.5"/>
<circle cx="589.6" cy="358.7" r="2.5"/>
<circle cx="579.1" cy="406.8" r="2.5"/>
<circle cx="587.9" cy="372.4" r="2.5"/>
<circle cx="635.3" cy="203.2" r="2.5"/>
<circle cx="563.2" cy="450.7" r="2.5"/>
<circle cx="577.9" cy="413.8" r="2.5"/>
<circle cx="565" cy="458.5" r="2.5"/>
<circle cx="574.5" cy="416.7" r="2.5"/>
<circle cx="625.3" cy="237.4" r="2.5"/>
<circle cx="578.3" cy="423.7" r="2.5"/>
<circle cx="569" cy="408.9" r="2.5"/>
<circle cx="544" cy="525.4" r="2.5"/>
<circle cx="581.8" cy="400.7" r="2.5"/>
<circle cx="588.2" cy="350.1" r="2.5"/>
<circle cx="580.7" cy="411.7" r="2.5"/>
<circle cx="572.8" cy="403.9" r="2.5"/>
<circle cx="585.6" cy="300.8" r="2.5"/>
<circle cx="596.7" cy="324.2" r="2.5"/>
<circle cx="578.3" cy="378.5" r="2.5"/>
<circle cx="575.1" cy="436.9" r="2.5"/>
<circle cx="551.5" cy="499.1" r="2.5"/>
<circle cx="628" cy="225" r="2.5"/>
<circle cx="553.6" cy="502.6" r="2.5"/>
<circle cx="604.7" cy="314" r="2.5"/>
<circle cx="585.6" cy="386.5" r="2.5"/>
<circle cx="565.4" cy="432.6" r="2.5"/>
<circle cx="613.2" cy="293.5" r="2.5"/>
<circle cx="571.3" cy="433.1" r="2.5"/>
<circle cx="616.7" cy="261.2" r="2.5"/>
<circle cx="561.5" cy="457.8" r="2.5"/>
<circle cx="603.3" cy="327" r="2.5"/>
<circle cx="608.1" cy="259.8" r="2.5"/>
<circle cx="562.7" cy="452.4" r="2.5"/>
<circle cx="635.1" cy="189.2" r="2.5"/>
<circle cx="605.9" cy="295.8" r="2.5"/>
<circle cx="537.5" cy="559" r="2.5"/>
<circle cx="620.1" cy="250" r="2.5"/>
<circle cx="637.5" cy="205.4" r="2.5"/>
<circle cx="586" cy="391.7" r="2.5"/>
<circle cx="578.7" cy="385.9" r="2.5"/>
<circle cx="590.3" cy="337.4" r="2.5"/>
<circle cx="544.1" cy="532.2" r="2.5"/>
<circle cx="591.2" cy="356" r="2.5"/>
<circle cx="624.8" cy="289.2" r="2.5"/>
<circle cx="579.9" cy="416.5" r="2.5"/>
<circle cx="611.7" cy="273.9" r="2.5"/>
<circle cx="643.5" cy="180" r="2.5"/>
<circle cx="541.5" cy="537.5" r="2.5"/>
<circle cx="544.2" cy="524.5" r="2.5"/>
<circle cx="572.6" cy="430" r="2.5"/>
<circle cx="605.5" cy="315.2" r="2.5"/>
<circle cx="597" cy="336.7" r="2.5"/>
<circle cx="574.1" cy="448.2" r="2.5"/>
<circle cx="563.7" cy="466.9" r="2.5"/>
<circle cx="570.9" cy="432.4" r="2.5"/>
<circle cx="621.5" cy="223.9" r="2.5"/>
<circle cx="563.3" cy="451.4" r="2.5"/>
<circle cx="573.2" cy="419.4" r="2.5"/>
<circle cx="603.4" cy="287.8" r="2.5"/>
<circle cx="574.7" cy="392.7" r="2.5"/>
<circle cx="567.2" cy="454.8" r="2.5"/>
<circle cx="621.9" cy="246.7" r="2.5"/>
<circle cx="584.6" cy="340.8" r="2.5"/>
<circle cx="567.3" cy="428.4" r="2.5"/>
<circle cx="574.7" cy="402.2" r="2.5"/>
<circle cx="610.2" cy="289.3" r="2.5"/>
<circle cx="577" cy="400.4" r="2.5"/>
<circle cx="588.1" cy="346.7" r="2.5"/>
<circle cx="610.7" cy="292.4" r="2.5"/>
<circle cx="590" cy="283.1" r="2.5"/>
<circle cx="546.7" cy="526.3" r="2.5"/>
<circle cx="579.9" cy="410.3" r="2.5"/>
<circle cx="584.2" cy="396.9" r="2.5"/>
<circle cx="584.6" cy="359.3" r="2.5"/>
<circle cx="602.5" cy="301.9" r="2.5"/>
<circle cx="616.2" cy="267.7" r="2.5"/>
<circle cx="574.7" cy="406.6" r="2.5"/>
<circle cx="561" cy="462.5" r="2.5"/>
<circle cx="595.4" cy="350.9" r="2.5"/>
<circle cx="570.3" cy="418.6" r="2.5"/>
<circle cx="631.7" cy="218.9" r="2.5"/>
<circle cx="589.8" cy="336.3" r="2.5"/>
<circle cx="594.1" cy="362.2" r="2.5"/>
<circle cx="615.5" cy="281.5" r="2.5"/>
<circle cx="565.1" cy="423.1" r="2.5"/>
<circle cx="575.7" cy="396.1" r="2.5"/>
<circle cx="582.9" cy="381.7" r="2.5"/>
<circle cx="598.3" cy="310.7" r="2.5"/>
<circle cx="613.4" cy="255" r="2.5"/>
<circle cx="624.6" cy="298.9" r="2.5"/>
<circle cx="616.1" cy="301.6" r="2.5"/>
<circle cx="580.2" cy="385.6" r="2.5"/>
<circle cx="597" cy="334.4" r="2.5"/>
<circle cx="580.4" cy="386.2" r="2.5"/>
<circle cx="612.4" cy="267.3" r="2.5"/>
<circle cx="567.2" cy="420.2" r="2.5"/>
<circle cx="594.6" cy="372.6" r="2.5"/>
<circle cx="596.9" cy="345.8" r="2.5"/>
<circle cx="617.6" cy="299.2" r="2.5"/>
<circle cx="570.8" cy="428.6" r="2.5"/>
<circle cx="595.6" cy="386.1" r="2.5"/>
<circle cx="574.4" cy="436.8" r="2.5"/>
<circle cx="560.4" cy="481.4" r="2.5"/>
<circle cx="600.8" cy="273.4" r="2.5"/>
<circle cx="612.2" cy="327.2" r="2.5"/>
<circle cx="552.5" cy="495" r="2.5"/>
<circle cx="555.8" cy="450.1" r="2.5"/>
<circle cx="608.8" cy="319.1" r="2.5"/>
<circle cx="576" cy="418.7" r="2.5"/>
<circle cx="561.6" cy="456.9" r="2.5"/>
<circle cx="613.6" cy="259.9" r="2.5"/>
<circle cx="576.3" cy="408.5" r="2.5"/>
<circle cx="577" cy="398.8" r="2.5"/>
<circle cx="602.1" cy="318.9" r="2.5"/>
<circle cx="569.4" cy="428.1" r="2.5"/>
<circle cx="592" cy="365.5" r="2.5"/>
<circle cx="614.7" cy="353.6" r="2.5"/>
<circle cx="599.8" cy="303.8" r="2.5"/>
<circle cx="571.7" cy="430.9" r="2.5"/>
<circle cx="618.7" cy="274.9" r="2.5"/>
<circle cx="601.9" cy="338.5" r="2.5"/>
<circle cx="636.7" cy="214.3" r="2.5"/>
<circle cx="594.4" cy="348.8" r="2.5"/>
<circle cx="577.3" cy="413.5" r="2.5"/>
<circle cx="574.8" cy="413.7" r="2.5"/>
<circle cx="557.5" cy="464.9" r="2.5"/>
<circle cx="590.3" cy="368.7" r="2.5"/>
<circle cx="586.8" cy="374" r="2.5"/>
<circle cx="610.4" cy="292" r="2.5"/>
<circle cx="590.1" cy="361.5" r="2.5"/>
<circle cx="563.8" cy="441" r="2.5"/>
<circle cx="615.5" cy="281.2" r="2.5"/>
<circle cx="577.1" cy="405.9" r="2.5"/>
<circle cx="601.7" cy="346.2" r="2.5"/>
<circle cx="619.9" cy="244.4" r="2.5"/>
<circle cx="604.9" cy="260.4" r="2.5"/>
<circle cx="567.6" cy="432" r="2.5"/>
<circle cx="586.7" cy="379.4" r="2.5"/>
<circle cx="611.1" cy="254.8" r="2.5"/>
<circle cx="616.1" cy="285.4" r="2.5"/>
<circle cx="600" cy="323.4" r="2.5"/>
<circle cx="610" cy="294" r="2.5"/>
<circle cx="538.5" cy="555" r="2.5"/>
<circle cx="578.5" cy="395.6" r="2.5"/>
<circle cx="555.1" cy="493.7" r="2.5"/>
<circle cx="578.3" cy="425.4" r="2.5"/>
<circle cx="578.2" cy="403.9" r="2.5"/>
<circle cx="591.9" cy="330.8" r="2.5"/>
<circle cx="612.7" cy="271.1" r="2.5"/>
<circle cx="613.9" cy="304.6" r="2.5"/>
<circle cx="600.4" cy="348.8" r="2.5"/>
<circle cx="574.4" cy="403" r="2.5"/>
<circle cx="620.9" cy="263.2" r="2.5"/>
<circle cx="599.8" cy="350.4" r="2.5"/>
<circle cx="546.3" cy="525.1" r="2.5"/>
<circle cx="587.3" cy="379.3" r="2.5"/>
<circle cx="590.8" cy="331.2" r="2.5"/>
<circle cx="564.3" cy="456.8" r="2.5"/>
<circle cx="583.4" cy="355.6" r="2.5"/>
<circle cx="636.6" cy="244.9" r="2.5"/>
<circle cx="581.9" cy="396.9" r="2.5"/>
<circle cx="584.1" cy="379.8" r="2.5"/>
<circle cx="583.9" cy="379.1" r="2.5"/>
<circle cx="563.3" cy="459.3" r="2.5"/>
<circle cx="572.2" cy="416.7" r="2.5"/>
<circle cx="562.6" cy="462.7" r="2.5"/>
<circle cx="580.5" cy="401.6" r="2.5"/>
<circle cx="563" cy="445.8" r="2.5"/>
<circle cx="611.5" cy="294.4" r="2.5"/>
<circle cx="574.8" cy="387" r="2.5"/>
<circle cx="602.3" cy="304.3" r="2.5"/>
<circle cx="556.6" cy="485.7" r="2.5"/>
<circle cx="584.5" cy="379.2" r="2.5"/>
<circle cx="596.3" cy="328" r="2.5"/>
<circle cx="591.4" cy="317.9" r="2.5"/>
<circle cx="576.5" cy="430.9" r="2.5"/>
<circle cx="574.2" cy="386.6" r="2.5"/>
<circle cx="592" cy="368.3" r="2.5"/>
<circle cx="572.1" cy="407.3" r="2.5"/>
<circle cx="568.5" cy="413.6" r="2.5"/>
<circle cx="598.1" cy="332.7" r="2.5"/>
<circle cx="558.5" cy="479.7" r="2.5"/>
<circle cx="543.7" cy="533.7" r="2.5"/>
<circle cx="577.2" cy="419.7" r="2.5"/>
<circle cx="590.1" cy="353" r="2.5"/>
<circle cx="614.9" cy="261.1" r="2.5"/>
<circle cx="586.2" cy="369.1" r="2.5"/>
<circle cx="594.8" cy="327.3" r="2.5"/>
<circle cx="564.3" cy="449.3" r="2.5"/>
<circle cx="578.9" cy="380.7" r="2.5"/>
<circle cx="624.7" cy="220.2" r="2.5"/>
<circle cx="627.6" cy="216.6" r="2.5"/>
<circle cx="600.9" cy="322.8" r="2.5"/>
<circle cx="571.1" cy="400.4" r="2.5"/>
<circle cx="584.5" cy="385.9" r="2.5"/>
<circle cx="627" cy="262.9" r="2.5"/>
<circle cx="569.3" cy="437.8" r="2.5"/>
<circle cx="557.6" cy="456.8" r="2.5"/>
<circle cx="585" cy="388.5" r="2.5"/>
<circle cx="610.7" cy="298.7" r="2.5"/>
<circle cx="565.1" cy="469.3" r="2.5"/>
<circle cx="587.5" cy="346.6" r="2.5"/>
<circle cx="597.3" cy="345.3" r="2.5"/>
<circle cx="591.6" cy="366.1" r="2.5"/>
<circle cx="574.7" cy="390.9" r="2.5"/>
<circle cx="601.3" cy="297.9" r="2.5"/>
<circle cx="595.5" cy="328.3" r="2.5"/>
<circle cx="551.3" cy="503.8" r="2.5"/>
<circle cx="629.5" cy="240.1" r="2.5"/>
<circle cx="599" cy="339.3" r="2.5"/>
<circle cx="586.2" cy="351.7" r="2.5"/>
<circle cx="572.7" cy="409.9" r="2.5"/>
<circle cx="575.4" cy="404.7" r="2.5"/>
<circle cx="585.5" cy="400.1" r="2.5"/>
<circle cx="589" cy="329.3" r="2.5"/>
<circle cx="586.9" cy="327.5" r="2.5"/>
<circle cx="570.4" cy="439.2" r="2.5"/>
<circle cx="555.2" cy="478.5" r="2.5"/>
<circle cx="576.6" cy="408.1" r="2.5"/>
<circle cx="604.1" cy="270.9" r="2.5"/>
<circle cx="547.7" cy="520.7" r="2.5"/>
<circle cx="592.4" cy="379.8" r="2.5"/>
<circle cx="591.6" cy="330.4" r="2.5"/>
<circle cx="584.9" cy="327.6" r="2.5"/>
<circle cx="580.6" cy="389.2" r="2.5"/>
<circle cx="601.9" cy="329" r="2.5"/>
<circle cx="595.2" cy="370" r="2.5"/>
<circle cx="603.9" cy="334.5" r="2.5"/>
<circle cx="560.1" cy="462.4" r="2.5"/>
<circle cx="575.2" cy="422.1" r="2.5"/>
<circle cx="609.3" cy="250.7" r="2.5"/>
<circle cx="583.7" cy="388" r="2.5"/>
<circle cx="586.5" cy="380.5" r="2.5"/>
<circle cx="571.5" cy="441.5" r="2.5"/>
<circle cx="621.6" cy="271.1" r="2.5"/>
<circle cx="547.3" cy="521" r="2.5"/>
<circle cx="575.5" cy="424.1" r="2.5"/>
<circle cx="594" cy="341.7" r="2.5"/>
<circle cx="588.8" cy="382" r="2.5"/>
<circle cx="605.7" cy="302.3" r="2.5"/>
<circle cx="600.6" cy="341.6" r="2.5"/>
<circle cx="603.5" cy="253.5" r="2.5"/>
<circle cx="581.8" cy="396.9" r="2.5"/>
<circle cx="585.4" cy="388.6" r="2.5"/>
<circle cx="574.9" cy="352.9" r="2.5"/>
<circle cx="544.9" cy="530.4" r="2.5"/>
<circle cx="621.8" cy="254.5" r="2.5"/>
<circle cx="566.3" cy="454.8" r="2.5"/>
<circle cx="615.7" cy="278" r="2.5"/>
<circle cx="616.9" cy="251.3" r="2.5"/>
<circle cx="606.8" cy="288" r="2.5"/>
<circle cx="580.6" cy="358" r="2.5"/>
<circle cx="566.3" cy="429.6" r="2.5"/>
<circle cx="537.5" cy="558.9" r="2.5"/>
<circle cx="596.4" cy="326" r="2.5"/>
<circle cx="576.4" cy="395" r="2.5"/>
<circle cx="624.8" cy="226.1" r="2.5"/>
<circle cx="573.6" cy="399.8" r="2.5"/>
<circle cx="615.4" cy="320" r="2.5"/>
<circle cx="573.7" cy="409" r="2.5"/>
<circle cx="600.9" cy="336.9" r="2.5"/>
<circle cx="576" cy="404.1" r="2.5"/>
<circle cx="577.5" cy="388.7" r="2.5"/>
<circle cx="541.9" cy="536.6" r="2.5"/>
<circle cx="573.5" cy="435.7" r="2.5"/>
<circle cx="583.9" cy="387.1" r="2.5"/>
<circle cx="620.2" cy="263.7" r="2.5"/>
<circle cx="596" cy="350.4" r="2.5"/>
<circle cx="557.1" cy="479.7" r="2.5"/>
<circle cx="619.2" cy="236.7" r="2.5"/>
<circle cx="593.5" cy="343.2" r="2.5"/>
<circle cx="609" cy="277.3" r="2.5"/>
<circle cx="566" cy="452.2" r="2.5"/>
<circle cx="559.8" cy="440.4" r="2.5"/>
<circle cx="562.3" cy="462.5" r="2.5"/>
<circle cx="585.7" cy="350.9" r="2.5"/>
<circle cx="551.7" cy="507.3" r="2.5"/>
<circle cx="566.1" cy="451" r="2.5"/>
<circle cx="553.3" cy="492.2" r="2.5"/>
<circle cx="596.2" cy="362" r="2.5"/>
<circle cx="556.3" cy="453.9" r="2.5"/>
<circle cx="617.7" cy="254.3" r="2.5"/>
<circle cx="614.2" cy="304.9" r="2.5"/>
<circle cx="602.8" cy="300.2" r="2.5"/>
<circle cx="575.1" cy="391.5" r="2.5"/>
<circle cx="592.7" cy="352.2" r="2.5"/>
<circle cx="608.2" cy="297.7" r="2.5"/>
<circle cx="568.8" cy="445.8" r="2.5"/>
<circle cx="621.4" cy="264.6" r="2.5"/>
<circle cx="580" cy="378.9" r="2.5"/>
<circle cx="619.7" cy="262.8" r="2.5"/>
<circle cx="644.2" cy="177.1" r="2.5"/>
<circle cx="612.1" cy="236.5" r="2.5"/>
<circle cx="560.6" cy="465.3" r="2.5"/>
<circle cx="622.2" cy="266.5" r="2.5"/>
<circle cx="584" cy="399.2" r="2.5"/>
<circle cx="578.8" cy="408.5" r="2.5"/>
<circle cx="585.2" cy="392.3" r="2.5"/>
<circle cx="562.1" cy="473.9" r="2.5"/>
<circle cx="581.3" cy="350.9" r="2.5"/>
<circle cx="567.7" cy="433.7" r="2.5"/>
<circle cx="619.1" cy="275.2" r="2.5"/>
<circle cx="600.9" cy="343.8" r="2.5"/>
<circle cx="565.5" cy="455.5" r="2.5"/>
<circle cx="564.3" cy="459.7" r="2.5"/>
<circle cx="567.7" cy="432" r="2.5"/>
<circle cx="564.7" cy="429.7" r="2.5"/>
<circle cx="585.2" cy="354.6" r="2.5"/>
<circle cx="586.3" cy="386.2" r="2.5"/>
<circle cx="563.6" cy="466.9" r="2.5"/>
<circle cx="600.2" cy="334.7" r="2.5"/>
<circle cx="606.2" cy="293.8" r="2.5"/>
<circle cx="585.5" cy="371.6" r="2.5"/>
<circle cx="616.9" cy="270.5" r="2.5"/>
<circle cx="585.3" cy="335.2" r="2.5"/>
<circle cx="569.4" cy="420.7" r="2.5"/>
<circle cx="577" cy="406.5" r="2.5"/>
<circle cx="584.4" cy="372" r="2.5"/>
<circle cx="596.9" cy="326.4" r="2.5"/>
<circle cx="596.6" cy="357.4" r="2.5"/>
<circle cx="616" cy="287.8" r="2.5"/>
<circle cx="627.8" cy="272.7" r="2.5"/>
<circle cx="561.4" cy="459.4" r="2.5"/>
<circle cx="558.8" cy="472.4" r="2.5"/>
<circle cx="579.8" cy="381.3" r="2.5"/>
<circle cx="607.6" cy="333.1" r="2.5"/>
<circle cx="604.1" cy="293.9" r="2.5"/>
<circle cx="592.7" cy="316.5" r="2.5"/>
<circle cx="599" cy="319" r="2.5"/>
<circle cx="565.3" cy="452.3" r="2.5"/>
<circle cx="598.2" cy="339.8" r="2.5"/>
<circle cx="570.4" cy="427.7" r="2.5"/>
<circle cx="596.1" cy="336.4" r="2.5"/>
<circle cx="617.7" cy="294.7" r="2.5"/>
<circle cx="573.5" cy="429.9" r="2.5"/>
<circle cx="577.7" cy="392.9" r="2.5"/>
<circle cx="632.5" cy="160.6" r="2.5"/>
<circle cx="562.8" cy="437.1" r="2.5"/>
<circle cx="579.1" cy="415.6" r="2.5"/>
<circle cx="563.7" cy="466.1" r="2.5"/>
<circle cx="553.3" cy="495.9" r="2.5"/>
<circle cx="617.2" cy="286.5" r="2.5"/>
<circle cx="562.3" cy="430.4" r="2.5"/>
<circle cx="577.7" cy="425.6" r="2.5"/>
<circle cx="563.7" cy="441.1" r="2.5"/>
<circle cx="607.5" cy="307.7" r="2.5"/>
<circle cx="568.7" cy="419.9" r="2.5"/>
<circle cx="579.5" cy="376.8" r="2.5"/>
<circle cx="614.4" cy="254.5" r="2.5"/>
<circle cx="585.2" cy="384.8" r="2.5"/>
<circle cx="593" cy="361.4" r="2.5"/>
<circle cx="592" cy="357.3" r="2.5"/>
<circle cx="605.6" cy="262.3" r="2.5"/>
<circle cx="555" cy="488.4" r="2.5"/>
<circle cx="571.1" cy="420.9" r="2.5"/>
<circle cx="537.2" cy="559.6" r="2.5"/>
<circle cx="594.9" cy="369.9" r="2.5"/>
<circle cx="594.1" cy="316.8" r="2.5"/>
<circle cx="584.7" cy="408.4" r="2.5"/>
<circle cx="635.8" cy="199.5" r="2.5"/>
<circle cx="604.5" cy="286.8" r="2.5"/>
<circle cx="637.1" cy="202.4" r="2.5"/>
<circle cx="585.3" cy="356.4" r="2.5"/>
<circle cx="630.8" cy="214.4" r="2.5"/>
<circle cx="574" cy="414.2" r="2.5"/>
<circle cx="599.4" cy="333.8" r="2.5"/>
<circle cx="594.6" cy="358.4" r="2.5"/>
<circle cx="583.2" cy="405.4" r="2.5"/>
<circle cx="633.8" cy="225.9" r="2.5"/>
<circle cx="621.7" cy="254.4" r="2.5"/>
<circle cx="576.9" cy="426.9" r="2.5"/>
<circle cx="605.8" cy="307.9" r="2.5"/>
<circle cx="577.7" cy="358.5" r="2.5"/>
<circle cx="582.6" cy="352.9" r="2.5"/>
<circle cx="597.1" cy="314.3" r="2.5"/>
<circle cx="579.5" cy="409" r="2.5"/>
<circle cx="595.7" cy="349.3" r="2.5"/>
<circle cx="584.8" cy="339.7" r="2.5"/>
<circle cx="577.1" cy="417.6" r="2.5"/>
<circle cx="575.8" cy="409.2" r="2.5"/>
<circle cx="605.7" cy="291" r="2.5"/>
<circle cx="589.5" cy="362.6" r="2.5"/>
<circle cx="645.4" cy="161.9" r="2.5"/>
<circle cx="631.1" cy="181.7" r="2.5"/>
<circle cx="561.2" cy="428.8" r="2.5"/>
<circle cx="591.4" cy="339.8" r="2.5"/>
<circle cx="541.1" cy="541.2" r="2.5"/>
<circle cx="573.9" cy="424.5" r="2.5"/>
<circle cx="570.3" cy="446.1" r="2.5"/>
<circle cx="563.3" cy="435.8" r="2.5"/>
<circle cx="538.1" cy="554.7" r="2.5"/>
<circle cx="594.5" cy="347.4" r="2.5"/>
<circle cx="593.2" cy="358.2" r="2.5"/>
<circle cx="568.4" cy="440.6" r="2.5"/>
<circle cx="573.6" cy="377.8" r="2.5"/>
<circle cx="617.7" cy="291.6" r="2.5"/>
<circle cx="624.4" cy="233" r="2.5"/>
<circle cx="553.5" cy="485.8" r="2.5"/>
<circle cx="637.9" cy="234.5" r="2.5"/>
<circle cx="548.4" cy="519.5" r="2.5"/>
<circle cx="565.5" cy="442.6" r="2.5"/>
<circle cx="579" cy="405.5" r="2.5"/>
<circle cx="620.8" cy="238.6" r="2.5"/>
<circle cx="599.4" cy="319.6" r="2.5"/>
<circle cx="594.7" cy="321.3" r="2.5"/>
<circle cx="626.6" cy="237.4" r="2.5"/>
<circle cx="584" cy="352.3" r="2.5"/>
<circle cx="569.8" cy="410.5" r="2.5"/>
<circle cx="615.4" cy="245.4" r="2.5"/>
<circle cx="578.2" cy="390.6" r="2.5"/>
<circle cx="558" cy="481.1" r="2.5"/>
<circle cx="546.3" cy="520.9" r="2.5"/>
<circle cx="590.7" cy="358.1" r="2.5"/>
<circle cx="635.5" cy="210.8" r="2.5"/>
<circle cx="591.7" cy="307.6" r="2.5"/>
<circle cx="590.9" cy="367.6" r="2.5"/>
<circle cx="627.6" cy="267.2" r="2.5"/>
<circle cx="555.2" cy="500.2" r="2.5"/>
<circle cx="593" cy="334.6" r="2.5"/>
<circle cx="572" cy="418" r="2.5"/>
<circle cx="623.9" cy="253.1" r="2.5"/>
<circle cx="574.6" cy="444" r="2.5"/>
<circle cx="611" cy="302.6" r="2.5"/>
<circle cx="587.5" cy="354.5" r="2.5"/>
<circle cx="591.5" cy="370.2" r="2.5"/>
<circle cx="593.2" cy="311.9" r="2.5"/>
<circle cx="586.9" cy="382.9" r="2.5"/>
<circle cx="624.7" cy="248" r="2.5"/>
<circle cx="577.7" cy="389.5" r="2.5"/>
<circle cx="537.7" cy="559" r="2.5"/>
<circle cx="614.9" cy="247.2" r="2.5"/>
<circle cx="623.6" cy="256.9" r="2.5"/>
<circle cx="602.7" cy="328" r="2.5"/>
<circle cx="617.2" cy="251.7" r="2.5"/>
<circle cx="600" cy="312.1" r="2.5"/>
<circle cx="565" cy="443.3" r="2.5"/>
<circle cx="539.4" cy="548.1" r="2.5"/>
<circle cx="562.7" cy="461.6" r="2.5"/>
<circle cx="585" cy="396.4" r="2.5"/>
<circle cx="606.3" cy="326.9" r="2.5"/>
<circle cx="552" cy="494.2" r="2.5"/>
<circle cx="560.9" cy="449.7" r="2.5"/>
<circle cx="631.1" cy="241.3" r="2.5"/>
<circle cx="563.4" cy="432.1" r="2.5"/>
<circle cx="569.6" cy="435" r="2.5"/>
<circle cx="564.8" cy="453.9" r="2.5"/>
<circle cx="622.4" cy="232.2" r="2.5"/>
<circle cx="617.3" cy="304" r="2.5"/>
<circle cx="597.8" cy="295.2" r="2.5"/>
<circle cx="624.5" cy="229.7" r="2.5"/>
<circle cx="610.5" cy="289.1" r="2.5"/>
<circle cx="613" cy="256.5" r="2.5"/>
<circle cx="597.6" cy="340.3" r="2.5"/>
<circle cx="607" cy="296.9" r="2.5"/>
<circle cx="604.3" cy="317.7" r="2.5"/>
<circle cx="594.1" cy="311.6" r="2.5"/>
<circle cx="558.9" cy="472.4" r="2.5"/>
<circle cx="577.4" cy="390.4" r="2.5"/>
<circle cx="571.9" cy="403.3" r="2.5"/>
<circle cx="571.4" cy="427.9" r="2.5"/>
<circle cx="568.9" cy="375.7" r="2.5"/>
<circle cx="632" cy="216.5" r="2.5"/>
<circle cx="621.1" cy="291" r="2.5"/>
<circle cx="585.7" cy="363.9" r="2.5"/>
<circle cx="598.2" cy="343.3" r="2.5"/>
<circle cx="607.4" cy="251.3" r="2.5"/>
<circle cx="556.9" cy="476.6" r="2.5"/>
<circle cx="596.3" cy="339" r="2.5"/>
<circle cx="633.2" cy="229.9" r="2.5"/>
<circle cx="608.5" cy="218.1" r="2.5"/>
<circle cx="598.1" cy="295.2" r="2.5"/>
<circle cx="583.2" cy="325.1" r="2.5"/>
<circle cx="543.6" cy="528.1" r="2.5"/>
<circle cx="573.9" cy="433.9" r="2.5"/>
<circle cx="587.8" cy="376.6" r="2.5"/>
<circle cx="600" cy="340.5" r="2.5"/>
<circle cx="607.9" cy="337.7" r="2.5"/>
<circle cx="580.6" cy="419.3" r="2.5"/>
<circle cx="585.5" cy="349.5" r="2.5"/>
<circle cx="571.9" cy="439.1" r="2.5"/>
<circle cx="582.3" cy="392.7" r="2.5"/>
<circle cx="604.1" cy="329.6" r="2.5"/>
<circle cx="595.7" cy="347.1" r="2.5"/>
<circle cx="585.1" cy="358.4" r="2.5"/>
<circle cx="611.3" cy="310.3" r="2.5"/>
<circle cx="602.6" cy="276.8" r="2.5"/>
<circle cx="578.1" cy="398.4" r="2.5"/>
<circle cx="562.8" cy="463.6" r="2.5"/>
<circle cx="568.6" cy="433.1" r="2.5"/>
<circle cx="573.7" cy="415.6" r="2.5"/>
<circle cx="576.1" cy="377.1" r="2.5"/>
<circle cx="551.7" cy="502.4" r="2.5"/>
<circle cx="560.3" cy="438.6" r="2.5"/>
<circle cx="575.9" cy="394.8" r="2.5"/>
<circle cx="614.6" cy="257" r="2.5"/>
<circle cx="599.9" cy="328.3" r="2.5"/>
<circle cx="581.8" cy="385.9" r="2.5"/>
<circle cx="615" cy="297.3" r="2.5"/>
<circle cx="592" cy="357.3" r="2.5"/>
<circle cx="593.4" cy="352.7" r="2.5"/>
<circle cx="605.6" cy="281.4" r="2.5"/>
<circle cx="592.3" cy="343.7" r="2.5"/>
<circle cx="589.5" cy="359.4" r="2.5"/>
<circle cx="601.5" cy="310.7" r="2.5"/>
<circle cx="573" cy="419" r="2.5"/>
<circle cx="581.1" cy="368.2" r="2.5"/>
<circle cx="538.7" cy="551.7" r="2.5"/>
<circle cx="576.3" cy="407.8" r="2.5"/>
<circle cx="628.1" cy="240.3" r="2.5"/>
<circle cx="580.6" cy="402.6" r="2.5"/>
<circle cx="580.2" cy="371.9" r="2.5"/>
<circle cx="575.9" cy="407.9" r="2.5"/>
<circle cx="564" cy="459.5" r="2.5"/>
<circle cx="591.5" cy="330" r="2.5"/>
<circle cx="583.4" cy="373.5" r="2.5"/>
<circle cx="615.5" cy="278.4" r="2.5"/>
<circle cx="568.7" cy="447.4" r="2.5"/>
<circle cx="591" cy="368.3" r="2.5"/>
<circle cx="580.5" cy="400.5" r="2.5"/>
<circle cx="579.1" cy="421.8" r="2.5"/>
<circle cx="618.7" cy="279" r="2.5"/>
<circle cx="569.5" cy="433.9" r="2.5"/>
<circle cx="571.1" cy="433" r="2.5"/>
<circle cx="589.7" cy="377.4" r="2.5"/>
<circle cx="574.5" cy="388.8" r="2.5"/>
<circle cx="601.7" cy="331.7" r="2.5"/>
<circle cx="563.7" cy="457" r="2.5"/>
<circle cx="604.4" cy="341.1" r="2.5"/>
<circle cx="557.7" cy="471.8" r="2.5"/>
<circle cx="574.4" cy="411.6" r="2.5"/>
<circle cx="576.9" cy="420" r="2.5"/>
<circle cx="625.7" cy="255.9" r="2.5"/>
<circle cx="591.4" cy="317" r="2.5"/>
<circle cx="642.5" cy="213.4" r="2.5"/>
<circle cx="621.3" cy="227.9" r="2.5"/>
<circle cx="571.1" cy="429.4" r="2.5"/>
<circle cx="594.7" cy="325.9" r="2.5"/>
<circle cx="573.2" cy="407.9" r="2.5"/>
<circle cx="568.8" cy="424.9" r="2.5"/>
<circle cx="601.4" cy="268.6" r="2.5"/>
<circle cx="613.8" cy="248.3" r="2.5"/>
<circle cx="597.1" cy="359.9" r="2.5"/>
<circle cx="586.4" cy="342.1" r="2.5"/>
<circle cx="599.6" cy="345.9" r="2.5"/>
<circle cx="598.4" cy="343.2" r="2.5"/>
<circle cx="595.4" cy="340.8" r="2.5"/>
<circle cx="562.4" cy="457.1" r="2.5"/>
<circle cx="614" cy="318.4" r="2.5"/>
<circle cx="568.8" cy="429.5" r="2.5"/>
<circle cx="560.4" cy="472.4" r="2.5"/>
<circle cx="581.3" cy="382.9" r="2.5"/>
<circle cx="601.5" cy="347.9" r="2.5"/>
<circle cx="590.5" cy="299.1" r="2.5"/>
<circle cx="590.8" cy="338.5" r="2.5"/>
<circle cx="586.6" cy="345.9" r="2.5"/>
<circle cx="572.5" cy="427.8" r="2.5"/>
<circle cx="591.1" cy="337" r="2.5"/>
<circle cx="600.6" cy="353" r="2.5"/>
<circle cx="600.7" cy="346.2" r="2.5"/>
<circle cx="567.6" cy="434.7" r="2.5"/>
<circle cx="615.6" cy="226" r="2.5"/>
<circle cx="608.4" cy="306.6" r="2.5"/>
<circle cx="594.7" cy="313.2" r="2.5"/>
<circle cx="583.8" cy="363.2" r="2.5"/>
<circle cx="585.8" cy="395.5" r="2.5"/>
<circle cx="622.9" cy="291.8" r="2.5"/>
<circle cx="560.6" cy="484.3" r="2.5"/>
<circle cx="573.2" cy="410.7" r="2.5"/>
<circle cx="579.6" cy="396.4" r="2.5"/>
<circle cx="594.6" cy="322.7" r="2.5"/>
<circle cx="575.1" cy="398" r="2.5"/>
<circle cx="613.8" cy="250.3" r="2.5"/>
<circle cx="548.3" cy="521.8" r="2.5"/>
<circle cx="632.9" cy="237.9" r="2.5"/>
<circle cx="595.4" cy="344.6" r="2.5"/>
<circle cx="599.3" cy="291.4" r="2.5"/>
<circle cx="573.3" cy="415.6" r="2.5"/>
<circle cx="615.4" cy="283.3" r="2.5"/>
<circle cx="578" cy="399.7" r="2.5"/>
<circle cx="588.3" cy="349.9" r="2.5"/>
<circle cx="551.4" cy="498.5" r="2.5"/>
<circle cx="594.8" cy="325.3" r="2.5"/>
<circle cx="584.4" cy="361.3" r="2.5"/>
<circle cx="543.2" cy="533" r="2.5"/>
<circle cx="576.5" cy="380.6" r="2.5"/>
<circle cx="580.3" cy="399.2" r="2.5"/>
<circle cx="598.4" cy="301.8" r="2.5"/>
<circle cx="573.6" cy="429.9" r="2.5"/>
<circle cx="598.8" cy="355.6" r="2.5"/>
<circle cx="628" cy="261.8" r="2.5"/>
<circle cx="565.2" cy="446.7" r="2.5"/>
<circle cx="634.9" cy="211.4" r="2.5"/>
<circle cx="601.1" cy="351.1" r="2.5"/>
<circle cx="578.9" cy="391.6" r="2.5"/>
<circle cx="553.5" cy="488.9" r="2.5"/>
<circle cx="546.3" cy="524.1" r="2.5"/>
<circle cx="602.6" cy="290.4" r="2.5"/>
<circle cx="577.3" cy="411.7" r="2.5"/>
<circle cx="566" cy="425.5" r="2.5"/>
<circle cx="618" cy="281.1" r="2.5"/>
<circle cx="592.2" cy="314.3" r="2.5"/>
<circle cx="589.7" cy="361.7" r="2.5"/>
<circle cx="554.4" cy="497.8" r="2.5"/>
<circle cx="542.4" cy="539.4" r="2.5"/>
<circle cx="604.4" cy="291.3" r="2.5"/>
<circle cx="583.7" cy="376" r="2.5"/>
<circle cx="583.3" cy="394.5" r="2.5"/>
<circle cx="637.1" cy="208.1" r="2.5"/>
<circle cx="569.8" cy="408" r="2.5"/>
<circle cx="591.9" cy="341.1" r="2.5"/>
<circle cx="635.9" cy="187.5" r="2.5"/>
<circle cx="608" cy="319.2" r="2.5"/>
<circle cx="570.2" cy="418.9" r="2.5"/>
<circle cx="566.3" cy="443.9" r="2.5"/>
<circle cx="621.3" cy="267.4" r="2.5"/>
<circle cx="558" cy="477.4" r="2.5"/>
<circle cx="605.9" cy="299.9" r="2.5"/>
<circle cx="624.1" cy="232.6" r="2.5"/>
<circle cx="589.7" cy="379.5" r="2.5"/>
<circle cx="613.1" cy="300.3" r="2.5"/>
<circle cx="583.7" cy="364.7" r="2.5"/>
<circle cx="615.4" cy="249.3" r="2.5"/>
<circle cx="595.7" cy="347.1" r="2.5"/>
<circle cx="568.9" cy="430.5" r="2.5"/>
<circle cx="594.9" cy="339.8" r="2.5"/>
<circle cx="598.7" cy="357.8" r="2.5"/>
<circle cx="573.2" cy="423.2" r="2.5"/>
<circle cx="585.3" cy="390.7" r="2.5"/>
<circle cx="562.2" cy="473.7" r="2.5"/>
<circle cx="567.5" cy="442.4" r="2.5"/>
<circle cx="606.6" cy="315.4" r="2.5"/>
<circle cx="545.6" cy="528.7" r="2.5"/>
<circle cx="602.1" cy="346.7" r="2.5"/>
<circle cx="587.8" cy="369.4" r="2.5"/>
<circle cx="564.7" cy="421" r="2.5"/>
<circle cx="618" cy="250" r="2.5"/>
<circle cx="602.2" cy="311.2" r="2.5"/>
<circle cx="572.3" cy="421.3" r="2.5"/>
<circle cx="588.9" cy="353.1" r="2.5"/>
<circle cx="613.1" cy="291.9" r="2.5"/>
<circle cx="551.2" cy="505.3" r="2.5"/>
<circle cx="598.3" cy="352" r="2.5"/>
<circle cx="580.7" cy="391.6" r="2.5"/>
<circle cx="598.6" cy="336.7" r="2.5"/>
<circle cx="642.4" cy="189.9" r="2.5"/>
<circle cx="575" cy="426.3" r="2.5"/>
<circle cx="574.5" cy="399.7" r="2.5"/>
<circle cx="557.2" cy="473.2" r="2.5"/>
<circle cx="597" cy="351.8" r="2.5"/>
<circle cx="606.4" cy="317.3" r="2.5"/>
<circle cx="618.6" cy="244.5" r="2.5"/>
<circle cx="627.3" cy="233.6" r="2.5"/>
<circle cx="552.1" cy="500.2" r="2.5"/>
<circle cx="596.8" cy="329.8" r="2.5"/>
<circle cx="589.6" cy="362.2" r="2.5"/>
<circle cx="616.7" cy="269.4" r="2.5"/>
<circle cx="575.2" cy="394.1" r="2.5"/>
<circle cx="627.1" cy="258.8" r="2.5"/>
<circle cx="553.7" cy="486.5" r="2.5"/>
<circle cx="589.8" cy="333.7" r="2.5"/>
<circle cx="577" cy="406.2" r="2.5"/>
<circle cx="573.6" cy="409.2" r="2.5"/>
<circle cx="546.8" cy="520.6" r="2.5"/>
<circle cx="573.8" cy="403.7" r="2.5"/>
<circle cx="626.9" cy="250.9" r="2.5"/>
<circle cx="570.6" cy="424.2" r="2.5"/>
<circle cx="580" cy="388.3" r="2.5"/>
<circle cx="587.4" cy="357" r="2.5"/>
<circle cx="561.9" cy="451.3" r="2.5"/>
<circle cx="588.5" cy="345.4" r="2.5"/>
<circle cx="609.2" cy="320" r="2.5"/>
<circle cx="587.2" cy="388.5" r="2.5"/>
<circle cx="544.2" cy="527.3" r="2.5"/>
<circle cx="629.4" cy="236.6" r="2.5"/>
<circle cx="591" cy="363.3" r="2.5"/>
<circle cx="592.2" cy="369.4" r="2.5"/>
<circle cx="578.2" cy="385.7" r="2.5"/>
<circle cx="577.3" cy="418.2" r="2.5"/>
<circle cx="549.9" cy="510.1" r="2.5"/>
<circle cx="588.1" cy="371.6" r="2.5"/>
<circle cx="589.5" cy="354.5" r="2.5"/>
<circle cx="630.9" cy="282.7" r="2.5"/>
<circle cx="618.7" cy="227.2" r="2.5"/>
<circle cx="565.4" cy="429.6" r="2.5"/>
<circle cx="629.6" cy="229.2" r="2.5"/>
<circle cx="589.2" cy="359.7" r="2.5"/>
<circle cx="601.3" cy="316.9" r="2.5"/>
<circle cx="564" cy="454.3" r="2.5"/>
<circle cx="586" cy="337.4" r="2.5"/>
<circle cx="562.2" cy="447.6" r="2.5"/>
<circle cx="604.6" cy="309.2" r="2.5"/>
<circle cx="561.2" cy="474.2" r="2.5"/>
<circle cx="586.8" cy="363.5" r="2.5"/>
<circle cx="576.5" cy="402.8" r="2.5"/>
<circle cx="606" cy="336.3" r="2.5"/>
<circle cx="591.7" cy="345" r="2.5"/>
<circle cx="576.4" cy="352.8" r="2.5"/>
<circle cx="575.8" cy="409.7" r="2.5"/>
<circle cx="608.2" cy="292.2" r="2.5"/>
<circle cx="598.1" cy="317.2" r="2.5"/>
<circle cx="573.9" cy="433.1" r="2.5"/>
<circle cx="609.7" cy="301.9" r="2.5"/>
<circle cx="564.1" cy="421.1" r="2.5"/>
<circle cx="584.2" cy="358.2" r="2.5"/>
<circle cx="579.7" cy="373.9" r="2.5"/>
<circle cx="588.4" cy="373.5" r="2.5"/>
<circle cx="610.6" cy="297.2" r="2.5"/>
<circle cx="546.5" cy="519.8" r="2.5"/>
<circle cx="618.6" cy="256" r="2.5"/>
<circle cx="546" cy="516.8" r="2.5"/>
<circle cx="616.3" cy="258.3" r="2.5"/>
<circle cx="597.4" cy="316.2" r="2.5"/>
<circle cx="551.4" cy="491.9" r="2.5"/>
<circle cx="596.8" cy="333.4" r="2.5"/>
<circle cx="577.5" cy="391" r="2.5"/>
<circle cx="561.8" cy="465.1" r="2.5"/>
<circle cx="616.4" cy="259.5" r="2.5"/>
<circle cx="614" cy="267.1" r="2.5"/>
<circle cx="598.1" cy="330.1" r="2.5"/>
<circle cx="624.9" cy="218.3" r="2.5"/>
<circle cx="597.8" cy="349.5" r="2.5"/>
<circle cx="579.7" cy="385.9" r="2.5"/>
<circle cx="626" cy="249" r="2.5"/>
<circle cx="571.5" cy="425.4" r="2.5"/>
<circle cx="600.5" cy="292.9" r="2.5"/>
<circle cx="613.7" cy="265.5" r="2.5"/>
<circle cx="588.5" cy="342.1" r="2.5"/>
<circle cx="592.7" cy="351.9" r="2.5"/>
<circle cx="594.3" cy="319.2" r="2.5"/>
<circle cx="590.1" cy="339.6" r="2.5"/>
<circle cx="568" cy="420.6" r="2.5"/>
<circle cx="578.2" cy="404.7" r="2.5"/>
<circle cx="554" cy="486.7" r="2.5"/>
<circle cx="606.4" cy="276.4" r="2.5"/>
<circle cx="569.9" cy="399.7" r="2.5"/>
<circle cx="603.5" cy="339.7" r="2.5"/>
<circle cx="612.8" cy="295.4" r="2.5"/>
<circle cx="622.7" cy="271.9" r="2.5"/>
<circle cx="569.7" cy="440.3" r="2.5"/>
<circle cx="651.6" cy="173.8" r="2.5"/>
<circle cx="609.1" cy="280.8" r="2.5"/>
<circle cx="605.3" cy="304.6" r="2.5"/>
<circle cx="569.7" cy="438.6" r="2.5"/>
<circle cx="645.7" cy="185.9" r="2.5"/>
<circle cx="606.3" cy="303" r="2.5"/>
<circle cx="613.2" cy="263.4" r="2.5"/>
<circle cx="568.2" cy="385.7" r="2.5"/>
<circle cx="636.2" cy="195.8" r="2.5"/>
<circle cx="618.7" cy="232.5" r="2.5"/>
<circle cx="581.4" cy="368.7" r="2.5"/>
<circle cx="624" cy="187.7" r="2.5"/>
<circle cx="562.6" cy="451.4" r="2.5"/>
<circle cx="612.5" cy="284.9" r="2.5"/>
<circle cx="605.8" cy="304.5" r="2.5"/>
<circle cx="597.7" cy="301.1" r="2.5"/>
<circle cx="569.2" cy="422" r="2.5"/>
<circle cx="583.2" cy="393" r="2.5"/>
<circle cx="608.2" cy="279.2" r="2.5"/>
<circle cx="613.4" cy="270.5" r="2.5"/>
<circle cx="594" cy="367.7" r="2.5"/>
<circle cx="586.7" cy="386.1" r="2.5"/>
<circle cx="572" cy="408.8" r="2.5"/>
<circle cx="602.5" cy="249" r="2.5"/>
<circle cx="582.8" cy="377.8" r="2.5"/>
<circle cx="576" cy="412.6" r="2.5"/>
<circle cx="545.4" cy="530.1" r="2.5"/>
<circle cx="547.7" cy="520.6" r="2.5"/>
<circle cx="562.4" cy="464.4" r="2.5"/>
<circle cx="540.9" cy="543.9" r="2.5"/>
<circle cx="576.4" cy="404.1" r="2.5"/>
<circle cx="578.1" cy="395.5" r="2.5"/>
<circle cx="560.6" cy="456.2" r="2.5"/>
<circle cx="575.8" cy="406.9" r="2.5"/>
<circle cx="596.6" cy="378.5" r="2.5"/>
<circle cx="546.3" cy="523.3" r="2.5"/>
<circle cx="604.5" cy="309.9" r="2.5"/>
<circle cx="619.3" cy="202.7" r="2.5"/>
<circle cx="548.8" cy="498.7" r="2.5"/>
<circle cx="589" cy="368.9" r="2.5"/>
<circle cx="578.1" cy="402.5" r="2.5"/>
<circle cx="598.8" cy="339.1" r="2.5"/>
<circle cx="570.5" cy="436.7" r="2.5"/>
<circle cx="598.6" cy="325.2" r="2.5"/>
<circle cx="550.6" cy="507.2" r="2.5"/>
<circle cx="604.6" cy="305.9" r="2.5"/>
<circle cx="581.2" cy="396.3" r="2.5"/>
<circle cx="602.6" cy="339.1" r="2.5"/>
<circle cx="602.6" cy="283.4" r="2.5"/>
<circle cx="560.9" cy="474.6" r="2.5"/>
<circle cx="572.8" cy="423" r="2.5"/>
<circle cx="568.5" cy="436.8" r="2.5"/>
<circle cx="592.3" cy="380.3" r="2.5"/>
<circle cx="591.1" cy="357.5" r="2.5"/>
<circle cx="612.8" cy="309.2" r="2.5"/>
<circle cx="590.8" cy="353" r="2.5"/>
<circle cx="580.5" cy="385.4" r="2.5"/>
<circle cx="610.7" cy="324.8" r="2.5"/>
<circle cx="616.8" cy="282.8" r="2.5"/>
<circle cx="614.8" cy="288.1" r="2.5"/>
<circle cx="628.4" cy="190.5" r="2.5"/>
<circle cx="574.2" cy="426" r="2.5"/>
<circle cx="594" cy="351.5" r="2.5"/>
<circle cx="553.3" cy="487.4" r="2.5"/>
<circle cx="563.2" cy="431" r="2.5"/>
<circle cx="598.4" cy="318" r="2.5"/>
<circle cx="623.5" cy="262.9" r="2.5"/>
<circle cx="571.5" cy="413.9" r="2.5"/>
<circle cx="579.5" cy="330.9" r="2.5"/>
<circle cx="582.2" cy="364.3" r="2.5"/>
<circle cx="589.4" cy="327.2" r="2.5"/>
<circle cx="584.9" cy="352.2" r="2.5"/>
<circle cx="574.1" cy="412.2" r="2.5"/>
<circle cx="535.9" cy="564.7" r="2.5"/>
<circle cx="550.1" cy="500.3" r="2.5"/>
<circle cx="598.9" cy="338" r="2.5"/>
<circle cx="582.8" cy="378.6" r="2.5"/>
<circle cx="631.8" cy="191.7" r="2.5"/>
<circle cx="593.9" cy="367" r="2.5"/>
<circle cx="601.3" cy="292.3" r="2.5"/>
<circle cx="559.7" cy="472.8" r="2.5"/>
<circle cx="552.7" cy="491.2" r="2.5"/>
<circle cx="586.5" cy="353.7" r="2.5"/>
<circle cx="622.4" cy="227" r="2.5"/>
<circle cx="592" cy="336.1" r="2.5"/>
<circle cx="572.3" cy="398.3" r="2.5"/>
<circle cx="590.5" cy="336.1" r="2.5"/>
<circle cx="593.6" cy="317.8" r="2.5"/>
<circle cx="599.3" cy="332.2" r="2.5"/>
<circle cx="588.7" cy="368.9" r="2.5"/>
<circle cx="568.4" cy="461.8" r="2.5"/>
<circle cx="559.4" cy="469" r="2.5"/>
<circle cx="574.8" cy="415.3" r="2.5"/>
<circle cx="593.1" cy="382.2" r="2.5"/>
<circle cx="555.9" cy="484" r="2.5"/>
<circle cx="626" cy="233.9" r="2.5"/>
<circle cx="613" cy="319.7" r="2.5"/>
<circle cx="573.8" cy="416.3" r="2.5"/>
<circle cx="605.7" cy="305.3" r="2.5"/>
<circle cx="654.9" cy="162" r="2.5"/>
<circle cx="599.6" cy="349.9" r="2.5"/>
<circle cx="592.6" cy="351.7" r="2.5"/>
<circle cx="616.9" cy="282.5" r="2.5"/>
<circle cx="552.1" cy="487.3" r="2.5"/>
<circle cx="568.8" cy="419.3" r="2.5"/>
<circle cx="569.9" cy="436.7" r="2.5"/>
<circle cx="597.1" cy="304.8" r="2.5"/>
<circle cx="547.3" cy="515.2" r="2.5"/>
<circle cx="599.8" cy="343" r="2.5"/>
<circle cx="573" cy="412.2" r="2.5"/>
<circle cx="585.9" cy="395.2" r="2.5"/>
<circle cx="574" cy="418.6" r="2.5"/>
<circle cx="641.3" cy="244.8" r="2.5"/>
<circle cx="566.9" cy="444.7" r="2.5"/>
<circle cx="555.1" cy="473.2" r="2.5"/>
<circle cx="585.3" cy="344.3" r="2.5"/>
<circle cx="575.4" cy="420.5" r="2.5"/>
<circle cx="596.2" cy="327.2" r="2.5"/>
<circle cx="588.5" cy="376" r="2.5"/>
<circle cx="586.2" cy="367.9" r="2.5"/>
<circle cx="592.6" cy="366.4" r="2.5"/>
<circle cx="546.7" cy="516.2" r="2.5"/>
<circle cx="540.9" cy="544.1" r="2.5"/>
<circle cx="653.8" cy="198.9" r="2.5"/>
<circle cx="560.2" cy="471.8" r="2.5"/>
<circle cx="597.8" cy="326.9" r="2.5"/>
<circle cx="562" cy="467.6" r="2.5"/>
<circle cx="582.6" cy="379.1" r="2.5"/>
<circle cx="573.5" cy="394.2" r="2.5"/>
<circle cx="613.9" cy="247.3" r="2.5"/>
<circle cx="573.8" cy="389.2" r="2.5"/>
<circle cx="550.8" cy="503.1" r="2.5"/>
<circle cx="553.5" cy="493.4" r="2.5"/>
<circle cx="579" cy="345.8" r="2.5"/>
<circle cx="604.8" cy="297.1" r="2.5"/>
<circle cx="640.1" cy="199.5" r="2.5"/>
<circle cx="625.2" cy="189.5" r="2.5"/>
<circle cx="557.2" cy="493.2" r="2.5"/>
<circle cx="582.1" cy="381.7" r="2.5"/>
<circle cx="560.5" cy="476.1" r="2.5"/>
<circle cx="586" cy="347.7" r="2.5"/>
<circle cx="601.7" cy="302.8" r="2.5"/>
<circle cx="545.1" cy="528.2" r="2.5"/>
<circle cx="606" cy="298.4" r="2.5"/>
<circle cx="598.3" cy="309.9" r="2.5"/>
<circle cx="570.8" cy="393.3" r="2.5"/>
<circle cx="576.6" cy="423" r="2.5"/>
<circle cx="624.7" cy="229.4" r="2.5"/>
<circle cx="588.6" cy="384.4" r="2.5"/>
<circle cx="562.6" cy="464.8" r="2.5"/>
<circle cx="587.2" cy="362" r="2.5"/>
<circle cx="612.7" cy="282.8" r="2.5"/>
<circle cx="603.5" cy="312.6" r="2.5"/>
<circle cx="541.2" cy="539.2" r="2.5"/>
<circle cx="557.2" cy="488" r="2.5"/>
<circle cx="578.2" cy="406.9" r="2.5"/>
<circle cx="590.6" cy="359" r="2.5"/>
<circle cx="594.6" cy="359.1" r="2.5"/>
<circle cx="556.5" cy="479.3" r="2.5"/>
<circle cx="603" cy="293.2" r="2.5"/>
<circle cx="596.2" cy="331.3" r="2.5"/>
<circle cx="551.8" cy="506.6" r="2.5"/>
<circle cx="559.7" cy="454" r="2.5"/>
<circle cx="587.9" cy="381.4" r="2.5"/>
<circle cx="552.2" cy="502" r="2.5"/>
<circle cx="590.3" cy="369.3" r="2.5"/>
<circle cx="590.1" cy="357.1" r="2.5"/>
<circle cx="569.8" cy="409.1" r="2.5"/>
<circle cx="603.3" cy="322.2" r="2.5"/>
<circle cx="633" cy="216.6" r="2.5"/>
<circle cx="580.6" cy="427.8" r="2.5"/>
<circle cx="595.5" cy="330.7" r="2.5"/>
<circle cx="579.9" cy="409.9" r="2.5"/>
<circle cx="619.5" cy="240" r="2.5"/>
<circle cx="618.5" cy="264.1" r="2.5"/>
<circle cx="592" cy="371.3" r="2.5"/>
<circle cx="573.4" cy="423.9" r="2.5"/>
<circle cx="600.8" cy="304.2" r="2.5"/>
<circle cx="589.9" cy="376.6" r="2.5"/>
<circle cx="557.5" cy="476.2" r="2.5"/>
<circle cx="565.4" cy="457.1" r="2.5"/>
<circle cx="581.4" cy="385.1" r="2.5"/>
<circle cx="647.1" cy="185.4" r="2.5"/>
<circle cx="610.1" cy="277.7" r="2.5"/>
<circle cx="619.7" cy="252.6" r="2.5"/>
<circle cx="599.6" cy="290.4" r="2.5"/>
<circle cx="614.2" cy="252.9" r="2.5"/>
<circle cx="624.1" cy="242.2" r="2.5"/>
<circle cx="560.8" cy="465.7" r="2.5"/>
<circle cx="605.4" cy="318.8" r="2.5"/>
<circle cx="606.1" cy="317.1" r="2.5"/>
<circle cx="596.3" cy="328.6" r="2.5"/>
<circle cx="604.3" cy="335.1" r="2.5"/>
<circle cx="584.9" cy="355.4" r="2.5"/>
<circle cx="552.9" cy="487.1" r="2.5"/>
<circle cx="606.2" cy="289.2" r="2.5"/>
<circle cx="571.8" cy="415.4" r="2.5"/>
<circle cx="577.5" cy="394.7" r="2.5"/>
<circle cx="585.5" cy="376" r="2.5"/>
<circle cx="539.8" cy="546.1" r="2.5"/>
<circle cx="589.7" cy="386.2" r="2.5"/>
<circle cx="560.7" cy="479.8" r="2.5"/>
<circle cx="608.7" cy="289.7" r="2.5"/>
<circle cx="571" cy="416.9" r="2.5"/>
<circle cx="559.9" cy="468.8" r="2.5"/>
<circle cx="613.5" cy="265.6" r="2.5"/>
<circle cx="583.3" cy="397.1" r="2.5"/>
<circle cx="564.8" cy="454.8" r="2.5"/>
<circle cx="582.1" cy="380.7" r="2.5"/>
<circle cx="583.6" cy="388.5" r="2.5"/>
<circle cx="593.6" cy="351.7" r="2.5"/>
<circle cx="562" cy="457.6" r="2.5"/>
<circle cx="612.7" cy="280.4" r="2.5"/>
<circle cx="597.8" cy="344.1" r="2.5"/>
<circle cx="632.3" cy="232.8" r="2.5"/>
<circle cx="600.8" cy="323.6" r="2.5"/>
<circle cx="560.7" cy="455.3" r="2.5"/>
<circle cx="618.2" cy="280.9" r="2.5"/>
<circle cx="575.6" cy="393.4" r="2.5"/>
<circle cx="590.5" cy="362.6" r="2.5"/>
<circle cx="556.7" cy="478.3" r="2.5"/>
<circle cx="616.7" cy="254.1" r="2.5"/>
<circle cx="624.4" cy="277.1" r="2.5"/>
<circle cx="546.1" cy="521.3" r="2.5"/>
<circle cx="590.7" cy="342.7" r="2.5"/>
<circle cx="600.8" cy="341.6" r="2.5"/>
<circle cx="612.1" cy="264.4" r="2.5"/>
<circle cx="560.8" cy="464.1" r="2.5"/>
<circle cx="547.3" cy="519.6" r="2.5"/>
<circle cx="598.3" cy="344.4" r="2.5"/>
<circle cx="577.3" cy="427.4" r="2.5"/>
<circle cx="574.1" cy="421.2" r="2.5"/>
<circle cx="561.5" cy="447.4" r="2.5"/>
<circle cx="621.9" cy="264.6" r="2.5"/>
<circle cx="568.9" cy="444.4" r="2.5"/>
<circle cx="599.6" cy="288.1" r="2.5"/>
<circle cx="598.4" cy="317.7" r="2.5"/>
<circle cx="573" cy="426.5" r="2.5"/>
<circle cx="608.7" cy="286.8" r="2.5"/>
<circle cx="608" cy="262" r="2.5"/>
<circle cx="588.1" cy="339.5" r="2.5"/>
<circle cx="592.3" cy="389.8" r="2.5"/>
<circle cx="595.9" cy="305.2" r="2.5"/>
<circle cx="567.2" cy="433.7" r="2.5"/>
<circle cx="601.2" cy="327.6" r="2.5"/>
<circle cx="620.8" cy="238.8" r="2.5"/>
<circle cx="559.9" cy="484.8" r="2.5"/>
<circle cx="545.8" cy="524.2" r="2.5"/>
<circle cx="614.1" cy="307.7" r="2.5"/>
<circle cx="562.9" cy="445.4" r="2.5"/>
<circle cx="567.8" cy="408.9" r="2.5"/>
<circle cx="590.4" cy="357.2" r="2.5"/>
<circle cx="573.3" cy="422.9" r="2.5"/>
<circle cx="588" cy="359.4" r="2.5"/>
<circle cx="562" cy="454.1" r="2.5"/>
<circle cx="577.3" cy="415.6" r="2.5"/>
<circle cx="584" cy="377.6" r="2.5"/>
<circle cx="590.8" cy="322.9" r="2.5"/>
<circle cx="578.8" cy="405.7" r="2.5"/>
<circle cx="590.2" cy="341" r="2.5"/>
<circle cx="594.2" cy="318.3" r="2.5"/>
<circle cx="607.9" cy="327" r="2.5"/>
<circle cx="593.3" cy="379.8" r="2.5"/>
<circle cx="617" cy="258.5" r="2.5"/>
<circle cx="566.5" cy="436.1" r="2.5"/>
<circle cx="612.6" cy="280.4" r="2.5"/>
<circle cx="619.6" cy="284.9" r="2.5"/>
<circle cx="594.6" cy="293.7" r="2.5"/>
<circle cx="570.9" cy="413.5" r="2.5"/>
<circle cx="598.3" cy="287.4" r="2.5"/>
<circle cx="607.2" cy="328.6" r="2.5"/>
<circle cx="560.9" cy="465.3" r="2.5"/>
<circle cx="575.6" cy="395.9" r="2.5"/>
<circle cx="559.6" cy="481.6" r="2.5"/>
<circle cx="601.5" cy="337.1" r="2.5"/>
<circle cx="614.2" cy="250.2" r="2.5"/>
<circle cx="612.1" cy="290.4" r="2.5"/>
<circle cx="566.3" cy="454.3" r="2.5"/>
<circle cx="561.3" cy="454.9" r="2.5"/>
<circle cx="585" cy="385.4" r="2.5"/>
<circle cx="581.1" cy="382.1" r="2.5"/>
<circle cx="609.3" cy="305.8" r="2.5"/>
<circle cx="577.3" cy="396.6" r="2.5"/>
<circle cx="610.9" cy="273.1" r="2.5"/>
<circle cx="577" cy="414.1" r="2.5"/>
<circle cx="601" cy="280.5" r="2.5"/>
<circle cx="552.8" cy="492.4" r="2.5"/>
<circle cx="574.7" cy="415.8" r="2.5"/>
<circle cx="597.4" cy="365.3" r="2.5"/>
<circle cx="603.4" cy="298" r="2.5"/>
<circle cx="602.7" cy="323.7" r="2.5"/>
<circle cx="568.7" cy="442.3" r="2.5"/>
<circle cx="556.6" cy="479.4" r="2.5"/>
<circle cx="587.3" cy="370.3" r="2.5"/>
<circle cx="588.8" cy="375.8" r="2.5"/>
<circle cx="579.1" cy="401.7" r="2.5"/>
<circle cx="600.1" cy="370.2" r="2.5"/>
<circle cx="555.7" cy="481.5" r="2.5"/>
<circle cx="590.6" cy="324.8" r="2.5"/>
<circle cx="614.3" cy="283.7" r="2.5"/>
<circle cx="561.7" cy="444" r="2.5"/>
<circle cx="569.5" cy="440.9" r="2.5"/>
<circle cx="613.3" cy="263.6" r="2.5"/>
<circle cx="596.6" cy="277" r="2.5"/>
<circle cx="568.4" cy="435.9" r="2.5"/>
<circle cx="575.9" cy="426.3" r="2.5"/>
<circle cx="546.5" cy="517.2" r="2.5"/>
<circle cx="595" cy="326.4" r="2.5"/>
<circle cx="589.7" cy="351.3" r="2.5"/>
<circle cx="592.5" cy="365.9" r="2.5"/>
<circle cx="632.4" cy="176.2" r="2.5"/>
<circle cx="578.6" cy="383.7" r="2.5"/>
<circle cx="576.8" cy="378.2" r="2.5"/>
<circle cx="587.7" cy="346.5" r="2.5"/>
<circle cx="580" cy="384.3" r="2.5"/>
<circle cx="603" cy="273.8" r="2.5"/>
<circle cx="586.4" cy="382.2" r="2.5"/>
<circle cx="593.8" cy="357.1" r="2.5"/>
<circle cx="646.5" cy="176.2" r="2.5"/>
<circle cx="579.1" cy="417" r="2.5"/>
<circle cx="560.6" cy="469.6" r="2.5"/>
<circle cx="600.6" cy="354.2" r="2.5"/>
<circle cx="573.8" cy="420.1" r="2.5"/>
<circle cx="572.3" cy="421.6" r="2.5"/>
<circle cx="585.7" cy="348.9" r="2.5"/>
<circle cx="615.7" cy="295.2" r="2.5"/>
<circle cx="550.9" cy="498.3" r="2.5"/>
<circle cx="583.7" cy="384.9" r="2.5"/>
<circle cx="540" cy="546.1" r="2.5"/>
<circle cx="601.9" cy="290.1" r="2.5"/>
<circle cx="566.6" cy="456.7" r="2.5"/>
<circle cx="598.1" cy="314" r="2.5"/>
<circle cx="640.2" cy="216.1" r="2.5"/>
<circle cx="614.7" cy="254.9" r="2.5"/>
<circle cx="599.5" cy="333.8" r="2.5"/>
<circle cx="541.2" cy="539.2" r="2.5"/>
<circle cx="617.9" cy="208.9" r="2.5"/>
<circle cx="582" cy="405.5" r="2.5"/>
<circle cx="607.4" cy="302.3" r="2.5"/>
<circle cx="571" cy="413.3" r="2.5"/>
<circle cx="576.1" cy="390.9" r="2.5"/>
<circle cx="620.8" cy="233" r="2.5"/>
<circle cx="550.1" cy="512" r="2.5"/>
<circle cx="564" cy="475.9" r="2.5"/>
<circle cx="580.9" cy="395.7" r="2.5"/>
<circle cx="606.6" cy="280.6" r="2.5"/>
<circle cx="617.7" cy="263.5" r="2.5"/>
<circle cx="582.6" cy="406.1" r="2.5"/>
<circle cx="599.8" cy="311.6" r="2.5"/>
<circle cx="599.7" cy="327.2" r="2.5"/>
<circle cx="615.2" cy="277" r="2.5"/>
<circle cx="637.8" cy="253.2" r="2.5"/>
<circle cx="574.8" cy="396.1" r="2.5"/>
<circle cx="588.4" cy="358.3" r="2.5"/>
<circle cx="586.2" cy="384.9" r="2.5"/>
<circle cx="595.3" cy="352" r="2.5"/>
<circle cx="587.9" cy="396.2" r="2.5"/>
<circle cx="568.8" cy="414.9" r="2.5"/>
<circle cx="567.9" cy="422.1" r="2.5"/>
<circle cx="608.6" cy="305.4" r="2.5"/>
<circle cx="555.9" cy="484.3" r="2.5"/>
<circle cx="581.8" cy="361.8" r="2.5"/>
<circle cx="629.1" cy="253.6" r="2.5"/>
<circle cx="554" cy="489.3" r="2.5"/>
<circle cx="546.8" cy="520.8" r="2.5"/>
<circle cx="599.2" cy="313.1" r="2.5"/>
<circle cx="562.8" cy="439.2" r="2.5"/>
<circle cx="570.8" cy="433.3" r="2.5"/>
<circle cx="614.8" cy="316.4" r="2.5"/>
<circle cx="590.8" cy="344.6" r="2.5"/>
<circle cx="570.7" cy="429.1" r="2.5"/>
<circle cx="581" cy="399.2" r="2.5"/>
<circle cx="550.6" cy="497.4" r="2.5"/>
<circle cx="572" cy="421" r="2.5"/>
<circle cx="588.8" cy="377.9" r="2.5"/>
<circle cx="589.4" cy="324.1" r="2.5"/>
<circle cx="596.2" cy="320.8" r="2.5"/>
<circle cx="637.4" cy="222.6" r="2.5"/>
<circle cx="577.5" cy="377" r="2.5"/>
<circle cx="598.4" cy="285.8" r="2.5"/>
<circle cx="588.1" cy="347.8" r="2.5"/>
<circle cx="564" cy="454.9" r="2.5"/>
<circle cx="598.2" cy="343.7" r="2.5"/>
<circle cx="590.2" cy="340.9" r="2.5"/>
<circle cx="621.7" cy="313.2" r="2.5"/>
<circle cx="592.5" cy="328.6" r="2.5"/>
<circle cx="580.1" cy="359.5" r="2.5"/>
<circle cx="565.3" cy="447.1" r="2.5"/>
<circle cx="583.1" cy="397" r="2.5"/>
<circle cx="589.7" cy="346.3" r="2.5"/>
<circle cx="601.2" cy="315.5" r="2.5"/>
<circle cx="602.1" cy="301.5" r="2.5"/>
<circle cx="585" cy="340.1" r="2.5"/>
<circle cx="600.3" cy="316.6" r="2.5"/>
<circle cx="607.6" cy="248.7" r="2.5"/>
<circle cx="590.2" cy="353.4" r="2.5"/>
<circle cx="573.3" cy="416.7" r="2.5"/>
<circle cx="555.8" cy="492.1" r="2.5"/>
<circle cx="578.1" cy="368.1" r="2.5"/>
<circle cx="598.6" cy="318.2" r="2.5"/>
<circle cx="571.9" cy="403.1" r="2.5"/>
<circle cx="629.1" cy="245.1" r="2.5"/>
<circle cx="564" cy="445.3" r="2.5"/>
<circle cx="575.4" cy="403.2" r="2.5"/>
<circle cx="586.1" cy="375.1" r="2.5"/>
<circle cx="558.5" cy="477.6" r="2.5"/>
<circle cx="623.1" cy="286" r="2.5"/>
<circle cx="568.7" cy="436.2" r="2.5"/>
<circle cx="563.4" cy="473.3" r="2.5"/>
<circle cx="545.4" cy="528.7" r="2.5"/>
<circle cx="614.5" cy="294.4" r="2.5"/>
<circle cx="617.9" cy="264.2" r="2.5"/>
<circle cx="560.6" cy="459.8" r="2.5"/>
<circle cx="556.4" cy="495.1" r="2.5"/>
<circle cx="574.9" cy="412.3" r="2.5"/>
<circle cx="597.1" cy="375" r="2.5"/>
<circle cx="573.9" cy="419.9" r="2.5"/>
<circle cx="594.4" cy="333.1" r="2.5"/>
<circle cx="556.7" cy="464.8" r="2.5"/>
<circle cx="616.1" cy="198" r="2.5"/>
<circle cx="586.5" cy="343.2" r="2.5"/>
<circle cx="599.5" cy="287.3" r="2.5"/>
<circle cx="579.8" cy="408" r="2.5"/>
<circle cx="601.2" cy="291.3" r="2.5"/>
<circle cx="634.7" cy="231.3" r="2.5"/>
<circle cx="557.7" cy="434.6" r="2.5"/>
<circle cx="590.7" cy="361.4" r="2.5"/>
<circle cx="606.9" cy="287.1" r="2.5"/>
<circle cx="586.6" cy="337" r="2.5"/>
<circle cx="565" cy="444.2" r="2.5"/>
<circle cx="575.9" cy="412" r="2.5"/>
<circle cx="594.3" cy="322.2" r="2.5"/>
<circle cx="589.9" cy="343.7" r="2.5"/>
<circle cx="575.4" cy="428.3" r="2.5"/>
<circle cx="595.6" cy="343.6" r="2.5"/>
<circle cx="536.7" cy="561.4" r="2.5"/>
<circle cx="583.7" cy="365.6" r="2.5"/>
<circle cx="606" cy="290" r="2.5"/>
<circle cx="614.8" cy="292.2" r="2.5"/>
<circle cx="576.2" cy="408.6" r="2.5"/>
<circle cx="592.8" cy="350.4" r="2.5"/>
<circle cx="591.8" cy="352.6" r="2.5"/>
<circle cx="578.1" cy="382.2" r="2.5"/>
<circle cx="570.8" cy="441.9" r="2.5"/>
<circle cx="551.4" cy="495.8" r="2.5"/>
<circle cx="570.9" cy="426.6" r="2.5"/>
<circle cx="558.9" cy="481.5" r="2.5"/>
<circle cx="537.2" cy="558.6" r="2.5"/>
<circle cx="621.1" cy="277.5" r="2.5"/>
<circle cx="550.5" cy="507.2" r="2.5"/>
<circle cx="569.6" cy="440.3" r="2.5"/>
<circle cx="563.2" cy="441.7" r="2.5"/>
<circle cx="542.1" cy="537.5" r="2.5"/>
<circle cx="600.9" cy="362" r="2.5"/>
<circle cx="543" cy="537.7" r="2.5"/>
<circle cx="611.6" cy="241.8" r="2.5"/>
<circle cx="549.2" cy="513.2" r="2.5"/>
<circle cx="560.8" cy="462.7" r="2.5"/>
<circle cx="579.7" cy="409.5" r="2.5"/>
<circle cx="575.9" cy="406.9" r="2.5"/>
<circle cx="575.7" cy="395.4" r="2.5"/>
<circle cx="599.3" cy="298.7" r="2.5"/>
<circle cx="605.9" cy="275.4" r="2.5"/>
<circle cx="636.6" cy="184" r="2.5"/>
<circle cx="559.1" cy="476.2" r="2.5"/>
<circle cx="613.3" cy="280.2" r="2.5"/>
<circle cx="591.7" cy="310.4" r="2.5"/>
<circle cx="584.3" cy="393.2" r="2.5"/>
<circle cx="560.2" cy="479.3" r="2.5"/>
<circle cx="613.1" cy="261.6" r="2.5"/>
<circle cx="547.8" cy="518.3" r="2.5"/>
<circle cx="615.9" cy="234.2" r="2.5"/>
<circle cx="607.1" cy="324.3" r="2.5"/>
<circle cx="596" cy="344" r="2.5"/>
<circle cx="602.3" cy="296.1" r="2.5"/>
<circle cx="574.8" cy="416.8" r="2.5"/>
<circle cx="584.8" cy="376.2" r="2.5"/>
<circle cx="600.1" cy="282.6" r="2.5"/>
<circle cx="555.1" cy="464.8" r="2.5"/>
<circle cx="557.3" cy="483.3" r="2.5"/>
<circle cx="552.5" cy="511.1" r="2.5"/>
<circle cx="611.1" cy="300.9" r="2.5"/>
<circle cx="567.4" cy="457.5" r="2.5"/>
<circle cx="581.1" cy="397.1" r="2.5"/>
<circle cx="575.9" cy="410.4" r="2.5"/>
<circle cx="608.1" cy="316.7" r="2.5"/>
<circle cx="590.6" cy="336.9" r="2.5"/>
<circle cx="569.3" cy="438" r="2.5"/>
<circle cx="620.7" cy="247.2" r="2.5"/>
<circle cx="595.7" cy="331.2" r="2.5"/>
<circle cx="587.9" cy="338.4" r="2.5"/>
<circle cx="579" cy="405.8" r="2.5"/>
<circle cx="565.5" cy="397.7" r="2.5"/>
<circle cx="582.6" cy="390.6" r="2.5"/>
<circle cx="584.3" cy="367.1" r="2.5"/>
<circle cx="602.1" cy="332.1" r="2.5"/>
<circle cx="593.3" cy="331.8" r="2.5"/>
<circle cx="577.1" cy="391.1" r="2.5"/>
<circle cx="582.8" cy="379.9" r="2.5"/>
<circle cx="600" cy="308.6" r="2.5"/>
<circle cx="620.6" cy="266.2" r="2.5"/>
<circle cx="612.9" cy="261.6" r="2.5"/>
<circle cx="585.4" cy="371.4" r="2.5"/>
<circle cx="559.9" cy="478.3" r="2.5"/>
<circle cx="591.4" cy="355.4" r="2.5"/>
<circle cx="603.5" cy="354.9" r="2.5"/>
<circle cx="588.1" cy="362.2" r="2.5"/>
<circle cx="610.3" cy="325" r="2.5"/>
<circle cx="574.4" cy="412.2" r="2.5"/>
<circle cx="591.1" cy="359.4" r="2.5"/>
<circle cx="628.4" cy="216.7" r="2.5"/>
<circle cx="581.6" cy="366.8" r="2.5"/>
<circle cx="581.8" cy="397" r="2.5"/>
<circle cx="594.1" cy="325" r="2.5"/>
<circle cx="577" cy="391.2" r="2.5"/>
<circle cx="566.8" cy="432.6" r="2.5"/>
<circle cx="614.6" cy="298.2" r="2.5"/>
<circle cx="592.3" cy="364.8" r="2.5"/>
<circle cx="565.1" cy="428.6" r="2.5"/>
<circle cx="602.3" cy="310.9" r="2.5"/>
<circle cx="592.8" cy="332.1" r="2.5"/>
<circle cx="596.1" cy="337.8" r="2.5"/>
<circle cx="575.4" cy="396.2" r="2.5"/>
<circle cx="597.3" cy="277.9" r="2.5"/>
<circle cx="564.4" cy="447.9" r="2.5"/>
<circle cx="606.1" cy="298.4" r="2.5"/>
<circle cx="631.3" cy="240" r="2.5"/>
<circle cx="559.7" cy="449" r="2.5"/>
<circle cx="603.3" cy="351" r="2.5"/>
<circle cx="546.6" cy="524.8" r="2.5"/>
<circle cx="584.9" cy="368.1" r="2.5"/>
<circle cx="545.9" cy="517.9" r="2.5"/>
<circle cx="557.6" cy="485.9" r="2.5"/>
<circle cx="592.6" cy="354.1" r="2.5"/>
<circle cx="616.6" cy="278.5" r="2.5"/>
<circle cx="589.3" cy="328.1" r="2.5"/>
<circle cx="578.3" cy="390.3" r="2.5"/>
<circle cx="569.7" cy="438.9" r="2.5"/>
<circle cx="582.9" cy="370.1" r="2.5"/>
<circle cx="658" cy="164.2" r="2.5"/>
<circle cx="592.3" cy="249.8" r="2.5"/>
<circle cx="556.3" cy="486.3" r="2.5"/>
<circle cx="568.6" cy="433" r="2.5"/>
<circle cx="556.3" cy="495.1" r="2.5"/>
<circle cx="609.1" cy="323.7" r="2.5"/>
<circle cx="583.6" cy="396.9" r="2.5"/>
<circle cx="552.7" cy="504.2" r="2.5"/>
<circle cx="574.5" cy="387.1" r="2.5"/>
<circle cx="574.4" cy="413.8" r="2.5"/>
<circle cx="563" cy="463.4" r="2.5"/>
<circle cx="579.6" cy="402.7" r="2.5"/>
<circle cx="615.4" cy="297.4" r="2.5"/>
<circle cx="561.2" cy="452.2" r="2.5"/>
<circle cx="580.3" cy="403" r="2.5"/>
<circle cx="555" cy="494.7" r="2.5"/>
<circle cx="586.4" cy="407.5" r="2.5"/>
<circle cx="632.6" cy="254.3" r="2.5"/>
<circle cx="588.1" cy="324.9" r="2.5"/>
<circle cx="571.3" cy="433.1" r="2.5"/>
<circle cx="569.2" cy="423.5" r="2.5"/>
<circle cx="614.6" cy="263.6" r="2.5"/>
<circle cx="587.1" cy="382.6" r="2.5"/>
<circle cx="570.2" cy="415.2" r="2.5"/>
<circle cx="615.5" cy="272.2" r="2.5"/>
<circle cx="579.8" cy="404.9" r="2.5"/>
<circle cx="573.2" cy="431.7" r="2.5"/>
<circle cx="600.1" cy="333.9" r="2.5"/>
<circle cx="555.6" cy="480.3" r="2.5"/>
<circle cx="577.8" cy="405.3" r="2.5"/>
<circle cx="567.9" cy="434.9" r="2.5"/>
<circle cx="604.1" cy="355" r="2.5"/>
<circle cx="582.1" cy="376.5" r="2.5"/>
<circle cx="623.4" cy="209.1" r="2.5"/>
<circle cx="605.4" cy="306.8" r="2.5"/>
<circle cx="593.5" cy="363.3" r="2.5"/>
<circle cx="598.2" cy="316.2" r="2.5"/>
<circle cx="588.7" cy="383.8" r="2.5"/>
<circle cx="589.1" cy="342.4" r="2.5"/>
<circle cx="606.6" cy="314.1" r="2.5"/>
<circle cx="591.2" cy="324.4" r="2.5"/>
<circle cx="615.9" cy="243.1" r="2.5"/>
<circle cx="602.2" cy="315.9" r="2.5"/>
<circle cx="567.1" cy="424.6" r="2.5"/>
<circle cx="604" cy="340.9" r="2.5"/>
<circle cx="564.8" cy="460.7" r="2.5"/>
<circle cx="632.3" cy="190.3" r="2.5"/>
<circle cx="546" cy="524.7" r="2.5"/>
<circle cx="596.7" cy="375.1" r="2.5"/>
<circle cx="600.3" cy="321" r="2.5"/>
<circle cx="564.4" cy="444.7" r="2.5"/>
<circle cx="574.8" cy="401.4" r="2.5"/>
<circle cx="617.8" cy="276.9" r="2.5"/>
<circle cx="558.2" cy="469.7" r="2.5"/>
<circle cx="613.9" cy="286.3" r="2.5"/>
<circle cx="576.6" cy="385.4" r="2.5"/>
<circle cx="584.9" cy="396.6" r="2.5"/>
<circle cx="641.1" cy="196.1" r="2.5"/>
<circle cx="614.2" cy="299" r="2.5"/>
<circle cx="600.4" cy="332.3" r="2.5"/>
<circle cx="583.1" cy="387.5" r="2.5"/>
<circle cx="593.4" cy="350.3" r="2.5"/>
<circle cx="584" cy="380.2" r="2.5"/>
<circle cx="626.2" cy="209" r="2.5"/>
<circle cx="590.8" cy="348.4" r="2.5"/>
<circle cx="578.6" cy="428.4" r="2.5"/>
<circle cx="572.4" cy="408.6" r="2.5"/>
<circle cx="595.6" cy="330.5" r="2.5"/>
<circle cx="562.5" cy="459.9" r="2.5"/>
<circle cx="568.2" cy="430.3" r="2.5"/>
<circle cx="550" cy="503.4" r="2.5"/>
<circle cx="536.2" cy="563.5" r="2.5"/>
<circle cx="641.2" cy="170.4" r="2.5"/>
<circle cx="578.5" cy="383.4" r="2.5"/>
<circle cx="622.2" cy="212.4" r="2.5"/>
<circle cx="597.7" cy="315.7" r="2.5"/>
<circle cx="593.3" cy="339.2" r="2.5"/>
<circle cx="567.3" cy="458.8" r="2.5"/>
<circle cx="597.2" cy="367.4" r="2.5"/>
<circle cx="587.2" cy="349.4" r="2.5"/>
<circle cx="567.3" cy="441.2" r="2.5"/>
<circle cx="612.8" cy="302.5" r="2.5"/>
<circle cx="609.1" cy="257.7" r="2.5"/>
<circle cx="588" cy="322.8" r="2.5"/>
<circle cx="601" cy="344.9" r="2.5"/>
<circle cx="547.9" cy="510" r="2.5"/>
<circle cx="614.1" cy="298.3" r="2.5"/>
<circle cx="563" cy="464.2" r="2.5"/>
<circle cx="564.1" cy="462.2" r="2.5"/>
<circle cx="569.9" cy="421" r="2.5"/>
<circle cx="571.3" cy="448.7" r="2.5"/>
<circle cx="596" cy="359.9" r="2.5"/>
<circle cx="570.7" cy="437.3" r="2.5"/>
<circle cx="586.4" cy="352.5" r="2.5"/>
<circle cx="587" cy="402.3" r="2.5"/>
<circle cx="577.2" cy="386.6" r="2.5"/>
<circle cx="561.8" cy="465.4" r="2.5"/>
<circle cx="597.2" cy="348.3" r="2.5"/>
<circle cx="587.2" cy="340.9" r="2.5"/>
<circle cx="570.6" cy="433.8" r="2.5"/>
<circle cx="549.6" cy="506.1" r="2.5"/>
<circle cx="580.5" cy="359.1" r="2.5"/>
<circle cx="546.7" cy="519" r="2.5"/>
<circle cx="566.5" cy="433" r="2.5"/>
<circle cx="594.3" cy="325.2" r="2.5"/>
<circle cx="615.9" cy="257.2" r="2.5"/>
<circle cx="584.6" cy="389.8" r="2.5"/>
<circle cx="596.3" cy="336.9" r="2.5"/>
<circle cx="614.3" cy="254.9" r="2.5"/>
<circle cx="561.9" cy="456.4" r="2.5"/>
<circle cx="577.4" cy="403.4" r="2.5"/>
<circle cx="586" cy="341.5" r="2.5"/>
<circle cx="616.2" cy="252.4" r="2.5"/>
<circle cx="556.8" cy="468.6" r="2.5"/>
<circle cx="557" cy="471" r="2.5"/>
<circle cx="619.4" cy="283.6" r="2.5"/>
<circle cx="618.8" cy="263.3" r="2.5"/>
<circle cx="576.9" cy="421.2" r="2.5"/>
<circle cx="590.1" cy="362" r="2.5"/>
<circle cx="607" cy="284.4" r="2.5"/>
<circle cx="583.2" cy="386.4" r="2.5"/>
<circle cx="542.6" cy="532.1" r="2.5"/>
<circle cx="594.9" cy="350.2" r="2.5"/>
<circle cx="625.2" cy="286.7" r="2.5"/>
<circle cx="557" cy="477.7" r="2.5"/>
<circle cx="629" cy="256.7" r="2.5"/>
<circle cx="581.2" cy="396.5" r="2.5"/>
<circle cx="546" cy="524.2" r="2.5"/>
<circle cx="596.5" cy="351.2" r="2.5"/>
<circle cx="553.8" cy="501.1" r="2.5"/>
<circle cx="603.7" cy="251.7" r="2.5"/>
<circle cx="601.2" cy="327.9" r="2.5"/>
<circle cx="621.3" cy="216.1" r="2.5"/>
<circle cx="548.6" cy="514.4" r="2.5"/>
<circle cx="586.5" cy="358.8" r="2.5"/>
<circle cx="618.9" cy="244.9" r="2.5"/>
<circle cx="612.4" cy="266.4" r="2.5"/>
<circle cx="602.8" cy="314.9" r="2.5"/>
<circle cx="595.6" cy="337.6" r="2.5"/>
<circle cx="597.9" cy="314" r="2.5"/>
<circle cx="604.3" cy="282.4" r="2.5"/>
<circle cx="645.6" cy="214.2" r="2.5"/>
<circle cx="544" cy="521.8" r="2.5"/>
<circle cx="563.8" cy="457.6" r="2.5"/>
<circle cx="565.7" cy="420.1" r="2.5"/>
<circle cx="583.7" cy="352.4" r="2.5"/>
<circle cx="589.5" cy="336.5" r="2.5"/>
<circle cx="572.3" cy="400.6" r="2.5"/>
<circle cx="579.6" cy="376.6" r="2.5"/>
<circle cx="592.3" cy="303.9" r="2.5"/>
<circle cx="621.3" cy="266.5" r="2.5"/>
<circle cx="567.6" cy="439" r="2.5"/>
<circle cx="583" cy="393.1" r="2.5"/>
<circle cx="590.9" cy="365.3" r="2.5"/>
<circle cx="570.6" cy="427.7" r="2.5"/>
<circle cx="592.3" cy="343.9" r="2.5"/>
<circle cx="581.9" cy="366.3" r="2.5"/>
<circle cx="583.2" cy="407.3" r="2.5"/>
<circle cx="610.2" cy="289.9" r="2.5"/>
<circle cx="586" cy="377.8" r="2.5"/>
<circle cx="570.4" cy="413.3" r="2.5"/>
<circle cx="583.1" cy="365.3" r="2.5"/>
<circle cx="592" cy="348.2" r="2.5"/>
<circle cx="569.9" cy="426.5" r="2.5"/>
<circle cx="568.1" cy="435.5" r="2.5"/>
<circle cx="610.2" cy="275.1" r="2.5"/>
<circle cx="577.4" cy="422.8" r="2.5"/>
<circle cx="609.5" cy="293.1" r="2.5"/>
<circle cx="580.5" cy="386.9" r="2.5"/>
<circle cx="565.5" cy="446.2" r="2.5"/>
<circle cx="560" cy="471.6" r="2.5"/>
<circle cx="546.8" cy="521" r="2.5"/>
<circle cx="597.6" cy="315.7" r="2.5"/>
<circle cx="594.4" cy="319.4" r="2.5"/>
<circle cx="571" cy="411.8" r="2.5"/>
<circle cx="560" cy="469.4" r="2.5"/>
<circle cx="574.2" cy="424.2" r="2.5"/>
<circle cx="587.1" cy="364.8" r="2.5"/>
<circle cx="622.3" cy="269.4" r="2.5"/>
<circle cx="567.7" cy="434.4" r="2.5"/>
<circle cx="545.9" cy="523.7" r="2.5"/>
<circle cx="590.1" cy="359.8" r="2.5"/>
<circle cx="570.1" cy="410.6" r="2.5"/>
<circle cx="565.4" cy="451.9" r="2.5"/>
<circle cx="542.6" cy="541.1" r="2.5"/>
<circle cx="604" cy="330.9" r="2.5"/>
<circle cx="613.6" cy="258.8" r="2.5"/>
<circle cx="563.7" cy="469.2" r="2.5"/>
<circle cx="547.6" cy="510.6" r="2.5"/>
<circle cx="568.9" cy="429.5" r="2.5"/>
<circle cx="574.8" cy="408.5" r="2.5"/>
<circle cx="595.6" cy="337.5" r="2.5"/>
<circle cx="580.3" cy="375.1" r="2.5"/>
<circle cx="545.6" cy="530.7" r="2.5"/>
<circle cx="602.9" cy="360.5" r="2.5"/>
<circle cx="591.4" cy="359.1" r="2.5"/>
<circle cx="574.9" cy="430.6" r="2.5"/>
<circle cx="572.5" cy="359.3" r="2.5"/>
<circle cx="552.7" cy="502.5" r="2.5"/>
<circle cx="571.4" cy="415.5" r="2.5"/>
<circle cx="553.6" cy="503.1" r="2.5"/>
<circle cx="579.5" cy="386.3" r="2.5"/>
<circle cx="590.7" cy="319.7" r="2.5"/>
<circle cx="538.1" cy="555" r="2.5"/>
<circle cx="578.8" cy="382.9" r="2.5"/>
<circle cx="599" cy="322.3" r="2.5"/>
<circle cx="579.7" cy="364" r="2.5"/>
<circle cx="636.8" cy="245.9" r="2.5"/>
<circle cx="585.8" cy="390.1" r="2.5"/>
<circle cx="637.4" cy="197.5" r="2.5"/>
<circle cx="584.5" cy="375.4" r="2.5"/>
<circle cx="557.7" cy="488.2" r="2.5"/>
<circle cx="583.4" cy="395.4" r="2.5"/>
<circle cx="565.8" cy="441.2" r="2.5"/>
<circle cx="611.3" cy="278.6" r="2.5"/>
<circle cx="624.2" cy="241.6" r="2.5"/>
<circle cx="639.3" cy="234.1" r="2.5"/>
<circle cx="597.9" cy="314" r="2.5"/>
<circle cx="583.2" cy="391.6" r="2.5"/>
<circle cx="575.1" cy="429.8" r="2.5"/>
<circle cx="555" cy="477" r="2.5"/>
<circle cx="593.6" cy="321.1" r="2.5"/>
<circle cx="556" cy="487.7" r="2.5"/>
<circle cx="580.9" cy="401.5" r="2.5"/>
<circle cx="590.5" cy="359.7" r="2.5"/>
<circle cx="596.9" cy="340.9" r="2.5"/>
<circle cx="552.9" cy="499.3" r="2.5"/>
<circle cx="555.9" cy="486.7" r="2.5"/>
<circle cx="554.6" cy="480.6" r="2.5"/>
<circle cx="608.7" cy="305.4" r="2.5"/>
<circle cx="560.6" cy="477.2" r="2.5"/>
<circle cx="565.8" cy="457.6" r="2.5"/>
<circle cx="600.3" cy="327" r="2.5"/>
<circle cx="598.2" cy="298.3" r="2.5"/>
<circle cx="633.9" cy="215.5" r="2.5"/>
<circle cx="589" cy="378.6" r="2.5"/>
<circle cx="604.4" cy="296.6" r="2.5"/>
<circle cx="544" cy="530" r="2.5"/>
<circle cx="616.8" cy="322.1" r="2.5"/>
<circle cx="598.3" cy="301.3" r="2.5"/>
<circle cx="615" cy="291.6" r="2.5"/>
<circle cx="575" cy="415.7" r="2.5"/>
<circle cx="627.3" cy="251.3" r="2.5"/>
<circle cx="620" cy="233.1" r="2.5"/>
<circle cx="579.7" cy="371.8" r="2.5"/>
<circle cx="588.9" cy="367.6" r="2.5"/>
<circle cx="565.7" cy="401.4" r="2.5"/>
<circle cx="574" cy="398.1" r="2.5"/>
<circle cx="575.8" cy="372.5" r="2.5"/>
<circle cx="554" cy="482.8" r="2.5"/>
<circle cx="554" cy="490.6" r="2.5"/>
<circle cx="581" cy="396.7" r="2.5"/>
<circle cx="572.8" cy="418.4" r="2.5"/>
<circle cx="608" cy="290.7" r="2.5"/>
<circle cx="578.5" cy="392" r="2.5"/>
<circle cx="562.4" cy="456.5" r="2.5"/>
<circle cx="545.6" cy="527.4" r="2.5"/>
<circle cx="574.8" cy="402.7" r="2.5"/>
<circle cx="564" cy="466.2" r="2.5"/>
<circle cx="544.3" cy="528.7" r="2.5"/>
<circle cx="637" cy="208.9" r="2.5"/>
<circle cx="541.3" cy="539.6" r="2.5"/>
<circle cx="618.9" cy="229.8" r="2.5"/>
<circle cx="592.5" cy="362.2" r="2.5"/>
<circle cx="584.2" cy="409.8" r="2.5"/>
<circle cx="605.9" cy="312.9" r="2.5"/>
<circle cx="567.7" cy="448.6" r="2.5"/>
<circle cx="599.4" cy="354.2" r="2.5"/>
<circle cx="600.6" cy="304.6" r="2.5"/>
<circle cx="557.2" cy="479.2" r="2.5"/>
<circle cx="626" cy="237.1" r="2.5"/>
<circle cx="592.6" cy="363.6" r="2.5"/>
<circle cx="601.1" cy="344.9" r="2.5"/>
<circle cx="615.4" cy="255.9" r="2.5"/>
<circle cx="555" cy="490.9" r="2.5"/>
<circle cx="560.8" cy="478.4" r="2.5"/>
<circle cx="592.8" cy="344.6" r="2.5"/>
<circle cx="595.1" cy="337.4" r="2.5"/>
<circle cx="583.1" cy="390.6" r="2.5"/>
<circle cx="570.3" cy="379.3" r="2.5"/>
<circle cx="575.2" cy="391.3" r="2.5"/>
<circle cx="570.2" cy="453.2" r="2.5"/>
<circle cx="556.1" cy="483.7" r="2.5"/>
<circle cx="566.2" cy="434.5" r="2.5"/>
<circle cx="580.9" cy="360.2" r="2.5"/>
<circle cx="597.1" cy="333.3" r="2.5"/>
<circle cx="558.3" cy="479.3" r="2.5"/>
<circle cx="639.9" cy="221.7" r="2.5"/>
<circle cx="632.9" cy="169.1" r="2.5"/>
<circle cx="586.7" cy="353.4" r="2.5"/>
<circle cx="565.6" cy="440.5" r="2.5"/>
<circle cx="577.7" cy="386.9" r="2.5"/>
<circle cx="609.4" cy="303.3" r="2.5"/>
<circle cx="580.7" cy="379.8" r="2.5"/>
<circle cx="627" cy="208.9" r="2.5"/>
<circle cx="578.4" cy="396.1" r="2.5"/>
<circle cx="609.1" cy="290.2" r="2.5"/>
<circle cx="606.3" cy="331" r="2.5"/>
<circle cx="634.9" cy="177.4" r="2.5"/>
<circle cx="593.3" cy="335.5" r="2.5"/>
<circle cx="602" cy="329.9" r="2.5"/>
<circle cx="565.2" cy="444.4" r="2.5"/>
<circle cx="585.8" cy="393" r="2.5"/>
<circle cx="557.9" cy="484.8" r="2.5"/>
<circle cx="590.9" cy="365.7" r="2.5"/>
<circle cx="579.6" cy="387.8" r="2.5"/>
<circle cx="580.6" cy="367.5" r="2.5"/>
<circle cx="596" cy="335.9" r="2.5"/>
<circle cx="582.8" cy="322.1" r="2.5"/>
<circle cx="545.6" cy="523.1" r="2.5"/>
<circle cx="622.1" cy="259.8" r="2.5"/>
<circle cx="582.2" cy="364" r="2.5"/>
<circle cx="588.1" cy="374.6" r="2.5"/>
<circle cx="608.1" cy="214.5" r="2.5"/>
<circle cx="593.2" cy="346.4" r="2.5"/>
<circle cx="571.1" cy="437.8" r="2.5"/>
<circle cx="563.8" cy="444.1" r="2.5"/>
<circle cx="595" cy="302.2" r="2.5"/>
<circle cx="597.8" cy="364.3" r="2.5"/>
<circle cx="595.7" cy="357.5" r="2.5"/>
<circle cx="554.7" cy="480.6" r="2.5"/>
<circle cx="602.8" cy="355.3" r="2.5"/>
<circle cx="575.2" cy="427.3" r="2.5"/>
<circle cx="568" cy="439" r="2.5"/>
<circle cx="623.8" cy="258.6" r="2.5"/>
<circle cx="591.4" cy="345" r="2.5"/>
<circle cx="585.3" cy="394.2" r="2.5"/>
<circle cx="614.2" cy="284" r="2.5"/>
<circle cx="643.7" cy="207.4" r="2.5"/>
<circle cx="550" cy="500.5" r="2.5"/>
<circle cx="607.1" cy="288.4" r="2.5"/>
<circle cx="592.1" cy="347.6" r="2.5"/>
<circle cx="587.7" cy="376.5" r="2.5"/>
<circle cx="639.4" cy="248.2" r="2.5"/>
<circle cx="607.5" cy="296.3" r="2.5"/>
<circle cx="575.1" cy="408.7" r="2.5"/>
<circle cx="619.2" cy="260.5" r="2.5"/>
<circle cx="587.9" cy="385.9" r="2.5"/>
<circle cx="586.3" cy="370.5" r="2.5"/>
<circle cx="556" cy="483.3" r="2.5"/>
<circle cx="592.7" cy="366.1" r="2.5"/>
<circle cx="589" cy="318" r="2.5"/>
<circle cx="573.9" cy="398" r="2.5"/>
<circle cx="587" cy="367" r="2.5"/>
<circle cx="629" cy="259.4" r="2.5"/>
<circle cx="588" cy="382.5" r="2.5"/>
<circle cx="576.1" cy="424.3" r="2.5"/>
<circle cx="636.9" cy="222.6" r="2.5"/>
<circle cx="571.2" cy="431.4" r="2.5"/>
<circle cx="557.2" cy="481.4" r="2.5"/>
<circle cx="589.5" cy="392.6" r="2.5"/>
<circle cx="553.7" cy="475.2" r="2.5"/>
<circle cx="560.5" cy="469.6" r="2.5"/>
<circle cx="577.7" cy="413.4" r="2.5"/>
<circle cx="582.4" cy="386.3" r="2.5"/>
<circle cx="583.6" cy="392.6" r="2.5"/>
<circle cx="589.8" cy="371.5" r="2.5"/>
<circle cx="645.4" cy="22.3" r="2.5"/>
<circle cx="678.8" cy="84.2" r="2.5"/>
<circle cx="660.5" cy="100.3" r="2.5"/>
<circle cx="674.8" cy="107.2" r="2.5"/>
<circle cx="663.7" cy="114.2" r="2.5"/>
<circle cx="640.7" cy="116.7" r="2.5"/>
<circle cx="652.1" cy="119.9" r="2.5"/>
<circle cx="657.5" cy="121.9" r="2.5"/>
<circle cx="662.7" cy="125.8" r="2.5"/>
<circle cx="655.3" cy="127.3" r="2.5"/>
<circle cx="658.5" cy="129.5" r="2.5"/>
<circle cx="640.4" cy="140.2" r="2.5"/>
<circle cx="642.6" cy="143.2" r="2.5"/>
<circle cx="639.4" cy="143.7" r="2.5"/>
<circle cx="651.3" cy="146.1" r="2.5"/>
<circle cx="649.8" cy="148.1" r="2.5"/>
<circle cx="638.9" cy="149.1" r="2.5"/>
<circle cx="640.7" cy="151.1" r="2.5"/>
<circle cx="644.6" cy="159.8" r="2.5"/>
<circle cx="581.3" cy="440.2" r="2.5"/>
<circle cx="580.1" cy="455.7" r="2.5"/>
<circle cx="573.9" cy="465" r="2.5"/>
<circle cx="556.9" cy="507.4" r="2.5"/>
<circle cx="550.7" cy="531.6" r="2.5"/>
<circle cx="591.6" cy="412.4" r="2.5"/>
<circle cx="586.9" cy="415.5" r="2.5"/>
<circle cx="598.3" cy="387.9" r="2.5"/>
<circle cx="574.2" cy="353.3" r="2.5"/>
<circle cx="621.8" cy="313.6" r="2.5"/>
<circle cx="616.8" cy="324.8" r="2.5"/>
<circle cx="587.3" cy="277.6" r="2.5"/>
<circle cx="559.1" cy="375.3" r="2.5"/>
<circle cx="647.6" cy="216" r="2.5"/>
<circle cx="635.7" cy="252.8" r="2.5"/>
<circle cx="640.8" cy="256.2" r="2.5"/>
<circle cx="534.7" cy="569.6" r="2.5"/>
<circle cx="535.4" cy="568.4" r="2.5"/>
<circle cx="535.9" cy="567.2" r="2.5"/>
<circle cx="535.2" cy="566" r="2.5"/>
</g>
<polyline fill="none" stroke="#00f" stroke-width="1.4" stroke-linejoin="round" points="535.5,561.1 538.5,548.6 541.4,536.1 544.4,523.6 547.4,511.1 550.5,498.6 553.7,486.1 556.9,473.6 560.2,461.1 563.6,448.6 567,436.1 570.5,423.6 574.1,411.1 577.7,398.6 581.3,386.1 585,373.6 588.7,361.1 592.5,348.6 596.3,336.1 600.1,323.6 604,311.1 607.8,298.6 611.8,286.1 615.7,273.6 619.6,261.1 623.6,248.6 627.5,236.1 631.5,223.6 635.5,211.1 639.5,198.6 643.4,186.1 647.4,173.6 651.4,161.1 655.3,148.6 659.3,136.1 663.2,123.6 667.1,111.1 670.9,98.6 674.8,86.1 678.6,73.6"/>
<line stroke="#f00" stroke-width="1.4" x1="529.5" y1="592.3" x2="683.9" y2="0"/>
</g>
<g fill="none" stroke="#000" stroke-width="1.3" stroke-linecap="round">
<rect x="529.5" y="0.6" width="155" height="591.5"/>
<line x1="535" y1="592.1" x2="535" y2="599.3"/>
<line x1="573.2" y1="592.1" x2="573.2" y2="599.3"/>
<line x1="611.4" y1="592.1" x2="611.4" y2="599.3"/>
<line x1="649.6" y1="592.1" x2="649.6" y2="599.3"/>
<line x1="522.7" y1="571.2" x2="529.5" y2="571.2"/>
<line x1="522.7" y1="424.2" x2="529.5" y2="424.2"/>
<line x1="522.7" y1="277.2" x2="529.5" y2="277.2"/>
<line x1="522.7" y1="130.2" x2="529.5" y2="130.2"/>
</g>
<g font-size="11.2" text-anchor="middle" fill="#000" stroke="#000" stroke-width="0.2">
<text x="535" y="617.1">0.0000</text>
<text x="611.4" y="617.1">0.0010</text>
<text transform="translate(513,571.2) rotate(-90)">0.0000</text>
<text transform="translate(513,424.2) rotate(-90)">0.0005</text>
<text transform="translate(513,277.2) rotate(-90)">0.0010</text>
<text transform="translate(513,130.2) rotate(-90)">0.0015</text>
<text x="607" y="643.6">Primary Series (Obs / Exp)</text>
<text transform="translate(486.2,296.3) rotate(-90)">Replicate Series (Obs / Exp)</text>
</g>
</svg></body></html>
